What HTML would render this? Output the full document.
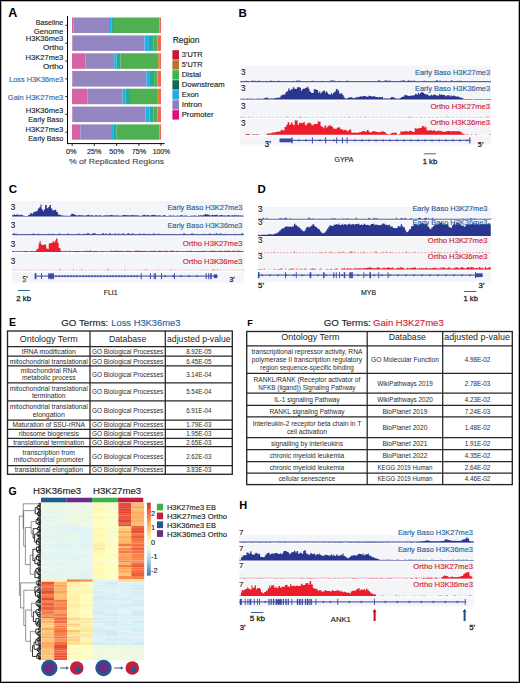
<!DOCTYPE html>
<html><head><meta charset="utf-8"><title>Figure</title>
<style>
html,body{margin:0;padding:0;background:#fff;}
body{width:520px;height:683px;overflow:hidden;position:relative;font-family:"Liberation Sans", sans-serif;}
.frame{position:absolute;left:0;top:0;width:518px;height:681px;border:1px solid #000;box-shadow:inset 0 0 0 1px rgba(0,0,0,0.3);pointer-events:none;}
svg{position:absolute;left:0;top:0;display:block;}
</style></head><body>
<svg width="520" height="683" viewBox="0 0 520 683" font-family='"Liberation Sans", sans-serif'><text x="8.30" y="17.00" font-size="12.5" fill="#000" font-weight="bold" >A</text>
<text x="238.50" y="16.80" font-size="11.5" fill="#000" font-weight="bold" >B</text>
<text x="8.70" y="192.60" font-size="11.5" fill="#000" font-weight="bold" >C</text>
<text x="257.50" y="193.00" font-size="11.5" fill="#000" font-weight="bold" >D</text>
<text x="9.00" y="325.80" font-size="10.5" fill="#000" font-weight="bold" >E</text>
<text x="247.30" y="325.60" font-size="9.0" fill="#000" font-weight="bold" >F</text>
<text x="8.50" y="495.00" font-size="10.5" fill="#000" font-weight="bold" >G</text>
<text x="239.30" y="509.40" font-size="11" fill="#000" font-weight="bold" >H</text>
<text x="35.70" y="24.50" font-size="7.6" fill="#231f20" stroke="#231f20" stroke-width="0.14" textLength="27.60" lengthAdjust="spacingAndGlyphs" >Baseline</text>
<text x="33.80" y="34.00" font-size="7.6" fill="#231f20" stroke="#231f20" stroke-width="0.14" textLength="29.50" lengthAdjust="spacingAndGlyphs" >Genome</text>
<text x="25.80" y="41.20" font-size="7.6" fill="#231f20" stroke="#231f20" stroke-width="0.14" textLength="37.50" lengthAdjust="spacingAndGlyphs" >H3K36me3</text>
<text x="43.00" y="50.40" font-size="7.6" fill="#231f20" stroke="#231f20" stroke-width="0.14" textLength="20.30" lengthAdjust="spacingAndGlyphs" >Ortho</text>
<text x="25.60" y="59.50" font-size="7.6" fill="#231f20" stroke="#231f20" stroke-width="0.14" textLength="37.70" lengthAdjust="spacingAndGlyphs" >H3K27me3</text>
<text x="43.00" y="68.50" font-size="7.6" fill="#231f20" stroke="#231f20" stroke-width="0.14" textLength="20.30" lengthAdjust="spacingAndGlyphs" >Ortho</text>
<text x="9.20" y="81.80" font-size="7.6" fill="#2f6aa3" stroke="#2f6aa3" stroke-width="0.14" textLength="54.10" lengthAdjust="spacingAndGlyphs" >Loss H3K36me3</text>
<text x="7.80" y="99.60" font-size="7.6" fill="#2f6aa3" stroke="#2f6aa3" stroke-width="0.14" textLength="55.50" lengthAdjust="spacingAndGlyphs" >Gain H3K27me3</text>
<text x="25.80" y="112.80" font-size="7.6" fill="#231f20" stroke="#231f20" stroke-width="0.14" textLength="37.50" lengthAdjust="spacingAndGlyphs" >H3K36me3</text>
<text x="28.30" y="122.20" font-size="7.6" fill="#231f20" stroke="#231f20" stroke-width="0.14" textLength="35.00" lengthAdjust="spacingAndGlyphs" >Early Baso</text>
<text x="25.60" y="131.90" font-size="7.6" fill="#231f20" stroke="#231f20" stroke-width="0.14" textLength="37.70" lengthAdjust="spacingAndGlyphs" >H3K27me3</text>
<text x="28.30" y="141.20" font-size="7.6" fill="#231f20" stroke="#231f20" stroke-width="0.14" textLength="35.00" lengthAdjust="spacingAndGlyphs" >Early Baso</text>
<line x1="67.50" y1="16.00" x2="67.50" y2="144.10" stroke="#000" stroke-width="1" />
<line x1="67.00" y1="143.60" x2="164.60" y2="143.60" stroke="#000" stroke-width="1" />
<line x1="65.20" y1="25.30" x2="67.50" y2="25.30" stroke="#000" stroke-width="0.8" />
<line x1="65.20" y1="43.30" x2="67.50" y2="43.30" stroke="#000" stroke-width="0.8" />
<line x1="65.20" y1="61.10" x2="67.50" y2="61.10" stroke="#000" stroke-width="0.8" />
<line x1="65.20" y1="78.90" x2="67.50" y2="78.90" stroke="#000" stroke-width="0.8" />
<line x1="65.20" y1="96.50" x2="67.50" y2="96.50" stroke="#000" stroke-width="0.8" />
<line x1="65.20" y1="114.40" x2="67.50" y2="114.40" stroke="#000" stroke-width="0.8" />
<line x1="65.20" y1="132.20" x2="67.50" y2="132.20" stroke="#000" stroke-width="0.8" />
<line x1="72.20" y1="143.60" x2="72.20" y2="146.00" stroke="#000" stroke-width="0.8" />
<line x1="94.30" y1="143.60" x2="94.30" y2="146.00" stroke="#000" stroke-width="0.8" />
<line x1="116.60" y1="143.60" x2="116.60" y2="146.00" stroke="#000" stroke-width="0.8" />
<line x1="138.90" y1="143.60" x2="138.90" y2="146.00" stroke="#000" stroke-width="0.8" />
<line x1="161.00" y1="143.60" x2="161.00" y2="146.00" stroke="#000" stroke-width="0.8" />
<text x="65.90" y="153.75" font-size="6.8" fill="#231f20" stroke="#231f20" stroke-width="0.14" textLength="10.60" lengthAdjust="spacingAndGlyphs" >0%</text>
<text x="87.05" y="153.75" font-size="6.8" fill="#231f20" stroke="#231f20" stroke-width="0.14" textLength="14.50" lengthAdjust="spacingAndGlyphs" >25%</text>
<text x="109.35" y="153.75" font-size="6.8" fill="#231f20" stroke="#231f20" stroke-width="0.14" textLength="14.50" lengthAdjust="spacingAndGlyphs" >50%</text>
<text x="131.65" y="153.75" font-size="6.8" fill="#231f20" stroke="#231f20" stroke-width="0.14" textLength="14.50" lengthAdjust="spacingAndGlyphs" >75%</text>
<text x="152.65" y="153.75" font-size="6.8" fill="#231f20" stroke="#231f20" stroke-width="0.14" textLength="17.30" lengthAdjust="spacingAndGlyphs" >100%</text>
<text x="68.90" y="164.30" font-size="7.6" fill="#4d4d4f" stroke="#4d4d4f" stroke-width="0.14" textLength="95.20" lengthAdjust="spacingAndGlyphs" >% of Replicated Regions</text>
<rect x="72.00" y="17.50" width="1.70" height="15.50" fill="#d563a6" />
<rect x="73.70" y="17.50" width="35.30" height="15.50" fill="#9386c1" />
<rect x="109.00" y="17.50" width="2.30" height="15.50" fill="#1fb3ea" />
<rect x="111.30" y="17.50" width="1.70" height="15.50" fill="#2aaa95" />
<rect x="113.00" y="17.50" width="46.60" height="15.50" fill="#4eb050" />
<rect x="159.60" y="17.50" width="0.40" height="15.50" fill="#d9893a" />
<rect x="160.00" y="17.50" width="1.00" height="15.50" fill="#f2665a" />
<rect x="72.00" y="35.40" width="0.60" height="15.50" fill="#d563a6" />
<rect x="72.60" y="35.40" width="72.00" height="15.50" fill="#9386c1" />
<rect x="144.60" y="35.40" width="4.40" height="15.50" fill="#1fb3ea" />
<rect x="149.00" y="35.40" width="4.70" height="15.50" fill="#2aaa95" />
<rect x="153.70" y="35.40" width="3.30" height="15.50" fill="#4eb050" />
<rect x="157.00" y="35.40" width="0.40" height="15.50" fill="#d9893a" />
<rect x="157.40" y="35.40" width="3.60" height="15.50" fill="#f2665a" />
<rect x="72.00" y="53.30" width="13.50" height="15.50" fill="#d563a6" />
<rect x="85.50" y="53.30" width="28.70" height="15.50" fill="#9386c1" />
<rect x="114.20" y="53.30" width="2.40" height="15.50" fill="#1fb3ea" />
<rect x="116.60" y="53.30" width="3.70" height="15.50" fill="#2aaa95" />
<rect x="120.30" y="53.30" width="37.80" height="15.50" fill="#4eb050" />
<rect x="158.10" y="53.30" width="1.10" height="15.50" fill="#d9893a" />
<rect x="159.20" y="53.30" width="1.80" height="15.50" fill="#f2665a" />
<rect x="72.00" y="71.00" width="0.60" height="15.60" fill="#d563a6" />
<rect x="72.60" y="71.00" width="73.80" height="15.60" fill="#9386c1" />
<rect x="146.40" y="71.00" width="3.50" height="15.60" fill="#1fb3ea" />
<rect x="149.90" y="71.00" width="4.20" height="15.60" fill="#2aaa95" />
<rect x="154.10" y="71.00" width="3.30" height="15.60" fill="#4eb050" />
<rect x="157.40" y="71.00" width="0.40" height="15.60" fill="#d9893a" />
<rect x="157.80" y="71.00" width="3.20" height="15.60" fill="#f2665a" />
<rect x="72.00" y="88.70" width="15.40" height="15.50" fill="#d563a6" />
<rect x="87.40" y="88.70" width="35.20" height="15.50" fill="#9386c1" />
<rect x="122.60" y="88.70" width="3.20" height="15.50" fill="#1fb3ea" />
<rect x="125.80" y="88.70" width="4.20" height="15.50" fill="#2aaa95" />
<rect x="130.00" y="88.70" width="27.80" height="15.50" fill="#4eb050" />
<rect x="157.80" y="88.70" width="1.20" height="15.50" fill="#d9893a" />
<rect x="159.00" y="88.70" width="2.00" height="15.50" fill="#f2665a" />
<rect x="72.00" y="106.60" width="0.60" height="15.50" fill="#d563a6" />
<rect x="72.60" y="106.60" width="72.90" height="15.50" fill="#9386c1" />
<rect x="145.50" y="106.60" width="4.00" height="15.50" fill="#1fb3ea" />
<rect x="149.50" y="106.60" width="4.20" height="15.50" fill="#2aaa95" />
<rect x="153.70" y="106.60" width="3.30" height="15.50" fill="#4eb050" />
<rect x="157.00" y="106.60" width="0.40" height="15.50" fill="#d9893a" />
<rect x="157.40" y="106.60" width="3.60" height="15.50" fill="#f2665a" />
<rect x="72.00" y="124.40" width="8.40" height="15.30" fill="#d563a6" />
<rect x="80.40" y="124.40" width="31.60" height="15.30" fill="#9386c1" />
<rect x="112.00" y="124.40" width="1.90" height="15.30" fill="#1fb3ea" />
<rect x="113.90" y="124.40" width="2.70" height="15.30" fill="#2aaa95" />
<rect x="116.60" y="124.40" width="43.00" height="15.30" fill="#4eb050" />
<rect x="159.60" y="124.40" width="0.40" height="15.30" fill="#d9893a" />
<rect x="160.00" y="124.40" width="1.00" height="15.30" fill="#f2665a" />
<text x="172.80" y="42.50" font-size="8.2" fill="#231f20" stroke="#231f20" stroke-width="0.14" textLength="26.60" lengthAdjust="spacingAndGlyphs" >Region</text>
<rect x="172.40" y="50.20" width="6.60" height="9.40" fill="#c8173a" />
<text x="181.70" y="56.80" font-size="7.4" fill="#231f20" stroke="#231f20" stroke-width="0.14" textLength="21.00" lengthAdjust="spacingAndGlyphs" >3’UTR</text>
<rect x="172.40" y="60.20" width="6.60" height="9.40" fill="#b8732e" />
<text x="181.70" y="66.80" font-size="7.4" fill="#231f20" stroke="#231f20" stroke-width="0.14" textLength="21.00" lengthAdjust="spacingAndGlyphs" >5’UTR</text>
<rect x="172.40" y="70.20" width="6.60" height="9.40" fill="#3bb44a" />
<text x="181.70" y="76.80" font-size="7.4" fill="#231f20" stroke="#231f20" stroke-width="0.14" textLength="19.40" lengthAdjust="spacingAndGlyphs" >Distal</text>
<rect x="172.40" y="80.20" width="6.60" height="9.40" fill="#11684f" />
<text x="181.70" y="86.80" font-size="7.4" fill="#231f20" stroke="#231f20" stroke-width="0.14" textLength="43.00" lengthAdjust="spacingAndGlyphs" >Downstream</text>
<rect x="172.40" y="90.20" width="6.60" height="9.40" fill="#29a9e1" />
<text x="181.70" y="96.80" font-size="7.4" fill="#231f20" stroke="#231f20" stroke-width="0.14" textLength="17.00" lengthAdjust="spacingAndGlyphs" >Exon</text>
<rect x="172.40" y="100.20" width="6.60" height="9.40" fill="#8a7fbf" />
<text x="181.70" y="106.80" font-size="7.4" fill="#231f20" stroke="#231f20" stroke-width="0.14" textLength="20.30" lengthAdjust="spacingAndGlyphs" >Intron</text>
<rect x="172.40" y="110.20" width="6.60" height="9.40" fill="#e3097e" />
<text x="181.70" y="116.80" font-size="7.4" fill="#231f20" stroke="#231f20" stroke-width="0.14" textLength="32.00" lengthAdjust="spacingAndGlyphs" >Promoter</text>
<rect x="240.20" y="65.50" width="250.80" height="16.90" fill="#f4f5f9" />
<rect x="240.20" y="83.50" width="250.80" height="16.60" fill="#f4f5f9" />
<rect x="240.20" y="101.20" width="250.80" height="17.00" fill="#f4f5f9" />
<rect x="240.20" y="119.30" width="250.80" height="16.10" fill="#f4f5f9" />
<rect x="240.20" y="136.50" width="250.80" height="8.10" fill="#f4f5f9" />
<rect x="240.50" y="68.18" width="5.08" height="7.79" fill="#ffffff" />
<text x="240.90" y="74.90" font-size="8.2" fill="#1a1a1a" stroke="#1a1a1a" stroke-width="0.14" >3</text>
<rect x="240.50" y="84.38" width="5.08" height="7.79" fill="#ffffff" />
<text x="240.90" y="91.10" font-size="8.2" fill="#1a1a1a" stroke="#1a1a1a" stroke-width="0.14" >3</text>
<rect x="240.50" y="102.48" width="5.08" height="7.79" fill="#ffffff" />
<text x="240.90" y="109.20" font-size="8.2" fill="#1a1a1a" stroke="#1a1a1a" stroke-width="0.14" >3</text>
<rect x="240.50" y="119.28" width="5.08" height="7.79" fill="#ffffff" />
<text x="240.90" y="126.00" font-size="8.2" fill="#1a1a1a" stroke="#1a1a1a" stroke-width="0.14" >3</text>
<line x1="240.20" y1="81.65" x2="491.00" y2="81.65" stroke="#2a3590" stroke-width="1.1" opacity="0.75"/>
<rect x="321.42" y="80.86" width="1.91" height="0.54" fill="#2a3590" opacity="0.75"/>
<rect x="258.37" y="80.52" width="1.42" height="0.88" fill="#2a3590" opacity="0.75"/>
<rect x="254.75" y="80.54" width="0.86" height="0.86" fill="#2a3590" opacity="0.75"/>
<rect x="348.96" y="80.94" width="0.95" height="0.46" fill="#2a3590" opacity="0.75"/>
<rect x="346.67" y="80.26" width="1.01" height="1.14" fill="#2a3590" opacity="0.75"/>
<rect x="296.19" y="80.44" width="2.41" height="0.96" fill="#2a3590" opacity="0.75"/>
<rect x="384.94" y="80.64" width="2.46" height="0.76" fill="#2a3590" opacity="0.75"/>
<rect x="251.88" y="80.23" width="1.29" height="1.17" fill="#2a3590" opacity="0.75"/>
<rect x="276.38" y="80.89" width="1.32" height="0.51" fill="#2a3590" opacity="0.75"/>
<rect x="444.88" y="80.84" width="1.79" height="0.56" fill="#2a3590" opacity="0.75"/>
<rect x="400.44" y="80.66" width="1.73" height="0.74" fill="#2a3590" opacity="0.75"/>
<rect x="255.95" y="80.95" width="1.15" height="0.45" fill="#2a3590" opacity="0.75"/>
<rect x="410.84" y="80.62" width="1.33" height="0.78" fill="#2a3590" opacity="0.75"/>
<rect x="387.06" y="80.59" width="1.31" height="0.81" fill="#2a3590" opacity="0.75"/>
<rect x="439.43" y="80.37" width="1.21" height="1.03" fill="#2a3590" opacity="0.75"/>
<rect x="384.27" y="80.53" width="2.29" height="0.87" fill="#2a3590" opacity="0.75"/>
<rect x="423.14" y="80.74" width="2.47" height="0.66" fill="#2a3590" opacity="0.75"/>
<rect x="269.81" y="80.62" width="2.09" height="0.78" fill="#2a3590" opacity="0.75"/>
<rect x="278.32" y="80.56" width="0.87" height="0.84" fill="#2a3590" opacity="0.75"/>
<rect x="407.79" y="80.31" width="1.77" height="1.09" fill="#2a3590" opacity="0.75"/>
<rect x="459.77" y="80.72" width="1.98" height="0.68" fill="#2a3590" opacity="0.75"/>
<rect x="389.27" y="80.48" width="1.58" height="0.92" fill="#2a3590" opacity="0.75"/>
<rect x="450.86" y="80.15" width="1.61" height="1.25" fill="#2a3590" opacity="0.75"/>
<rect x="406.77" y="80.95" width="1.99" height="0.45" fill="#2a3590" opacity="0.75"/>
<rect x="402.50" y="80.11" width="2.20" height="1.29" fill="#2a3590" opacity="0.75"/>
<rect x="311.58" y="80.65" width="1.94" height="0.75" fill="#2a3590" opacity="0.75"/>
<rect x="245.86" y="80.58" width="1.09" height="0.82" fill="#2a3590" opacity="0.75"/>
<rect x="269.57" y="80.95" width="2.11" height="0.45" fill="#2a3590" opacity="0.75"/>
<rect x="272.64" y="80.78" width="1.46" height="0.62" fill="#2a3590" opacity="0.75"/>
<rect x="458.75" y="80.93" width="1.56" height="0.47" fill="#2a3590" opacity="0.75"/>
<rect x="378.00" y="80.20" width="2.19" height="1.20" fill="#2a3590" opacity="0.75"/>
<rect x="456.89" y="80.75" width="1.51" height="0.65" fill="#2a3590" opacity="0.75"/>
<rect x="330.18" y="80.20" width="2.43" height="1.20" fill="#2a3590" opacity="0.75"/>
<rect x="278.05" y="80.84" width="1.19" height="0.56" fill="#2a3590" opacity="0.75"/>
<rect x="298.72" y="80.56" width="1.80" height="0.84" fill="#2a3590" opacity="0.75"/>
<rect x="306.10" y="81.00" width="1.51" height="0.40" fill="#2a3590" opacity="0.75"/>
<rect x="332.81" y="80.49" width="2.42" height="0.91" fill="#2a3590" opacity="0.75"/>
<rect x="413.38" y="80.54" width="1.85" height="0.86" fill="#2a3590" opacity="0.75"/>
<rect x="409.79" y="80.95" width="2.33" height="0.45" fill="#2a3590" opacity="0.75"/>
<rect x="435.82" y="80.21" width="2.16" height="1.19" fill="#2a3590" opacity="0.75"/>
<rect x="338.61" y="80.64" width="0.98" height="0.76" fill="#2a3590" opacity="0.75"/>
<rect x="399.28" y="80.94" width="0.91" height="0.46" fill="#2a3590" opacity="0.75"/>
<rect x="292.56" y="80.85" width="1.38" height="0.55" fill="#2a3590" opacity="0.75"/>
<rect x="253.39" y="81.00" width="1.06" height="0.40" fill="#2a3590" opacity="0.75"/>
<rect x="265.65" y="80.67" width="0.84" height="0.73" fill="#2a3590" opacity="0.75"/>
<path d="M240.20,99.50L240.20,98.72L241.24,98.72L241.24,98.80L242.91,98.80L242.91,98.78L243.77,98.78L243.77,98.81L245.42,98.81L245.42,98.91L246.75,98.91L246.75,98.61L248.08,98.61L248.08,98.63L249.13,98.63L249.13,98.84L250.46,98.84L250.46,98.82L252.08,98.82L252.08,98.66L253.72,98.66L253.72,98.83L254.87,98.83L254.87,98.91L255.92,98.91L255.92,98.64L257.67,98.64L257.67,98.60L258.68,98.60L258.68,98.83L260.11,98.83L260.11,98.67L261.57,98.67L261.57,98.87L263.29,98.87L263.29,98.42L264.26,98.42L264.26,98.11L265.87,98.11L265.87,97.58L267.07,97.58L267.07,97.75L268.03,97.75L268.03,98.39L269.64,98.39L269.64,98.52L271.11,98.52L271.11,98.55L271.90,98.55L271.90,98.40L273.65,98.40L273.65,98.24L275.29,98.24L275.29,97.99L276.38,97.99L276.38,97.78L277.43,97.78L277.43,97.65L279.15,97.65L279.15,97.62L280.54,97.62L280.54,95.52L282.28,95.52L282.28,94.48L283.60,94.48L283.60,94.67L284.57,94.67L284.57,94.23L285.53,94.23L285.53,92.09L286.89,92.09L286.89,91.27L288.25,91.27L288.25,88.41L289.61,88.41L289.61,90.18L291.19,90.18L291.19,89.26L292.76,89.26L292.76,87.30L294.18,87.30L294.18,88.69L295.68,88.69L295.68,89.06L296.96,89.06L296.96,87.18L298.65,87.18L298.65,87.30L300.01,87.30L300.01,87.63L300.93,87.63L300.93,90.98L301.79,90.98L301.79,89.21L303.26,89.21L303.26,88.56L304.20,88.56L304.20,88.74L305.13,88.74L305.13,88.09L306.14,88.09L306.14,87.61L307.43,87.61L307.43,86.45L308.38,86.45L308.38,88.85L309.51,88.85L309.51,91.38L311.04,91.38L311.04,92.81L312.28,92.81L312.28,92.96L313.71,92.96L313.71,89.32L315.51,89.32L315.51,89.49L316.40,89.49L316.40,90.08L317.99,90.08L317.99,92.84L319.21,92.84L319.21,91.26L320.26,91.26L320.26,93.16L321.63,93.16L321.63,91.63L322.47,91.63L322.47,91.33L323.33,91.33L323.33,90.39L324.94,90.39L324.94,92.81L325.79,92.81L325.79,91.18L326.92,91.18L326.92,92.56L327.98,92.56L327.98,94.07L329.01,94.07L329.01,94.48L329.84,94.48L329.84,94.42L330.94,94.42L330.94,93.24L332.24,93.24L332.24,94.42L333.04,94.42L333.04,92.66L334.58,92.66L334.58,91.56L335.85,91.56L335.85,88.92L337.49,88.92L337.49,90.47L339.13,90.47L339.13,93.71L340.63,93.71L340.63,93.33L342.28,93.33L342.28,94.67L343.48,94.67L343.48,96.58L344.39,96.58L344.39,98.16L345.44,98.16L345.44,98.49L347.12,98.49L347.12,97.91L348.15,97.91L348.15,97.75L349.10,97.75L349.10,97.35L350.88,97.35L350.88,97.37L351.91,97.37L351.91,97.71L353.06,97.71L353.06,98.18L354.34,98.18L354.34,97.66L355.64,97.66L355.64,97.79L356.52,97.79L356.52,96.81L357.32,96.81L357.32,97.13L358.71,97.13L358.71,96.72L360.17,96.72L360.17,96.22L361.36,96.22L361.36,96.63L362.29,96.63L362.29,96.19L363.12,96.19L363.12,95.99L364.55,95.99L364.55,96.08L365.47,96.08L365.47,96.51L367.12,96.51L367.12,96.68L368.51,96.68L368.51,95.80L370.01,95.80L370.01,95.96L370.93,95.96L370.93,96.40L372.58,96.40L372.58,96.21L374.01,96.21L374.01,96.30L374.79,96.30L374.79,96.65L376.10,96.65L376.10,97.07L376.95,97.07L376.95,96.94L377.80,96.94L377.80,97.38L378.80,97.38L378.80,96.99L380.09,96.99L380.09,97.27L381.58,97.27L381.58,97.02L383.03,97.02L383.03,98.48L384.58,98.48L384.58,98.33L385.43,98.33L385.43,98.47L386.91,98.47L386.91,98.55L388.17,98.55L388.17,98.42L389.97,98.42L389.97,97.67L391.23,97.67L391.23,96.95L392.48,96.95L392.48,97.37L394.24,97.37L394.24,98.02L395.17,98.02L395.17,98.51L396.80,98.51L396.80,98.60L397.82,98.60L397.82,98.58L398.60,98.58L398.60,98.75L399.53,98.75L399.53,98.06L401.18,98.06L401.18,97.06L402.84,97.06L402.84,96.41L404.36,96.41L404.36,94.71L405.53,94.71L405.53,95.35L406.92,95.35L406.92,95.51L407.98,95.51L407.98,96.08L409.63,96.08L409.63,95.75L410.67,95.75L410.67,95.73L411.65,95.73L411.65,95.54L413.35,95.54L413.35,95.15L415.08,95.15L415.08,93.72L416.61,93.72L416.61,94.79L417.86,94.79L417.86,92.68L418.93,92.68L418.93,94.15L419.85,94.15L419.85,93.18L420.94,93.18L420.94,92.25L421.99,92.25L421.99,92.29L423.35,92.29L423.35,93.08L424.29,93.08L424.29,93.98L425.59,93.98L425.59,94.45L427.41,94.45L427.41,94.57L428.39,94.57L428.39,95.70L429.26,95.70L429.26,95.84L430.63,95.84L430.63,94.75L431.84,94.75L431.84,95.40L433.02,95.40L433.02,94.81L434.08,94.81L434.08,94.45L435.39,94.45L435.39,94.98L436.39,94.98L436.39,95.68L437.59,95.68L437.59,95.48L439.25,95.48L439.25,93.67L440.06,93.67L440.06,94.73L441.34,94.73L441.34,94.40L442.52,94.40L442.52,94.94L444.19,94.94L444.19,94.95L445.09,94.95L445.09,96.20L446.58,96.20L446.58,95.18L448.03,95.18L448.03,95.30L449.38,95.30L449.38,96.43L450.40,96.43L450.40,95.25L451.50,95.25L451.50,96.29L452.94,96.29L452.94,95.57L453.80,95.57L453.80,95.73L454.98,95.73L454.98,96.35L455.77,96.35L455.77,96.48L457.55,96.48L457.55,96.42L458.82,96.42L458.82,97.25L460.60,97.25L460.60,97.61L461.40,97.61L461.40,98.10L462.62,98.10L462.62,98.52L463.64,98.52L463.64,98.91L465.13,98.91L465.13,98.96L466.43,98.96L466.43,98.94L468.06,98.94L468.06,99.08L469.15,99.08L469.15,99.04L470.16,99.04L470.16,99.01L471.10,99.01L471.10,99.09L472.02,99.09L472.02,99.13L473.74,99.13L473.74,99.01L475.49,99.01L475.49,99.09L477.04,99.09L477.04,99.01L478.21,99.01L478.21,99.01L479.28,99.01L479.28,98.95L481.06,98.95L481.06,99.05L482.70,99.05L482.70,99.13L483.87,99.13L483.87,99.11L485.58,99.11L485.58,99.07L487.16,99.07L487.16,99.05L488.89,99.05L488.89,98.99L490.03,98.99L490.03,98.94L491.00,98.94L491.00,99.50Z" fill="#2a3590"/>
<line x1="240.20" y1="117.60" x2="491.00" y2="117.60" stroke="#ec1c2a" stroke-width="0.8" opacity="0.32" stroke-dasharray="1.5,2.5"/>
<rect x="419.93" y="116.82" width="1.27" height="0.68" fill="#ec1c2a" opacity="0.32"/>
<rect x="241.15" y="116.42" width="2.36" height="1.08" fill="#ec1c2a" opacity="0.32"/>
<rect x="399.20" y="116.25" width="0.84" height="1.25" fill="#ec1c2a" opacity="0.32"/>
<rect x="298.85" y="116.67" width="2.43" height="0.83" fill="#ec1c2a" opacity="0.32"/>
<rect x="479.44" y="116.75" width="1.23" height="0.75" fill="#ec1c2a" opacity="0.32"/>
<rect x="348.03" y="116.66" width="2.38" height="0.84" fill="#ec1c2a" opacity="0.32"/>
<rect x="286.08" y="116.38" width="2.06" height="1.12" fill="#ec1c2a" opacity="0.32"/>
<rect x="446.55" y="116.40" width="1.83" height="1.10" fill="#ec1c2a" opacity="0.32"/>
<rect x="322.41" y="116.81" width="1.42" height="0.69" fill="#ec1c2a" opacity="0.32"/>
<rect x="436.39" y="117.03" width="1.14" height="0.47" fill="#ec1c2a" opacity="0.32"/>
<rect x="429.02" y="116.88" width="0.91" height="0.62" fill="#ec1c2a" opacity="0.32"/>
<rect x="248.69" y="116.60" width="1.35" height="0.90" fill="#ec1c2a" opacity="0.32"/>
<rect x="486.05" y="116.30" width="2.48" height="1.20" fill="#ec1c2a" opacity="0.32"/>
<rect x="306.63" y="117.02" width="0.96" height="0.48" fill="#ec1c2a" opacity="0.32"/>
<rect x="365.22" y="116.46" width="1.56" height="1.04" fill="#ec1c2a" opacity="0.32"/>
<rect x="298.94" y="116.72" width="1.85" height="0.78" fill="#ec1c2a" opacity="0.32"/>
<rect x="409.27" y="116.43" width="2.24" height="1.07" fill="#ec1c2a" opacity="0.32"/>
<rect x="406.84" y="116.99" width="2.23" height="0.51" fill="#ec1c2a" opacity="0.32"/>
<path d="M240.20,134.80L240.20,134.80L241.57,134.80L241.57,134.80L243.12,134.80L243.12,134.80L244.15,134.80L244.15,134.80L245.09,134.80L245.09,134.15L246.29,134.15L246.29,134.07L247.91,134.07L247.91,133.91L249.18,133.91L249.18,133.93L250.00,133.93L250.00,134.80L250.91,134.80L250.91,134.80L252.70,134.80L252.70,134.04L254.38,134.04L254.38,134.80L255.43,134.80L255.43,134.03L256.83,134.03L256.83,134.14L257.76,134.14L257.76,134.80L258.80,134.80L258.80,134.12L259.59,134.12L259.59,134.80L261.08,134.80L261.08,134.80L262.18,134.80L262.18,134.80L263.79,134.80L263.79,134.80L264.64,134.80L264.64,134.80L265.83,134.80L265.83,134.13L266.78,134.13L266.78,133.86L267.88,133.86L267.88,133.17L269.25,133.17L269.25,133.57L270.93,133.57L270.93,133.08L271.91,133.08L271.91,132.83L272.70,132.83L272.70,132.46L274.33,132.46L274.33,132.51L275.59,132.51L275.59,132.08L276.94,132.08L276.94,131.67L277.82,131.67L277.82,131.45L279.12,131.45L279.12,131.74L280.44,131.74L280.44,130.13L281.73,130.13L281.73,129.65L282.72,129.65L282.72,130.61L284.51,130.61L284.51,126.97L286.26,126.97L286.26,124.70L287.68,124.70L287.68,122.31L289.28,122.31L289.28,124.69L290.94,124.69L290.94,122.18L291.94,122.18L291.94,123.77L293.12,123.77L293.12,125.28L294.66,125.28L294.66,120.60L296.02,120.60L296.02,120.60L297.67,120.60L297.67,124.72L299.03,124.72L299.03,122.88L300.24,122.88L300.24,122.80L301.71,122.80L301.71,123.48L302.51,123.48L302.51,122.79L303.54,122.79L303.54,122.04L304.79,122.04L304.79,124.72L305.69,124.72L305.69,125.39L306.56,125.39L306.56,124.05L307.38,124.05L307.38,122.96L308.93,122.96L308.93,122.20L309.76,122.20L309.76,123.38L311.53,123.38L311.53,125.31L313.35,125.31L313.35,124.35L314.33,124.35L314.33,123.97L316.10,123.97L316.10,123.95L317.70,123.95L317.70,121.33L318.85,121.33L318.85,121.69L320.56,121.69L320.56,125.92L321.49,125.92L321.49,126.40L322.49,126.40L322.49,127.34L323.60,127.34L323.60,128.29L324.55,128.29L324.55,125.43L326.26,125.43L326.26,127.65L327.16,127.65L327.16,126.82L328.31,126.82L328.31,125.62L329.69,125.62L329.69,125.48L331.51,125.48L331.51,126.77L333.12,126.77L333.12,128.49L334.50,128.49L334.50,128.75L335.74,128.75L335.74,129.35L336.57,129.35L336.57,127.82L338.01,127.82L338.01,127.28L339.48,127.28L339.48,127.83L340.30,127.83L340.30,129.54L341.53,129.54L341.53,129.02L342.44,129.02L342.44,129.71L343.25,129.71L343.25,130.40L344.14,130.40L344.14,129.84L345.53,129.84L345.53,130.18L346.95,130.18L346.95,131.36L348.71,131.36L348.71,129.82L349.59,129.82L349.59,129.41L351.18,129.41L351.18,132.48L351.97,132.48L351.97,132.71L353.12,132.71L353.12,132.68L354.87,132.68L354.87,132.49L356.59,132.49L356.59,132.99L357.79,132.99L357.79,132.40L359.38,132.40L359.38,132.19L361.14,132.19L361.14,131.62L362.56,131.62L362.56,130.93L364.18,130.93L364.18,131.37L365.27,131.37L365.27,131.65L366.87,131.65L366.87,129.91L368.53,129.91L368.53,131.87L370.08,131.87L370.08,132.44L370.97,132.44L370.97,132.31L372.10,132.31L372.10,131.34L373.75,131.34L373.75,131.25L375.11,131.25L375.11,131.60L376.43,131.60L376.43,132.03L378.22,132.03L378.22,132.35L379.01,132.35L379.01,132.35L380.57,132.35L380.57,131.56L381.69,131.56L381.69,131.52L382.72,131.52L382.72,131.48L384.22,131.48L384.22,132.12L385.49,132.12L385.49,133.54L386.72,133.54L386.72,133.80L387.72,133.80L387.72,134.02L388.65,134.02L388.65,134.80L389.54,134.80L389.54,134.07L390.35,134.07L390.35,133.57L391.79,133.57L391.79,132.89L392.64,132.89L392.64,132.87L394.27,132.87L394.27,132.69L395.12,132.69L395.12,132.76L396.88,132.76L396.88,134.80L397.87,134.80L397.87,134.80L398.69,134.80L398.69,134.08L400.33,134.08L400.33,131.35L401.21,131.35L401.21,131.75L402.21,131.75L402.21,131.47L403.01,131.47L403.01,131.53L404.53,131.53L404.53,131.37L406.31,131.37L406.31,131.13L407.74,131.13L407.74,131.82L408.97,131.82L408.97,130.79L410.48,130.79L410.48,131.00L412.16,131.00L412.16,131.71L413.12,131.71L413.12,131.95L414.69,131.95L414.69,128.30L415.98,128.30L415.98,128.75L416.95,128.75L416.95,128.39L418.60,128.39L418.60,128.34L419.67,128.34L419.67,128.08L420.97,128.08L420.97,128.12L421.84,128.12L421.84,126.01L423.43,126.01L423.43,126.56L424.63,126.56L424.63,127.65L425.50,127.65L425.50,126.78L426.50,126.78L426.50,130.27L427.80,130.27L427.80,130.59L428.82,130.59L428.82,130.51L430.38,130.51L430.38,130.00L431.53,130.00L431.53,130.70L433.18,130.70L433.18,130.24L434.14,130.24L434.14,130.58L435.52,130.58L435.52,131.20L437.22,131.20L437.22,131.12L438.32,131.12L438.32,130.32L439.26,130.32L439.26,131.16L440.38,131.16L440.38,130.67L441.50,130.67L441.50,131.57L443.04,131.57L443.04,132.10L443.92,132.10L443.92,131.80L445.53,131.80L445.53,131.29L446.51,131.29L446.51,131.34L447.51,131.34L447.51,131.03L448.70,131.03L448.70,131.09L450.00,131.09L450.00,131.31L450.93,131.31L450.93,131.39L452.48,131.39L452.48,130.99L453.86,130.99L453.86,131.14L454.87,131.14L454.87,131.20L456.46,131.20L456.46,131.24L457.95,131.24L457.95,131.32L459.05,131.32L459.05,131.36L460.27,131.36L460.27,132.01L461.70,132.01L461.70,133.40L462.96,133.40L462.96,133.63L464.70,133.63L464.70,134.80L466.16,134.80L466.16,134.35L467.96,134.35L467.96,134.80L469.30,134.80L469.30,134.80L470.90,134.80L470.90,134.32L472.27,134.32L472.27,134.80L473.80,134.80L473.80,134.80L475.24,134.80L475.24,134.32L477.01,134.32L477.01,134.80L478.50,134.80L478.50,134.80L480.08,134.80L480.08,134.80L481.88,134.80L481.88,134.80L482.72,134.80L482.72,134.80L483.91,134.80L483.91,134.80L485.13,134.80L485.13,134.80L486.64,134.80L486.64,134.80L487.69,134.80L487.69,134.80L489.24,134.80L489.24,134.32L490.86,134.32L490.86,134.80L491.00,134.80L491.00,134.80Z" fill="#ec1c2a"/>
<line x1="279.60" y1="140.40" x2="470.30" y2="140.40" stroke="#5a63b8" stroke-width="1.2" />
<rect x="291.40" y="137.40" width="1.20" height="6.00" fill="#3b49a6" />
<rect x="311.90" y="137.40" width="1.00" height="6.00" fill="#3b49a6" />
<rect x="325.10" y="137.40" width="1.00" height="6.00" fill="#3b49a6" />
<rect x="336.20" y="137.40" width="1.00" height="6.00" fill="#3b49a6" />
<rect x="342.00" y="137.40" width="1.00" height="6.00" fill="#3b49a6" />
<rect x="346.60" y="137.40" width="1.00" height="6.00" fill="#3b49a6" />
<rect x="469.20" y="137.40" width="1.20" height="6.00" fill="#3b49a6" />
<rect x="279.60" y="138.50" width="12.70" height="3.80" fill="#3b49a6" />
<path d="M299.30,139.40L297.70,140.40L299.30,141.40Z" fill="#3b49a6" stroke="#3b49a6" stroke-width="0.3"/>
<path d="M306.30,139.40L304.70,140.40L306.30,141.40Z" fill="#3b49a6" stroke="#3b49a6" stroke-width="0.3"/>
<path d="M320.30,139.40L318.70,140.40L320.30,141.40Z" fill="#3b49a6" stroke="#3b49a6" stroke-width="0.3"/>
<path d="M334.30,139.40L332.70,140.40L334.30,141.40Z" fill="#3b49a6" stroke="#3b49a6" stroke-width="0.3"/>
<path d="M355.30,139.40L353.70,140.40L355.30,141.40Z" fill="#3b49a6" stroke="#3b49a6" stroke-width="0.3"/>
<path d="M362.30,139.40L360.70,140.40L362.30,141.40Z" fill="#3b49a6" stroke="#3b49a6" stroke-width="0.3"/>
<path d="M369.30,139.40L367.70,140.40L369.30,141.40Z" fill="#3b49a6" stroke="#3b49a6" stroke-width="0.3"/>
<path d="M376.30,139.40L374.70,140.40L376.30,141.40Z" fill="#3b49a6" stroke="#3b49a6" stroke-width="0.3"/>
<path d="M383.30,139.40L381.70,140.40L383.30,141.40Z" fill="#3b49a6" stroke="#3b49a6" stroke-width="0.3"/>
<path d="M390.30,139.40L388.70,140.40L390.30,141.40Z" fill="#3b49a6" stroke="#3b49a6" stroke-width="0.3"/>
<path d="M397.30,139.40L395.70,140.40L397.30,141.40Z" fill="#3b49a6" stroke="#3b49a6" stroke-width="0.3"/>
<path d="M404.30,139.40L402.70,140.40L404.30,141.40Z" fill="#3b49a6" stroke="#3b49a6" stroke-width="0.3"/>
<path d="M411.30,139.40L409.70,140.40L411.30,141.40Z" fill="#3b49a6" stroke="#3b49a6" stroke-width="0.3"/>
<path d="M418.30,139.40L416.70,140.40L418.30,141.40Z" fill="#3b49a6" stroke="#3b49a6" stroke-width="0.3"/>
<path d="M425.30,139.40L423.70,140.40L425.30,141.40Z" fill="#3b49a6" stroke="#3b49a6" stroke-width="0.3"/>
<path d="M432.30,139.40L430.70,140.40L432.30,141.40Z" fill="#3b49a6" stroke="#3b49a6" stroke-width="0.3"/>
<path d="M439.30,139.40L437.70,140.40L439.30,141.40Z" fill="#3b49a6" stroke="#3b49a6" stroke-width="0.3"/>
<path d="M446.30,139.40L444.70,140.40L446.30,141.40Z" fill="#3b49a6" stroke="#3b49a6" stroke-width="0.3"/>
<path d="M453.30,139.40L451.70,140.40L453.30,141.40Z" fill="#3b49a6" stroke="#3b49a6" stroke-width="0.3"/>
<path d="M460.30,139.40L458.70,140.40L460.30,141.40Z" fill="#3b49a6" stroke="#3b49a6" stroke-width="0.3"/>
<path d="M467.30,139.40L465.70,140.40L467.30,141.40Z" fill="#3b49a6" stroke="#3b49a6" stroke-width="0.3"/>
<text x="415.00" y="74.70" font-size="7.2" fill="#2a5f98" stroke="#2a5f98" stroke-width="0.14" textLength="75.10" lengthAdjust="spacingAndGlyphs" >Early Baso H3K27me3</text>
<text x="415.00" y="90.60" font-size="7.2" fill="#2a5f98" stroke="#2a5f98" stroke-width="0.14" textLength="75.10" lengthAdjust="spacingAndGlyphs" >Early Baso H3K36me3</text>
<text x="430.40" y="108.80" font-size="7.2" fill="#cc2338" stroke="#cc2338" stroke-width="0.14" textLength="59.70" lengthAdjust="spacingAndGlyphs" >Ortho H3K27me3</text>
<text x="430.40" y="125.30" font-size="7.2" fill="#cc2338" stroke="#cc2338" stroke-width="0.14" textLength="59.70" lengthAdjust="spacingAndGlyphs" >Ortho H3K36me3</text>
<text x="264.80" y="146.80" font-size="8.2" fill="#1e1e1e" stroke="#1e1e1e" stroke-width="0.28" textLength="6.20" lengthAdjust="spacingAndGlyphs" >3’</text>
<text x="477.70" y="146.80" font-size="8.0" fill="#1e1e1e" font-weight="bold" textLength="6.10" lengthAdjust="spacingAndGlyphs" >5’</text>
<text x="334.40" y="161.90" font-size="6.6" fill="#231f20" stroke="#231f20" stroke-width="0.14" textLength="19.10" lengthAdjust="spacingAndGlyphs" >GYPA</text>
<line x1="423.90" y1="153.80" x2="435.90" y2="153.80" stroke="#2a6ea0" stroke-width="1" />
<text x="422.70" y="163.50" font-size="7.8" fill="#231f20" stroke="#231f20" stroke-width="0.28" textLength="14.60" lengthAdjust="spacingAndGlyphs" >1 kb</text>
<rect x="12.00" y="200.80" width="231.75" height="16.40" fill="#f4f5f9" />
<rect x="12.00" y="218.30" width="231.75" height="17.10" fill="#f4f5f9" />
<rect x="12.00" y="236.50" width="231.75" height="16.20" fill="#f4f5f9" />
<rect x="12.00" y="253.80" width="231.75" height="17.10" fill="#f4f5f9" />
<rect x="12.00" y="272.00" width="231.75" height="10.70" fill="#f4f5f9" />
<rect x="10.40" y="203.28" width="5.08" height="7.79" fill="#ffffff" />
<text x="10.80" y="210.00" font-size="8.2" fill="#1a1a1a" stroke="#1a1a1a" stroke-width="0.14" >3</text>
<rect x="10.40" y="221.28" width="5.08" height="7.79" fill="#ffffff" />
<text x="10.80" y="228.00" font-size="8.2" fill="#1a1a1a" stroke="#1a1a1a" stroke-width="0.14" >3</text>
<rect x="10.40" y="239.78" width="5.08" height="7.79" fill="#ffffff" />
<text x="10.80" y="246.50" font-size="8.2" fill="#1a1a1a" stroke="#1a1a1a" stroke-width="0.14" >3</text>
<rect x="10.40" y="257.03" width="5.08" height="7.79" fill="#ffffff" />
<text x="10.80" y="263.75" font-size="8.2" fill="#1a1a1a" stroke="#1a1a1a" stroke-width="0.14" >3</text>
<path d="M12.00,216.60L12.00,215.20L13.62,215.20L13.62,214.59L14.99,214.59L14.99,215.02L16.13,215.02L16.13,214.60L17.76,214.60L17.76,214.77L19.11,214.77L19.11,215.21L20.26,215.21L20.26,214.45L21.43,214.45L21.43,215.04L22.41,215.04L22.41,215.56L23.48,215.56L23.48,215.83L24.70,215.83L24.70,215.94L26.45,215.94L26.45,216.12L28.17,216.12L28.17,215.01L29.82,215.01L29.82,213.38L30.61,213.38L30.61,212.89L31.65,212.89L31.65,214.21L32.67,214.21L32.67,212.77L33.61,212.77L33.61,212.00L34.57,212.00L34.57,211.63L36.16,211.63L36.16,210.88L37.76,210.88L37.76,208.42L39.26,208.42L39.26,207.25L40.49,207.25L40.49,204.47L41.55,204.47L41.55,209.37L42.84,209.37L42.84,211.14L43.77,211.14L43.77,209.38L45.11,209.38L45.11,205.07L46.77,205.07L46.77,208.27L48.24,208.27L48.24,207.10L49.46,207.10L49.46,205.08L50.90,205.08L50.90,208.49L52.31,208.49L52.31,210.60L53.44,210.60L53.44,210.35L54.72,210.35L54.72,209.74L56.25,209.74L56.25,212.11L57.92,212.11L57.92,214.51L59.25,214.51L59.25,214.75L60.48,214.75L60.48,215.34L62.12,215.34L62.12,215.47L63.43,215.47L63.43,215.70L64.89,215.70L64.89,215.86L65.98,215.86L65.98,215.75L66.80,215.75L66.80,215.63L67.63,215.63L67.63,216.06L69.37,216.06L69.37,215.50L71.10,215.50L71.10,213.99L72.53,213.99L72.53,213.83L74.02,213.83L74.02,214.72L75.27,214.72L75.27,214.63L76.24,214.63L76.24,215.57L77.97,215.57L77.97,215.18L79.61,215.18L79.61,215.01L80.65,215.01L80.65,215.40L81.77,215.40L81.77,215.35L83.52,215.35L83.52,215.66L84.34,215.66L84.34,215.66L85.72,215.66L85.72,214.97L86.51,214.97L86.51,215.32L88.27,215.32L88.27,214.86L89.47,214.86L89.47,215.55L90.48,215.55L90.48,215.41L91.26,215.41L91.26,215.16L93.05,215.16L93.05,215.65L93.96,215.65L93.96,215.80L94.99,215.80L94.99,215.28L95.82,215.28L95.82,215.19L97.49,215.19L97.49,215.73L99.01,215.73L99.01,215.24L100.79,215.24L100.79,215.68L102.25,215.68L102.25,215.84L103.79,215.84L103.79,215.31L104.63,215.31L104.63,215.42L106.12,215.42L106.12,215.28L107.57,215.28L107.57,215.52L109.16,215.52L109.16,215.28L110.25,215.28L110.25,215.10L111.89,215.10L111.89,215.33L113.53,215.33L113.53,215.58L115.24,215.58L115.24,215.56L116.64,215.56L116.64,215.16L117.72,215.16L117.72,215.77L118.94,215.77L118.94,215.41L120.64,215.41L120.64,215.76L122.26,215.76L122.26,215.17L123.33,215.17L123.33,215.09L124.82,215.09L124.82,215.02L125.69,215.02L125.69,215.29L126.68,215.29L126.68,215.17L127.70,215.17L127.70,215.26L128.96,215.26L128.96,215.58L130.53,215.58L130.53,215.15L131.40,215.15L131.40,215.07L132.42,215.07L132.42,215.24L134.12,215.24L134.12,215.31L135.51,215.31L135.51,215.58L136.48,215.58L136.48,215.20L137.85,215.20L137.85,215.39L138.78,215.39L138.78,215.71L139.95,215.71L139.95,215.70L141.55,215.70L141.55,215.65L142.69,215.65L142.69,215.06L143.50,215.06L143.50,214.85L144.79,214.85L144.79,215.17L146.38,215.17L146.38,215.33L147.96,215.33L147.96,215.01L149.00,215.01L149.00,215.63L149.97,215.63L149.97,215.49L151.33,215.49L151.33,215.03L153.10,215.03L153.10,214.64L154.50,214.64L154.50,215.37L156.27,215.37L156.27,215.39L158.05,215.39L158.05,215.57L159.00,215.57L159.00,215.20L159.82,215.20L159.82,215.60L161.54,215.60L161.54,215.90L163.05,215.90L163.05,215.12L163.99,215.12L163.99,215.34L165.08,215.34L165.08,215.51L166.19,215.51L166.19,215.89L167.15,215.89L167.15,215.94L167.94,215.94L167.94,215.76L169.69,215.76L169.69,215.44L171.39,215.44L171.39,215.68L173.14,215.68L173.14,215.59L174.27,215.59L174.27,215.67L175.20,215.67L175.20,215.93L176.55,215.93L176.55,215.47L177.76,215.47L177.76,215.76L178.89,215.76L178.89,215.67L180.61,215.67L180.61,215.06L182.32,215.06L182.32,215.72L183.40,215.72L183.40,215.82L185.21,215.82L185.21,215.37L186.29,215.37L186.29,215.85L187.37,215.85L187.37,215.95L188.51,215.95L188.51,215.97L189.84,215.97L189.84,215.69L190.84,215.69L190.84,215.84L192.42,215.84L192.42,215.65L193.30,215.65L193.30,215.58L194.29,215.58L194.29,215.43L195.68,215.43L195.68,215.83L196.88,215.83L196.88,215.89L198.01,215.89L198.01,215.35L198.81,215.35L198.81,215.53L199.86,215.53L199.86,215.31L200.81,215.31L200.81,215.45L201.60,215.45L201.60,215.19L202.91,215.19L202.91,215.34L204.54,215.34L204.54,214.12L206.06,214.12L206.06,214.66L206.91,214.66L206.91,214.26L208.20,214.26L208.20,214.83L209.54,214.83L209.54,215.57L210.55,215.57L210.55,215.59L211.59,215.59L211.59,214.71L212.47,214.71L212.47,215.03L213.27,215.03L213.27,215.17L214.60,215.17L214.60,215.12L216.28,215.12L216.28,214.79L217.19,214.79L217.19,215.25L218.26,215.25L218.26,215.63L219.18,215.63L219.18,215.31L220.11,215.31L220.11,215.29L221.06,215.29L221.06,215.09L222.25,215.09L222.25,215.39L223.58,215.39L223.58,215.46L225.16,215.46L225.16,215.53L226.29,215.53L226.29,215.47L227.91,215.47L227.91,215.10L229.57,215.10L229.57,215.72L231.35,215.72L231.35,215.16L232.57,215.16L232.57,215.51L233.42,215.51L233.42,215.22L234.34,215.22L234.34,215.23L235.78,215.23L235.78,215.16L236.60,215.16L236.60,215.60L237.66,215.60L237.66,215.20L238.70,215.20L238.70,215.50L239.78,215.50L239.78,215.40L241.18,215.40L241.18,215.49L242.44,215.49L242.44,215.77L243.36,215.77L243.36,215.63L243.75,215.63L243.75,216.60Z" fill="#2a3590"/>
<line x1="12.00" y1="234.65" x2="243.75" y2="234.65" stroke="#2a3590" stroke-width="1.1" opacity="0.75"/>
<rect x="32.36" y="233.51" width="2.23" height="0.89" fill="#2a3590" opacity="0.75"/>
<rect x="153.36" y="233.49" width="1.91" height="0.91" fill="#2a3590" opacity="0.75"/>
<rect x="58.63" y="233.36" width="1.58" height="1.04" fill="#2a3590" opacity="0.75"/>
<rect x="139.01" y="233.45" width="1.60" height="0.95" fill="#2a3590" opacity="0.75"/>
<rect x="83.96" y="233.78" width="1.18" height="0.62" fill="#2a3590" opacity="0.75"/>
<rect x="130.76" y="233.66" width="1.80" height="0.74" fill="#2a3590" opacity="0.75"/>
<rect x="14.75" y="233.68" width="2.27" height="0.72" fill="#2a3590" opacity="0.75"/>
<rect x="67.28" y="233.50" width="1.64" height="0.90" fill="#2a3590" opacity="0.75"/>
<rect x="78.01" y="233.11" width="1.30" height="1.29" fill="#2a3590" opacity="0.75"/>
<rect x="190.94" y="233.86" width="0.91" height="0.54" fill="#2a3590" opacity="0.75"/>
<rect x="213.92" y="233.60" width="0.91" height="0.80" fill="#2a3590" opacity="0.75"/>
<rect x="101.89" y="233.60" width="2.05" height="0.80" fill="#2a3590" opacity="0.75"/>
<rect x="37.32" y="233.80" width="2.43" height="0.60" fill="#2a3590" opacity="0.75"/>
<rect x="183.18" y="233.86" width="1.37" height="0.54" fill="#2a3590" opacity="0.75"/>
<rect x="93.68" y="233.39" width="1.85" height="1.01" fill="#2a3590" opacity="0.75"/>
<rect x="208.99" y="233.26" width="1.68" height="1.14" fill="#2a3590" opacity="0.75"/>
<rect x="183.21" y="233.33" width="2.09" height="1.07" fill="#2a3590" opacity="0.75"/>
<rect x="122.14" y="233.29" width="2.00" height="1.11" fill="#2a3590" opacity="0.75"/>
<rect x="223.98" y="233.89" width="2.28" height="0.51" fill="#2a3590" opacity="0.75"/>
<rect x="13.00" y="233.31" width="1.80" height="1.09" fill="#2a3590" opacity="0.75"/>
<rect x="127.38" y="233.13" width="1.77" height="1.27" fill="#2a3590" opacity="0.75"/>
<rect x="108.85" y="233.29" width="2.28" height="1.11" fill="#2a3590" opacity="0.75"/>
<rect x="152.75" y="233.66" width="1.57" height="0.74" fill="#2a3590" opacity="0.75"/>
<rect x="118.12" y="233.35" width="1.30" height="1.05" fill="#2a3590" opacity="0.75"/>
<rect x="102.54" y="233.50" width="1.45" height="0.90" fill="#2a3590" opacity="0.75"/>
<rect x="86.62" y="233.29" width="2.24" height="1.11" fill="#2a3590" opacity="0.75"/>
<rect x="127.77" y="233.60" width="1.11" height="0.80" fill="#2a3590" opacity="0.75"/>
<rect x="82.46" y="233.87" width="1.78" height="0.53" fill="#2a3590" opacity="0.75"/>
<rect x="146.78" y="233.92" width="2.36" height="0.48" fill="#2a3590" opacity="0.75"/>
<rect x="87.06" y="233.24" width="2.22" height="1.16" fill="#2a3590" opacity="0.75"/>
<rect x="234.19" y="233.82" width="1.52" height="0.58" fill="#2a3590" opacity="0.75"/>
<rect x="223.03" y="233.99" width="0.88" height="0.41" fill="#2a3590" opacity="0.75"/>
<rect x="142.92" y="233.55" width="2.36" height="0.85" fill="#2a3590" opacity="0.75"/>
<rect x="191.25" y="233.52" width="2.50" height="0.88" fill="#2a3590" opacity="0.75"/>
<rect x="131.92" y="233.53" width="1.96" height="0.87" fill="#2a3590" opacity="0.75"/>
<rect x="102.27" y="233.68" width="1.81" height="0.72" fill="#2a3590" opacity="0.75"/>
<rect x="93.37" y="233.15" width="1.95" height="1.25" fill="#2a3590" opacity="0.75"/>
<rect x="133.73" y="233.91" width="1.44" height="0.49" fill="#2a3590" opacity="0.75"/>
<rect x="104.91" y="233.49" width="1.78" height="0.91" fill="#2a3590" opacity="0.75"/>
<rect x="215.90" y="233.13" width="1.63" height="1.27" fill="#2a3590" opacity="0.75"/>
<rect x="114.01" y="233.44" width="2.49" height="0.96" fill="#2a3590" opacity="0.75"/>
<rect x="91.56" y="233.52" width="2.19" height="0.88" fill="#2a3590" opacity="0.75"/>
<rect x="51.56" y="233.71" width="2.46" height="0.69" fill="#2a3590" opacity="0.75"/>
<rect x="203.43" y="233.54" width="0.99" height="0.86" fill="#2a3590" opacity="0.75"/>
<rect x="219.30" y="233.38" width="2.19" height="1.02" fill="#2a3590" opacity="0.75"/>
<rect x="241.49" y="233.20" width="1.52" height="1.20" fill="#2a3590" opacity="0.75"/>
<rect x="48.25" y="233.74" width="1.67" height="0.66" fill="#2a3590" opacity="0.75"/>
<rect x="129.01" y="233.83" width="1.11" height="0.57" fill="#2a3590" opacity="0.75"/>
<rect x="158.03" y="233.46" width="1.40" height="0.94" fill="#2a3590" opacity="0.75"/>
<rect x="242.30" y="233.43" width="0.87" height="0.97" fill="#2a3590" opacity="0.75"/>
<path d="M12.00,252.10L12.00,251.02L13.50,251.02L13.50,251.30L14.89,251.30L14.89,251.40L16.24,251.40L16.24,251.16L18.06,251.16L18.06,251.26L19.00,251.26L19.00,251.44L19.96,251.44L19.96,251.06L21.58,251.06L21.58,251.47L22.70,251.47L22.70,251.33L23.75,251.33L23.75,251.00L24.90,251.00L24.90,251.07L26.60,251.07L26.60,250.93L28.03,250.93L28.03,251.43L29.70,251.43L29.70,251.02L30.79,251.02L30.79,250.92L32.56,250.92L32.56,251.23L33.57,251.23L33.57,251.00L35.17,251.00L35.17,251.24L36.15,251.24L36.15,249.38L37.51,249.38L37.51,248.47L38.69,248.47L38.69,243.49L39.60,243.49L39.60,241.09L40.64,241.09L40.64,243.77L41.66,243.77L41.66,245.16L42.80,245.16L42.80,244.88L43.67,244.88L43.67,244.68L44.59,244.68L44.59,244.42L46.20,244.42L46.20,248.62L47.74,248.62L47.74,248.88L48.73,248.88L48.73,243.59L49.75,243.59L49.75,243.19L51.26,243.19L51.26,242.66L52.65,242.66L52.65,241.30L54.07,241.30L54.07,242.44L54.97,242.44L54.97,240.49L56.04,240.49L56.04,238.60L57.50,238.60L57.50,242.74L58.68,242.74L58.68,247.98L60.35,247.98L60.35,250.47L61.24,250.47L61.24,251.05L62.33,251.05L62.33,251.17L63.24,251.17L63.24,251.20L64.97,251.20L64.97,250.80L65.89,250.80L65.89,251.32L67.36,251.32L67.36,251.14L68.86,251.14L68.86,250.81L70.30,250.81L70.30,251.27L71.84,251.27L71.84,251.24L72.79,251.24L72.79,251.20L73.61,251.20L73.61,250.96L75.26,250.96L75.26,250.88L76.50,250.88L76.50,250.91L78.14,250.91L78.14,250.97L79.81,250.97L79.81,251.34L80.71,251.34L80.71,251.28L82.27,251.28L82.27,250.94L83.82,250.94L83.82,251.17L85.59,251.17L85.59,250.76L87.14,250.76L87.14,250.91L87.97,250.91L87.97,251.06L89.72,251.06L89.72,250.59L91.23,250.59L91.23,251.13L93.02,251.13L93.02,251.02L93.86,251.02L93.86,251.09L94.96,251.09L94.96,250.90L95.99,250.90L95.99,251.00L97.74,251.00L97.74,251.17L98.67,251.17L98.67,251.17L100.02,251.17L100.02,251.28L101.42,251.28L101.42,250.89L102.32,250.89L102.32,251.11L103.16,251.11L103.16,251.25L104.41,251.25L104.41,251.19L105.57,251.19L105.57,251.20L107.38,251.20L107.38,251.35L109.18,251.35L109.18,251.35L110.41,251.35L110.41,250.82L112.15,250.82L112.15,250.91L113.61,250.91L113.61,251.19L114.41,251.19L114.41,250.82L115.39,250.82L115.39,250.77L116.34,250.77L116.34,250.77L117.46,250.77L117.46,250.77L118.63,250.77L118.63,251.09L119.65,251.09L119.65,251.00L121.29,251.00L121.29,250.75L122.58,250.75L122.58,251.23L123.97,251.23L123.97,250.93L125.21,250.93L125.21,251.15L126.44,251.15L126.44,250.63L128.10,250.63L128.10,250.78L129.17,250.78L129.17,250.99L130.31,250.99L130.31,250.91L132.03,250.91L132.03,251.16L133.39,251.16L133.39,251.26L134.51,251.26L134.51,250.74L136.19,250.74L136.19,250.67L137.81,250.67L137.81,250.86L138.90,250.86L138.90,250.70L140.35,250.70L140.35,251.09L141.16,251.09L141.16,250.92L142.03,250.92L142.03,251.11L143.24,251.11L143.24,251.00L144.14,251.00L144.14,250.76L145.04,250.76L145.04,251.16L146.37,251.16L146.37,251.06L147.39,251.06L147.39,251.31L148.78,251.31L148.78,250.93L150.02,250.93L150.02,250.98L151.58,250.98L151.58,250.69L152.47,250.69L152.47,251.06L154.25,251.06L154.25,250.85L155.84,250.85L155.84,251.19L156.63,251.19L156.63,251.26L158.15,251.26L158.15,250.80L159.83,250.80L159.83,250.71L160.79,250.71L160.79,251.10L162.28,251.10L162.28,251.30L163.82,251.30L163.82,250.66L165.23,250.66L165.23,250.94L166.13,250.94L166.13,250.90L167.11,250.90L167.11,250.78L168.01,250.78L168.01,251.27L168.98,251.27L168.98,251.21L170.16,251.21L170.16,250.80L171.65,250.80L171.65,250.39L172.79,250.39L172.79,250.94L174.40,250.94L174.40,251.24L175.89,251.24L175.89,251.08L177.55,251.08L177.55,250.79L178.41,250.79L178.41,251.19L179.80,251.19L179.80,251.29L181.07,251.29L181.07,251.15L181.85,251.15L181.85,250.97L183.11,250.97L183.11,251.34L184.59,251.34L184.59,251.24L185.64,251.24L185.64,251.05L187.45,251.05L187.45,250.99L189.14,250.99L189.14,250.94L190.30,250.94L190.30,250.82L192.05,250.82L192.05,251.14L193.60,251.14L193.60,250.96L194.95,250.96L194.95,251.33L196.07,251.33L196.07,251.09L197.10,251.09L197.10,251.15L197.89,251.15L197.89,251.08L199.26,251.08L199.26,251.10L200.36,251.10L200.36,250.89L202.11,250.89L202.11,250.72L202.97,250.72L202.97,250.93L204.13,250.93L204.13,251.07L204.98,251.07L204.98,250.77L206.02,250.77L206.02,251.23L207.54,251.23L207.54,251.13L208.94,251.13L208.94,250.95L210.49,250.95L210.49,250.71L212.11,250.71L212.11,251.10L213.08,251.10L213.08,250.79L214.82,250.79L214.82,251.12L216.28,251.12L216.28,250.92L217.12,250.92L217.12,251.33L218.25,251.33L218.25,251.01L219.51,251.01L219.51,250.74L221.32,250.74L221.32,250.91L222.44,250.91L222.44,251.25L224.02,251.25L224.02,250.85L225.36,250.85L225.36,250.97L226.76,250.97L226.76,250.86L228.28,250.86L228.28,250.82L229.87,250.82L229.87,251.03L231.19,251.03L231.19,251.13L232.46,251.13L232.46,250.86L234.27,250.86L234.27,250.83L235.08,250.83L235.08,251.31L236.44,251.31L236.44,250.77L237.38,250.77L237.38,250.83L238.32,250.83L238.32,250.81L240.13,250.81L240.13,250.91L241.74,250.91L241.74,251.14L242.63,251.14L242.63,251.35L243.75,251.35L243.75,252.10Z" fill="#ec1c2a"/>
<line x1="12.00" y1="270.20" x2="243.75" y2="270.20" stroke="#ec1c2a" stroke-width="0.8" opacity="0.4" stroke-dasharray="1.2,2"/>
<rect x="212.25" y="269.65" width="1.76" height="0.45" fill="#ec1c2a" opacity="0.4"/>
<rect x="107.00" y="268.87" width="2.41" height="1.23" fill="#ec1c2a" opacity="0.4"/>
<rect x="157.34" y="269.50" width="1.23" height="0.60" fill="#ec1c2a" opacity="0.4"/>
<rect x="72.79" y="269.31" width="1.19" height="0.79" fill="#ec1c2a" opacity="0.4"/>
<rect x="59.09" y="269.02" width="1.89" height="1.08" fill="#ec1c2a" opacity="0.4"/>
<rect x="81.17" y="268.81" width="1.17" height="1.29" fill="#ec1c2a" opacity="0.4"/>
<rect x="143.99" y="269.56" width="2.27" height="0.54" fill="#ec1c2a" opacity="0.4"/>
<rect x="213.45" y="269.46" width="2.08" height="0.64" fill="#ec1c2a" opacity="0.4"/>
<rect x="202.69" y="269.45" width="1.36" height="0.65" fill="#ec1c2a" opacity="0.4"/>
<rect x="124.53" y="268.90" width="1.07" height="1.20" fill="#ec1c2a" opacity="0.4"/>
<rect x="170.23" y="269.16" width="1.57" height="0.94" fill="#ec1c2a" opacity="0.4"/>
<rect x="146.24" y="268.91" width="1.16" height="1.19" fill="#ec1c2a" opacity="0.4"/>
<rect x="216.77" y="269.38" width="2.13" height="0.72" fill="#ec1c2a" opacity="0.4"/>
<rect x="212.08" y="269.54" width="2.27" height="0.56" fill="#ec1c2a" opacity="0.4"/>
<rect x="242.55" y="269.43" width="0.84" height="0.67" fill="#ec1c2a" opacity="0.4"/>
<line x1="35.00" y1="276.20" x2="217.30" y2="276.20" stroke="#5a63b8" stroke-width="1.2" />
<rect x="34.60" y="273.20" width="1.80" height="6.00" fill="#3b49a6" />
<rect x="41.00" y="273.20" width="1.00" height="6.00" fill="#3b49a6" />
<rect x="48.30" y="273.20" width="1.00" height="6.00" fill="#3b49a6" />
<rect x="49.60" y="273.20" width="1.20" height="6.00" fill="#3b49a6" />
<rect x="51.10" y="273.20" width="1.40" height="6.00" fill="#3b49a6" />
<rect x="52.70" y="273.20" width="1.20" height="6.00" fill="#3b49a6" />
<rect x="140.70" y="273.20" width="1.00" height="6.00" fill="#3b49a6" />
<rect x="149.90" y="273.20" width="1.00" height="6.00" fill="#3b49a6" />
<rect x="153.70" y="273.20" width="1.00" height="6.00" fill="#3b49a6" />
<rect x="155.15" y="273.20" width="0.90" height="6.00" fill="#3b49a6" />
<rect x="161.00" y="273.20" width="1.00" height="6.00" fill="#3b49a6" />
<rect x="173.90" y="273.20" width="1.00" height="6.00" fill="#3b49a6" />
<rect x="205.70" y="273.20" width="1.00" height="6.00" fill="#3b49a6" />
<rect x="208.20" y="273.20" width="1.00" height="6.00" fill="#3b49a6" />
<rect x="210.20" y="273.20" width="1.60" height="6.00" fill="#3b49a6" />
<rect x="48.50" y="274.30" width="5.30" height="3.80" fill="#3b49a6" />
<rect x="213.80" y="274.30" width="3.50" height="3.80" fill="#3b49a6" />
<path d="M55.70,275.20L57.30,276.20L55.70,277.20Z" fill="#3b49a6" stroke="#3b49a6" stroke-width="0.3"/>
<path d="M58.70,275.20L60.30,276.20L58.70,277.20Z" fill="#3b49a6" stroke="#3b49a6" stroke-width="0.3"/>
<path d="M61.70,275.20L63.30,276.20L61.70,277.20Z" fill="#3b49a6" stroke="#3b49a6" stroke-width="0.3"/>
<path d="M64.70,275.20L66.30,276.20L64.70,277.20Z" fill="#3b49a6" stroke="#3b49a6" stroke-width="0.3"/>
<path d="M67.70,275.20L69.30,276.20L67.70,277.20Z" fill="#3b49a6" stroke="#3b49a6" stroke-width="0.3"/>
<path d="M70.70,275.20L72.30,276.20L70.70,277.20Z" fill="#3b49a6" stroke="#3b49a6" stroke-width="0.3"/>
<path d="M73.70,275.20L75.30,276.20L73.70,277.20Z" fill="#3b49a6" stroke="#3b49a6" stroke-width="0.3"/>
<path d="M76.70,275.20L78.30,276.20L76.70,277.20Z" fill="#3b49a6" stroke="#3b49a6" stroke-width="0.3"/>
<path d="M79.70,275.20L81.30,276.20L79.70,277.20Z" fill="#3b49a6" stroke="#3b49a6" stroke-width="0.3"/>
<path d="M82.70,275.20L84.30,276.20L82.70,277.20Z" fill="#3b49a6" stroke="#3b49a6" stroke-width="0.3"/>
<path d="M85.70,275.20L87.30,276.20L85.70,277.20Z" fill="#3b49a6" stroke="#3b49a6" stroke-width="0.3"/>
<path d="M88.70,275.20L90.30,276.20L88.70,277.20Z" fill="#3b49a6" stroke="#3b49a6" stroke-width="0.3"/>
<path d="M91.70,275.20L93.30,276.20L91.70,277.20Z" fill="#3b49a6" stroke="#3b49a6" stroke-width="0.3"/>
<path d="M94.70,275.20L96.30,276.20L94.70,277.20Z" fill="#3b49a6" stroke="#3b49a6" stroke-width="0.3"/>
<path d="M97.70,275.20L99.30,276.20L97.70,277.20Z" fill="#3b49a6" stroke="#3b49a6" stroke-width="0.3"/>
<path d="M100.70,275.20L102.30,276.20L100.70,277.20Z" fill="#3b49a6" stroke="#3b49a6" stroke-width="0.3"/>
<path d="M103.70,275.20L105.30,276.20L103.70,277.20Z" fill="#3b49a6" stroke="#3b49a6" stroke-width="0.3"/>
<path d="M106.70,275.20L108.30,276.20L106.70,277.20Z" fill="#3b49a6" stroke="#3b49a6" stroke-width="0.3"/>
<path d="M109.70,275.20L111.30,276.20L109.70,277.20Z" fill="#3b49a6" stroke="#3b49a6" stroke-width="0.3"/>
<path d="M112.70,275.20L114.30,276.20L112.70,277.20Z" fill="#3b49a6" stroke="#3b49a6" stroke-width="0.3"/>
<path d="M115.70,275.20L117.30,276.20L115.70,277.20Z" fill="#3b49a6" stroke="#3b49a6" stroke-width="0.3"/>
<path d="M118.70,275.20L120.30,276.20L118.70,277.20Z" fill="#3b49a6" stroke="#3b49a6" stroke-width="0.3"/>
<path d="M121.70,275.20L123.30,276.20L121.70,277.20Z" fill="#3b49a6" stroke="#3b49a6" stroke-width="0.3"/>
<path d="M124.70,275.20L126.30,276.20L124.70,277.20Z" fill="#3b49a6" stroke="#3b49a6" stroke-width="0.3"/>
<path d="M127.70,275.20L129.30,276.20L127.70,277.20Z" fill="#3b49a6" stroke="#3b49a6" stroke-width="0.3"/>
<path d="M130.70,275.20L132.30,276.20L130.70,277.20Z" fill="#3b49a6" stroke="#3b49a6" stroke-width="0.3"/>
<path d="M133.70,275.20L135.30,276.20L133.70,277.20Z" fill="#3b49a6" stroke="#3b49a6" stroke-width="0.3"/>
<path d="M136.70,275.20L138.30,276.20L136.70,277.20Z" fill="#3b49a6" stroke="#3b49a6" stroke-width="0.3"/>
<path d="M164.70,275.20L166.30,276.20L164.70,277.20Z" fill="#3b49a6" stroke="#3b49a6" stroke-width="0.3"/>
<path d="M172.70,275.20L174.30,276.20L172.70,277.20Z" fill="#3b49a6" stroke="#3b49a6" stroke-width="0.3"/>
<path d="M180.70,275.20L182.30,276.20L180.70,277.20Z" fill="#3b49a6" stroke="#3b49a6" stroke-width="0.3"/>
<path d="M188.70,275.20L190.30,276.20L188.70,277.20Z" fill="#3b49a6" stroke="#3b49a6" stroke-width="0.3"/>
<path d="M196.70,275.20L198.30,276.20L196.70,277.20Z" fill="#3b49a6" stroke="#3b49a6" stroke-width="0.3"/>
<text x="167.40" y="210.00" font-size="7.2" fill="#2a5f98" stroke="#2a5f98" stroke-width="0.14" textLength="75.10" lengthAdjust="spacingAndGlyphs" >Early Baso H3K27me3</text>
<text x="167.40" y="227.50" font-size="7.2" fill="#2a5f98" stroke="#2a5f98" stroke-width="0.14" textLength="75.10" lengthAdjust="spacingAndGlyphs" >Early Baso H3K36me3</text>
<text x="182.80" y="246.25" font-size="7.2" fill="#cc2338" stroke="#cc2338" stroke-width="0.14" textLength="59.70" lengthAdjust="spacingAndGlyphs" >Ortho H3K27me3</text>
<text x="182.80" y="263.75" font-size="7.2" fill="#cc2338" stroke="#cc2338" stroke-width="0.14" textLength="59.70" lengthAdjust="spacingAndGlyphs" >Ortho H3K36me3</text>
<text x="22.4" y="282.2" font-size="8.6" fill="#1e1e1e" font-family='"Liberation Serif", serif' textLength="5.8" lengthAdjust="spacingAndGlyphs" stroke="#1e1e1e" stroke-width="0.25">5’</text>
<text x="229.50" y="282.00" font-size="7.8" fill="#1e1e1e" stroke="#1e1e1e" stroke-width="0.28" textLength="5.30" lengthAdjust="spacingAndGlyphs" >3’</text>
<line x1="17.80" y1="290.50" x2="29.80" y2="290.50" stroke="#2a6ea0" stroke-width="1" />
<text x="16.20" y="300.80" font-size="7.8" fill="#231f20" stroke="#231f20" stroke-width="0.28" textLength="14.90" lengthAdjust="spacingAndGlyphs" >2 kb</text>
<text x="103.80" y="294.50" font-size="6.6" fill="#231f20" stroke="#231f20" stroke-width="0.14" textLength="13.70" lengthAdjust="spacingAndGlyphs" >FLI1</text>
<rect x="258.00" y="207.00" width="232.75" height="13.00" fill="#f4f5f9" />
<rect x="258.00" y="221.10" width="232.75" height="15.50" fill="#f4f5f9" />
<rect x="258.00" y="237.70" width="232.75" height="15.80" fill="#f4f5f9" />
<rect x="258.00" y="254.60" width="232.75" height="15.60" fill="#f4f5f9" />
<rect x="258.00" y="271.30" width="232.75" height="10.30" fill="#f4f5f9" />
<rect x="257.60" y="204.88" width="5.08" height="7.79" fill="#ffffff" />
<text x="258.00" y="211.60" font-size="8.2" fill="#1a1a1a" stroke="#1a1a1a" stroke-width="0.14" >3</text>
<rect x="257.60" y="218.58" width="5.08" height="7.79" fill="#ffffff" />
<text x="258.00" y="225.30" font-size="8.2" fill="#1a1a1a" stroke="#1a1a1a" stroke-width="0.14" >3</text>
<rect x="257.60" y="236.58" width="5.08" height="7.79" fill="#ffffff" />
<text x="258.00" y="243.30" font-size="8.2" fill="#1a1a1a" stroke="#1a1a1a" stroke-width="0.14" >3</text>
<rect x="257.60" y="252.38" width="5.08" height="7.79" fill="#ffffff" />
<text x="258.00" y="259.10" font-size="8.2" fill="#1a1a1a" stroke="#1a1a1a" stroke-width="0.14" >3</text>
<line x1="258.00" y1="219.25" x2="490.75" y2="219.25" stroke="#2a3590" stroke-width="1.1" opacity="0.75"/>
<rect x="283.97" y="217.72" width="0.82" height="1.28" fill="#2a3590" opacity="0.75"/>
<rect x="470.18" y="218.46" width="2.05" height="0.54" fill="#2a3590" opacity="0.75"/>
<rect x="280.70" y="218.45" width="1.96" height="0.55" fill="#2a3590" opacity="0.75"/>
<rect x="279.00" y="218.29" width="2.36" height="0.71" fill="#2a3590" opacity="0.75"/>
<rect x="424.73" y="217.81" width="2.47" height="1.19" fill="#2a3590" opacity="0.75"/>
<rect x="265.66" y="218.39" width="2.15" height="0.61" fill="#2a3590" opacity="0.75"/>
<rect x="418.47" y="218.57" width="1.66" height="0.43" fill="#2a3590" opacity="0.75"/>
<rect x="311.91" y="218.21" width="0.98" height="0.79" fill="#2a3590" opacity="0.75"/>
<rect x="262.64" y="217.71" width="1.34" height="1.29" fill="#2a3590" opacity="0.75"/>
<rect x="462.49" y="218.49" width="1.63" height="0.51" fill="#2a3590" opacity="0.75"/>
<rect x="289.61" y="218.21" width="1.10" height="0.79" fill="#2a3590" opacity="0.75"/>
<rect x="417.52" y="218.47" width="2.05" height="0.53" fill="#2a3590" opacity="0.75"/>
<rect x="374.54" y="218.50" width="1.40" height="0.50" fill="#2a3590" opacity="0.75"/>
<rect x="373.51" y="217.77" width="1.39" height="1.23" fill="#2a3590" opacity="0.75"/>
<rect x="308.07" y="217.73" width="2.30" height="1.27" fill="#2a3590" opacity="0.75"/>
<rect x="428.23" y="218.35" width="1.10" height="0.65" fill="#2a3590" opacity="0.75"/>
<rect x="319.60" y="218.54" width="0.87" height="0.46" fill="#2a3590" opacity="0.75"/>
<rect x="376.41" y="218.23" width="1.75" height="0.77" fill="#2a3590" opacity="0.75"/>
<rect x="342.40" y="218.59" width="1.97" height="0.41" fill="#2a3590" opacity="0.75"/>
<rect x="410.01" y="218.11" width="1.73" height="0.89" fill="#2a3590" opacity="0.75"/>
<rect x="418.66" y="217.72" width="2.29" height="1.28" fill="#2a3590" opacity="0.75"/>
<rect x="425.06" y="218.24" width="1.34" height="0.76" fill="#2a3590" opacity="0.75"/>
<rect x="355.56" y="217.72" width="1.46" height="1.28" fill="#2a3590" opacity="0.75"/>
<rect x="347.71" y="218.23" width="1.04" height="0.77" fill="#2a3590" opacity="0.75"/>
<rect x="490.37" y="218.60" width="1.83" height="0.40" fill="#2a3590" opacity="0.75"/>
<rect x="473.59" y="218.37" width="1.84" height="0.63" fill="#2a3590" opacity="0.75"/>
<rect x="345.74" y="218.38" width="1.14" height="0.62" fill="#2a3590" opacity="0.75"/>
<rect x="285.04" y="217.84" width="2.13" height="1.16" fill="#2a3590" opacity="0.75"/>
<rect x="469.46" y="218.56" width="1.98" height="0.44" fill="#2a3590" opacity="0.75"/>
<rect x="333.50" y="218.02" width="1.73" height="0.98" fill="#2a3590" opacity="0.75"/>
<rect x="331.46" y="217.73" width="0.80" height="1.27" fill="#2a3590" opacity="0.75"/>
<rect x="431.68" y="217.83" width="1.67" height="1.17" fill="#2a3590" opacity="0.75"/>
<rect x="395.86" y="217.70" width="1.20" height="1.30" fill="#2a3590" opacity="0.75"/>
<rect x="404.52" y="217.93" width="1.44" height="1.07" fill="#2a3590" opacity="0.75"/>
<rect x="423.76" y="218.25" width="1.69" height="0.75" fill="#2a3590" opacity="0.75"/>
<rect x="400.63" y="217.99" width="1.35" height="1.01" fill="#2a3590" opacity="0.75"/>
<rect x="404.38" y="218.11" width="1.18" height="0.89" fill="#2a3590" opacity="0.75"/>
<rect x="400.56" y="218.36" width="2.34" height="0.64" fill="#2a3590" opacity="0.75"/>
<rect x="368.16" y="217.95" width="1.69" height="1.05" fill="#2a3590" opacity="0.75"/>
<rect x="368.93" y="218.40" width="1.04" height="0.60" fill="#2a3590" opacity="0.75"/>
<path d="M258.00,236.00L258.00,234.84L259.33,234.84L259.33,234.88L260.96,234.88L260.96,234.80L262.60,234.80L262.60,234.63L263.43,234.63L263.43,234.68L265.06,234.68L265.06,234.73L266.10,234.73L266.10,234.71L267.72,234.71L267.72,234.35L268.59,234.35L268.59,234.26L270.09,234.26L270.09,234.33L271.70,234.33L271.70,234.39L273.19,234.39L273.19,234.19L274.22,234.19L274.22,233.79L275.39,233.79L275.39,233.42L276.77,233.42L276.77,232.80L278.29,232.80L278.29,231.85L279.32,231.85L279.32,230.48L280.77,230.48L280.77,229.23L281.99,229.23L281.99,228.26L283.15,228.26L283.15,228.55L284.31,228.55L284.31,227.11L285.52,227.11L285.52,226.39L286.66,226.39L286.66,226.53L288.41,226.53L288.41,226.83L289.93,226.83L289.93,226.51L291.05,226.51L291.05,226.95L292.22,226.95L292.22,226.27L293.94,226.27L293.94,223.85L295.34,223.85L295.34,225.30L296.99,225.30L296.99,226.39L298.70,226.39L298.70,227.60L300.01,227.60L300.01,228.73L301.56,228.73L301.56,230.42L303.05,230.42L303.05,231.17L304.63,231.17L304.63,230.47L305.49,230.47L305.49,228.50L306.36,228.50L306.36,227.30L307.20,227.30L307.20,226.79L308.48,226.79L308.48,227.39L309.69,227.39L309.69,226.39L311.32,226.39L311.32,225.52L312.45,225.52L312.45,224.33L314.26,224.33L314.26,226.06L315.36,226.06L315.36,226.95L316.72,226.95L316.72,227.68L317.55,227.68L317.55,228.72L319.17,228.72L319.17,229.73L320.16,229.73L320.16,231.57L321.33,231.57L321.33,232.69L322.71,232.69L322.71,233.46L323.70,233.46L323.70,232.90L324.54,232.90L324.54,232.36L325.74,232.36L325.74,230.78L326.81,230.78L326.81,228.79L328.32,228.79L328.32,226.63L329.58,226.63L329.58,225.20L331.27,225.20L331.27,225.90L332.72,225.90L332.72,225.95L333.57,225.95L333.57,224.78L335.31,224.78L335.31,224.39L336.61,224.39L336.61,223.97L337.69,223.97L337.69,224.79L338.63,224.79L338.63,223.57L339.51,223.57L339.51,224.95L341.28,224.95L341.28,224.82L342.33,224.82L342.33,223.79L343.27,223.79L343.27,225.25L344.09,225.25L344.09,224.17L345.11,224.17L345.11,224.36L346.48,224.36L346.48,225.30L347.59,225.30L347.59,224.19L349.21,224.19L349.21,223.49L350.02,223.49L350.02,224.48L351.03,224.48L351.03,224.47L352.30,224.47L352.30,224.07L353.78,224.07L353.78,225.20L354.69,225.20L354.69,223.88L356.45,223.88L356.45,224.21L357.59,224.21L357.59,223.81L359.33,223.81L359.33,225.02L361.01,225.02L361.01,224.31L361.89,224.31L361.89,225.03L363.59,225.03L363.59,223.69L365.34,223.69L365.34,224.97L367.12,224.97L367.12,224.78L368.58,224.78L368.58,225.39L369.83,225.39L369.83,225.21L370.80,225.21L370.80,224.01L371.65,224.01L371.65,224.10L373.00,224.10L373.00,223.69L374.26,223.69L374.26,225.18L375.14,225.18L375.14,224.43L376.53,224.43L376.53,224.79L378.00,224.79L378.00,225.27L379.75,225.27L379.75,225.03L381.44,225.03L381.44,224.57L382.32,224.57L382.32,223.51L383.62,223.51L383.62,223.84L384.88,223.84L384.88,224.72L386.19,224.72L386.19,224.87L387.39,224.87L387.39,225.54L388.42,225.54L388.42,224.70L390.13,224.70L390.13,226.48L391.41,226.48L391.41,226.45L392.91,226.45L392.91,228.10L393.85,228.10L393.85,228.07L395.04,228.07L395.04,228.13L396.75,228.13L396.75,227.72L397.77,227.72L397.77,225.94L399.29,225.94L399.29,226.71L400.69,226.71L400.69,224.27L402.11,224.27L402.11,226.25L403.25,226.25L403.25,227.44L404.99,227.44L404.99,230.35L406.20,230.35L406.20,232.14L407.23,232.14L407.23,231.95L408.17,231.95L408.17,230.77L409.15,230.77L409.15,229.24L410.95,229.24L410.95,226.51L412.23,226.51L412.23,225.81L413.95,225.81L413.95,224.15L414.94,224.15L414.94,223.84L416.54,223.84L416.54,224.94L417.68,224.94L417.68,225.21L419.16,225.21L419.16,224.08L420.80,224.08L420.80,223.33L422.36,223.33L422.36,223.33L423.75,223.33L423.75,224.22L425.35,224.22L425.35,223.95L427.13,223.95L427.13,225.97L428.03,225.97L428.03,226.77L429.07,226.77L429.07,228.14L430.05,228.14L430.05,229.17L431.35,229.17L431.35,227.38L432.87,227.38L432.87,225.91L434.47,225.91L434.47,224.59L436.11,224.59L436.11,224.68L437.57,224.68L437.57,223.75L438.97,223.75L438.97,223.39L439.75,223.39L439.75,222.40L440.65,222.40L440.65,222.92L442.06,222.92L442.06,223.83L443.06,223.83L443.06,224.35L444.48,224.35L444.48,224.63L445.54,224.63L445.54,224.11L447.01,224.11L447.01,224.49L448.50,224.49L448.50,226.73L449.47,226.73L449.47,227.58L450.63,227.58L450.63,227.71L452.04,227.71L452.04,225.35L453.34,225.35L453.34,223.53L455.15,223.53L455.15,224.64L456.10,224.64L456.10,222.43L457.06,222.43L457.06,222.72L458.68,222.72L458.68,224.37L459.57,224.37L459.57,224.35L460.88,224.35L460.88,225.53L462.59,225.53L462.59,225.75L464.02,225.75L464.02,226.79L465.18,226.79L465.18,225.55L466.35,225.55L466.35,224.53L468.07,224.53L468.07,224.23L469.87,224.23L469.87,225.09L471.36,225.09L471.36,224.30L472.92,224.30L472.92,223.29L474.48,223.29L474.48,224.81L475.40,224.81L475.40,223.33L476.33,223.33L476.33,223.61L477.16,223.61L477.16,224.14L478.61,224.14L478.61,224.57L479.69,224.57L479.69,224.14L481.49,224.14L481.49,223.76L482.97,223.76L482.97,224.22L484.49,224.22L484.49,223.70L485.44,223.70L485.44,223.77L487.04,223.77L487.04,224.30L488.36,224.30L488.36,223.32L489.91,223.32L489.91,224.52L490.74,224.52L490.74,224.67L490.75,224.67L490.75,236.00Z" fill="#2a3590"/>
<line x1="258.00" y1="252.85" x2="490.75" y2="252.85" stroke="#ec1c2a" stroke-width="0.9" opacity="0.5" stroke-dasharray="1.6,1.6"/>
<rect x="481.93" y="252.13" width="1.33" height="0.57" fill="#ec1c2a" opacity="0.5"/>
<rect x="477.65" y="252.12" width="1.35" height="0.58" fill="#ec1c2a" opacity="0.5"/>
<rect x="360.01" y="252.20" width="1.24" height="0.50" fill="#ec1c2a" opacity="0.5"/>
<rect x="349.70" y="251.95" width="2.44" height="0.75" fill="#ec1c2a" opacity="0.5"/>
<rect x="320.11" y="252.12" width="2.34" height="0.58" fill="#ec1c2a" opacity="0.5"/>
<rect x="362.79" y="251.55" width="1.88" height="1.15" fill="#ec1c2a" opacity="0.5"/>
<rect x="439.23" y="252.02" width="1.06" height="0.68" fill="#ec1c2a" opacity="0.5"/>
<rect x="434.21" y="251.88" width="1.75" height="0.82" fill="#ec1c2a" opacity="0.5"/>
<rect x="414.08" y="251.62" width="1.27" height="1.08" fill="#ec1c2a" opacity="0.5"/>
<rect x="342.43" y="251.47" width="1.70" height="1.23" fill="#ec1c2a" opacity="0.5"/>
<rect x="325.12" y="251.73" width="1.24" height="0.97" fill="#ec1c2a" opacity="0.5"/>
<rect x="437.53" y="252.26" width="2.21" height="0.44" fill="#ec1c2a" opacity="0.5"/>
<rect x="389.85" y="251.98" width="2.40" height="0.72" fill="#ec1c2a" opacity="0.5"/>
<rect x="319.80" y="252.08" width="0.92" height="0.62" fill="#ec1c2a" opacity="0.5"/>
<rect x="385.67" y="251.62" width="1.95" height="1.08" fill="#ec1c2a" opacity="0.5"/>
<rect x="354.06" y="251.57" width="0.99" height="1.13" fill="#ec1c2a" opacity="0.5"/>
<rect x="329.44" y="251.72" width="2.44" height="0.98" fill="#ec1c2a" opacity="0.5"/>
<rect x="405.54" y="251.68" width="2.12" height="1.02" fill="#ec1c2a" opacity="0.5"/>
<rect x="349.82" y="251.45" width="2.06" height="1.25" fill="#ec1c2a" opacity="0.5"/>
<rect x="337.54" y="251.95" width="2.17" height="0.75" fill="#ec1c2a" opacity="0.5"/>
<rect x="339.40" y="252.13" width="2.28" height="0.57" fill="#ec1c2a" opacity="0.5"/>
<rect x="381.77" y="251.83" width="1.94" height="0.87" fill="#ec1c2a" opacity="0.5"/>
<rect x="467.83" y="252.18" width="1.38" height="0.52" fill="#ec1c2a" opacity="0.5"/>
<rect x="273.35" y="251.93" width="1.65" height="0.77" fill="#ec1c2a" opacity="0.5"/>
<rect x="456.29" y="251.70" width="1.78" height="1.00" fill="#ec1c2a" opacity="0.5"/>
<rect x="351.96" y="251.78" width="1.27" height="0.92" fill="#ec1c2a" opacity="0.5"/>
<rect x="454.63" y="251.59" width="2.23" height="1.11" fill="#ec1c2a" opacity="0.5"/>
<rect x="293.18" y="251.70" width="2.08" height="1.00" fill="#ec1c2a" opacity="0.5"/>
<rect x="374.51" y="251.49" width="2.33" height="1.21" fill="#ec1c2a" opacity="0.5"/>
<rect x="430.94" y="251.56" width="1.90" height="1.14" fill="#ec1c2a" opacity="0.5"/>
<path d="M258.00,269.60L258.00,269.19L259.51,269.19L259.51,268.98L260.92,268.98L260.92,269.06L261.93,269.06L261.93,269.60L263.42,269.60L263.42,268.81L264.92,268.81L264.92,269.60L266.57,269.60L266.57,269.60L267.36,269.60L267.36,269.22L268.20,269.22L268.20,269.60L269.56,269.60L269.56,269.28L270.45,269.28L270.45,269.60L271.89,269.60L271.89,269.60L273.01,269.60L273.01,269.16L274.01,269.16L274.01,268.69L274.82,268.69L274.82,269.15L276.04,269.15L276.04,269.60L277.48,269.60L277.48,268.90L278.79,268.90L278.79,269.03L280.60,269.03L280.60,268.54L282.41,268.54L282.41,269.60L283.69,269.60L283.69,269.60L284.94,269.60L284.94,268.78L286.07,268.78L286.07,269.60L287.27,269.60L287.27,269.60L288.26,269.60L288.26,268.91L289.24,268.91L289.24,269.03L290.60,269.03L290.60,268.48L292.37,268.48L292.37,268.57L293.21,268.57L293.21,269.60L294.01,269.60L294.01,268.73L295.06,268.73L295.06,269.60L296.01,269.60L296.01,268.52L296.84,268.52L296.84,269.60L297.99,269.60L297.99,268.65L298.87,268.65L298.87,269.60L299.81,269.60L299.81,268.90L301.54,268.90L301.54,268.78L302.46,268.78L302.46,269.60L303.82,269.60L303.82,269.09L304.62,269.09L304.62,268.61L306.42,268.61L306.42,269.60L307.97,269.60L307.97,269.60L309.59,269.60L309.59,269.01L310.59,269.01L310.59,268.66L312.24,268.66L312.24,268.51L313.94,268.51L313.94,269.00L315.37,269.00L315.37,268.72L316.36,268.72L316.36,269.60L318.09,269.60L318.09,269.60L318.97,269.60L318.97,269.10L320.23,269.10L320.23,268.57L321.47,268.57L321.47,269.60L323.00,269.60L323.00,269.60L324.27,269.60L324.27,269.60L325.75,269.60L325.75,268.98L327.25,268.98L327.25,268.97L328.65,268.97L328.65,269.60L329.68,269.60L329.68,268.97L331.28,268.97L331.28,268.49L332.10,268.49L332.10,269.60L333.89,269.60L333.89,269.02L334.92,269.02L334.92,268.87L336.67,268.87L336.67,268.16L337.61,268.16L337.61,269.60L339.18,269.60L339.18,269.60L340.97,269.60L340.97,268.44L342.59,268.44L342.59,268.81L343.48,268.81L343.48,268.22L345.21,268.22L345.21,268.93L346.57,268.93L346.57,268.16L348.00,268.16L348.00,268.27L348.86,268.27L348.86,268.86L349.94,268.86L349.94,268.34L351.49,268.34L351.49,268.89L353.12,268.89L353.12,268.48L354.57,268.48L354.57,268.69L355.47,268.69L355.47,267.84L356.62,267.84L356.62,268.72L358.28,268.72L358.28,267.96L359.44,267.96L359.44,268.47L360.38,268.47L360.38,268.18L361.96,268.18L361.96,268.71L362.85,268.71L362.85,268.09L364.17,268.09L364.17,268.27L365.59,268.27L365.59,268.05L367.13,268.05L367.13,267.81L368.78,267.81L368.78,267.49L370.27,267.49L370.27,267.62L371.96,267.62L371.96,268.49L373.20,268.49L373.20,267.92L374.30,267.92L374.30,268.30L375.17,268.30L375.17,268.22L376.63,268.22L376.63,267.54L378.29,267.54L378.29,267.33L379.35,267.33L379.35,268.31L380.15,268.31L380.15,268.48L381.89,268.48L381.89,268.36L383.48,268.36L383.48,267.56L384.81,267.56L384.81,268.53L385.92,268.53L385.92,267.94L387.25,267.94L387.25,267.37L388.59,267.37L388.59,267.72L390.34,267.72L390.34,268.11L391.84,268.11L391.84,267.37L392.84,267.37L392.84,268.22L393.63,268.22L393.63,268.39L395.44,268.39L395.44,268.53L396.94,268.53L396.94,267.80L398.50,267.80L398.50,268.33L399.31,268.33L399.31,267.76L400.36,267.76L400.36,267.27L401.75,267.27L401.75,267.64L403.26,267.64L403.26,267.94L404.11,267.94L404.11,268.68L405.03,268.68L405.03,268.64L406.82,268.64L406.82,267.78L408.40,267.78L408.40,268.40L409.50,268.40L409.50,268.15L410.74,268.15L410.74,267.63L412.49,267.63L412.49,268.12L413.30,268.12L413.30,267.46L414.97,267.46L414.97,267.40L416.04,267.40L416.04,268.58L417.76,268.58L417.76,268.53L419.15,268.53L419.15,267.75L420.08,267.75L420.08,268.49L421.26,268.49L421.26,267.75L422.27,267.75L422.27,268.34L423.94,268.34L423.94,268.52L425.10,268.52L425.10,267.63L426.70,267.63L426.70,268.22L428.02,268.22L428.02,268.53L429.63,268.53L429.63,268.30L431.20,268.30L431.20,268.35L432.21,268.35L432.21,268.11L433.66,268.11L433.66,267.93L434.49,267.93L434.49,267.59L435.52,267.59L435.52,268.55L436.42,268.55L436.42,268.00L437.29,268.00L437.29,268.46L438.25,268.46L438.25,268.35L439.16,268.35L439.16,268.59L440.43,268.59L440.43,267.23L441.28,267.23L441.28,268.17L442.64,268.17L442.64,267.26L444.32,267.26L444.32,268.35L445.64,268.35L445.64,268.30L447.32,268.30L447.32,268.33L448.38,268.33L448.38,267.17L449.92,267.17L449.92,268.38L451.03,268.38L451.03,268.35L452.18,268.35L452.18,268.48L453.47,268.48L453.47,268.14L454.92,268.14L454.92,267.39L456.19,267.39L456.19,267.29L457.22,267.29L457.22,267.68L458.67,267.68L458.67,268.32L460.44,268.32L460.44,267.42L461.60,267.42L461.60,267.02L462.62,267.02L462.62,267.47L463.48,267.47L463.48,267.90L464.72,267.90L464.72,268.38L466.28,268.38L466.28,267.72L467.48,267.72L467.48,267.01L469.24,267.01L469.24,268.10L470.55,268.10L470.55,267.11L472.37,267.11L472.37,267.50L474.01,267.50L474.01,268.24L475.27,268.24L475.27,268.32L476.38,268.32L476.38,268.05L477.86,268.05L477.86,268.62L478.81,268.62L478.81,266.93L480.22,266.93L480.22,268.09L481.58,268.09L481.58,267.55L482.61,267.55L482.61,268.41L483.55,268.41L483.55,268.51L484.93,268.51L484.93,266.85L485.96,266.85L485.96,268.24L487.21,268.24L487.21,268.08L488.67,268.08L488.67,267.37L489.73,267.37L489.73,267.14L490.57,267.14L490.57,267.15L490.75,267.15L490.75,269.60Z" fill="#ec1c2a"/>
<line x1="258.00" y1="275.20" x2="482.60" y2="275.20" stroke="#5a63b8" stroke-width="1.2" />
<rect x="257.90" y="272.20" width="1.60" height="6.00" fill="#3b49a6" />
<rect x="285.05" y="272.20" width="0.90" height="6.00" fill="#3b49a6" />
<rect x="295.85" y="272.20" width="0.90" height="6.00" fill="#3b49a6" />
<rect x="309.75" y="272.20" width="1.50" height="6.00" fill="#3b49a6" />
<rect x="323.05" y="272.20" width="1.50" height="6.00" fill="#3b49a6" />
<rect x="333.35" y="272.20" width="0.90" height="6.00" fill="#3b49a6" />
<rect x="335.85" y="272.20" width="0.90" height="6.00" fill="#3b49a6" />
<rect x="339.05" y="272.20" width="0.90" height="6.00" fill="#3b49a6" />
<rect x="343.75" y="272.20" width="1.50" height="6.00" fill="#3b49a6" />
<rect x="349.35" y="272.20" width="2.50" height="6.00" fill="#3b49a6" />
<rect x="352.15" y="272.20" width="0.90" height="6.00" fill="#3b49a6" />
<rect x="363.35" y="272.20" width="0.90" height="6.00" fill="#3b49a6" />
<rect x="369.40" y="272.20" width="1.60" height="6.00" fill="#3b49a6" />
<rect x="378.35" y="272.20" width="0.90" height="6.00" fill="#3b49a6" />
<rect x="387.55" y="272.20" width="0.90" height="6.00" fill="#3b49a6" />
<rect x="475.00" y="272.20" width="1.00" height="6.00" fill="#3b49a6" />
<rect x="475.20" y="273.30" width="7.40" height="3.80" fill="#3b49a6" />
<path d="M261.70,274.20L263.30,275.20L261.70,276.20Z" fill="#3b49a6" stroke="#3b49a6" stroke-width="0.3"/>
<path d="M269.70,274.20L271.30,275.20L269.70,276.20Z" fill="#3b49a6" stroke="#3b49a6" stroke-width="0.3"/>
<path d="M277.70,274.20L279.30,275.20L277.70,276.20Z" fill="#3b49a6" stroke="#3b49a6" stroke-width="0.3"/>
<path d="M285.70,274.20L287.30,275.20L285.70,276.20Z" fill="#3b49a6" stroke="#3b49a6" stroke-width="0.3"/>
<path d="M293.70,274.20L295.30,275.20L293.70,276.20Z" fill="#3b49a6" stroke="#3b49a6" stroke-width="0.3"/>
<path d="M301.70,274.20L303.30,275.20L301.70,276.20Z" fill="#3b49a6" stroke="#3b49a6" stroke-width="0.3"/>
<path d="M309.70,274.20L311.30,275.20L309.70,276.20Z" fill="#3b49a6" stroke="#3b49a6" stroke-width="0.3"/>
<path d="M317.70,274.20L319.30,275.20L317.70,276.20Z" fill="#3b49a6" stroke="#3b49a6" stroke-width="0.3"/>
<path d="M325.70,274.20L327.30,275.20L325.70,276.20Z" fill="#3b49a6" stroke="#3b49a6" stroke-width="0.3"/>
<path d="M333.70,274.20L335.30,275.20L333.70,276.20Z" fill="#3b49a6" stroke="#3b49a6" stroke-width="0.3"/>
<path d="M341.70,274.20L343.30,275.20L341.70,276.20Z" fill="#3b49a6" stroke="#3b49a6" stroke-width="0.3"/>
<path d="M349.70,274.20L351.30,275.20L349.70,276.20Z" fill="#3b49a6" stroke="#3b49a6" stroke-width="0.3"/>
<path d="M357.70,274.20L359.30,275.20L357.70,276.20Z" fill="#3b49a6" stroke="#3b49a6" stroke-width="0.3"/>
<path d="M365.70,274.20L367.30,275.20L365.70,276.20Z" fill="#3b49a6" stroke="#3b49a6" stroke-width="0.3"/>
<path d="M373.70,274.20L375.30,275.20L373.70,276.20Z" fill="#3b49a6" stroke="#3b49a6" stroke-width="0.3"/>
<path d="M381.70,274.20L383.30,275.20L381.70,276.20Z" fill="#3b49a6" stroke="#3b49a6" stroke-width="0.3"/>
<path d="M389.70,274.20L391.30,275.20L389.70,276.20Z" fill="#3b49a6" stroke="#3b49a6" stroke-width="0.3"/>
<path d="M397.70,274.20L399.30,275.20L397.70,276.20Z" fill="#3b49a6" stroke="#3b49a6" stroke-width="0.3"/>
<path d="M405.70,274.20L407.30,275.20L405.70,276.20Z" fill="#3b49a6" stroke="#3b49a6" stroke-width="0.3"/>
<path d="M413.70,274.20L415.30,275.20L413.70,276.20Z" fill="#3b49a6" stroke="#3b49a6" stroke-width="0.3"/>
<path d="M421.70,274.20L423.30,275.20L421.70,276.20Z" fill="#3b49a6" stroke="#3b49a6" stroke-width="0.3"/>
<path d="M429.70,274.20L431.30,275.20L429.70,276.20Z" fill="#3b49a6" stroke="#3b49a6" stroke-width="0.3"/>
<path d="M437.70,274.20L439.30,275.20L437.70,276.20Z" fill="#3b49a6" stroke="#3b49a6" stroke-width="0.3"/>
<path d="M445.70,274.20L447.30,275.20L445.70,276.20Z" fill="#3b49a6" stroke="#3b49a6" stroke-width="0.3"/>
<path d="M453.70,274.20L455.30,275.20L453.70,276.20Z" fill="#3b49a6" stroke="#3b49a6" stroke-width="0.3"/>
<path d="M461.70,274.20L463.30,275.20L461.70,276.20Z" fill="#3b49a6" stroke="#3b49a6" stroke-width="0.3"/>
<path d="M469.70,274.20L471.30,275.20L469.70,276.20Z" fill="#3b49a6" stroke="#3b49a6" stroke-width="0.3"/>
<text x="412.40" y="211.25" font-size="7.2" fill="#2a5f98" stroke="#2a5f98" stroke-width="0.14" textLength="75.10" lengthAdjust="spacingAndGlyphs" >Early Baso H3K27me3</text>
<text x="412.40" y="225.00" font-size="7.2" fill="#2a5f98" stroke="#2a5f98" stroke-width="0.14" textLength="75.10" lengthAdjust="spacingAndGlyphs" >Early Baso H3K36me3</text>
<text x="427.80" y="243.00" font-size="7.2" fill="#cc2338" stroke="#cc2338" stroke-width="0.14" textLength="59.70" lengthAdjust="spacingAndGlyphs" >Ortho H3K27me3</text>
<text x="427.80" y="258.75" font-size="7.2" fill="#cc2338" stroke="#cc2338" stroke-width="0.14" textLength="59.70" lengthAdjust="spacingAndGlyphs" >Ortho H3K36me3</text>
<text x="258.10" y="287.80" font-size="8.0" fill="#1e1e1e" stroke="#1e1e1e" stroke-width="0.28" textLength="6.10" lengthAdjust="spacingAndGlyphs" >5’</text>
<text x="478.50" y="287.50" font-size="7.8" fill="#1e1e1e" stroke="#1e1e1e" stroke-width="0.28" textLength="6.10" lengthAdjust="spacingAndGlyphs" >3’</text>
<line x1="464.00" y1="291.50" x2="476.40" y2="291.50" stroke="#2a6ea0" stroke-width="1" />
<text x="463.50" y="300.80" font-size="7.8" fill="#231f20" stroke="#231f20" stroke-width="0.28" textLength="14.40" lengthAdjust="spacingAndGlyphs" >1 kb</text>
<text x="361.00" y="295.00" font-size="6.6" fill="#231f20" stroke="#231f20" stroke-width="0.14" textLength="15.00" lengthAdjust="spacingAndGlyphs" >MYB</text>
<rect x="239.20" y="535.20" width="234.60" height="7.80" fill="#f4f5f9" />
<rect x="239.20" y="544.10" width="234.60" height="16.90" fill="#f4f5f9" />
<rect x="239.20" y="562.10" width="234.60" height="17.00" fill="#f4f5f9" />
<rect x="239.20" y="580.20" width="234.60" height="16.40" fill="#f4f5f9" />
<rect x="239.20" y="597.70" width="234.60" height="8.60" fill="#f4f5f9" />
<rect x="238.60" y="528.24" width="4.96" height="7.60" fill="#ffffff" />
<text x="239.00" y="534.80" font-size="8.0" fill="#1a1a1a" stroke="#1a1a1a" stroke-width="0.14" >7</text>
<rect x="238.60" y="544.44" width="4.96" height="7.60" fill="#ffffff" />
<text x="239.00" y="551.00" font-size="8.0" fill="#1a1a1a" stroke="#1a1a1a" stroke-width="0.14" >7</text>
<rect x="238.60" y="561.64" width="4.96" height="7.60" fill="#ffffff" />
<text x="239.00" y="568.20" font-size="8.0" fill="#1a1a1a" stroke="#1a1a1a" stroke-width="0.14" >7</text>
<rect x="238.60" y="580.24" width="4.96" height="7.60" fill="#ffffff" />
<text x="239.00" y="586.80" font-size="8.0" fill="#1a1a1a" stroke="#1a1a1a" stroke-width="0.14" >7</text>
<path d="M239.20,542.40L239.20,542.15L240.89,542.15L240.89,542.12L242.50,542.12L242.50,542.12L243.54,542.12L243.54,542.11L245.25,542.11L245.25,542.11L246.97,542.11L246.97,542.16L248.01,542.16L248.01,542.14L249.50,542.14L249.50,542.10L250.77,542.10L250.77,542.02L252.04,542.02L252.04,542.08L253.01,542.08L253.01,542.08L254.24,542.08L254.24,542.15L256.02,542.15L256.02,542.16L257.17,542.16L257.17,542.10L258.18,542.10L258.18,542.09L259.10,542.09L259.10,542.07L260.49,542.07L260.49,542.11L262.00,542.11L262.00,542.16L262.80,542.16L262.80,542.17L264.58,542.17L264.58,542.09L266.02,542.09L266.02,542.06L267.60,542.06L267.60,542.14L269.00,542.14L269.00,542.08L269.99,542.08L269.99,542.11L271.05,542.11L271.05,542.18L272.56,542.18L272.56,542.16L274.08,542.16L274.08,542.18L275.83,542.18L275.83,542.17L277.15,542.17L277.15,542.14L278.20,542.14L278.20,542.17L279.08,542.17L279.08,542.11L280.68,542.11L280.68,542.14L281.65,542.14L281.65,542.06L282.59,542.06L282.59,542.13L283.61,542.13L283.61,542.09L285.00,542.09L285.00,542.09L286.61,542.09L286.61,542.16L287.97,542.16L287.97,542.16L288.87,542.16L288.87,542.16L290.09,542.16L290.09,542.04L291.62,542.04L291.62,542.13L293.12,542.13L293.12,542.08L294.22,542.08L294.22,542.14L295.24,542.14L295.24,542.09L297.01,542.09L297.01,542.14L298.54,542.14L298.54,542.11L299.38,542.11L299.38,542.16L301.07,542.16L301.07,542.16L302.37,542.16L302.37,542.14L303.71,542.14L303.71,542.12L304.89,542.12L304.89,542.15L305.90,542.15L305.90,542.13L307.48,542.13L307.48,542.13L309.23,542.13L309.23,542.17L310.67,542.17L310.67,542.18L312.40,542.18L312.40,542.14L313.49,542.14L313.49,542.10L314.73,542.10L314.73,542.13L316.51,542.13L316.51,542.15L317.43,542.15L317.43,542.18L318.76,542.18L318.76,542.17L320.34,542.17L320.34,542.15L321.37,542.15L321.37,542.17L322.92,542.17L322.92,542.08L324.69,542.08L324.69,542.14L326.22,542.14L326.22,542.17L328.00,542.17L328.00,542.09L329.03,542.09L329.03,542.12L329.97,542.12L329.97,542.14L331.52,542.14L331.52,542.16L333.16,542.16L333.16,542.06L334.73,542.06L334.73,542.07L335.85,542.07L335.85,542.08L337.01,542.08L337.01,542.13L337.91,542.13L337.91,542.08L339.35,542.08L339.35,542.09L341.08,542.09L341.08,542.06L342.65,542.06L342.65,542.14L343.83,542.14L343.83,542.17L344.96,542.17L344.96,542.15L346.62,542.15L346.62,542.17L348.17,542.17L348.17,542.05L349.86,542.05L349.86,542.12L351.45,542.12L351.45,542.08L352.58,542.08L352.58,542.16L353.39,542.16L353.39,542.11L354.24,542.11L354.24,542.16L355.44,542.16L355.44,542.08L356.88,542.08L356.88,542.12L358.42,542.12L358.42,542.08L359.31,542.08L359.31,542.08L360.59,542.08L360.59,542.07L361.59,542.07L361.59,542.13L363.09,542.13L363.09,542.01L364.49,542.01L364.49,542.08L365.36,542.08L365.36,542.08L366.52,542.08L366.52,542.09L367.52,542.09L367.52,542.06L368.70,542.06L368.70,542.06L369.79,542.06L369.79,542.09L371.14,542.09L371.14,542.10L372.92,542.10L372.92,542.11L373.89,542.11L373.89,542.11L375.57,542.11L375.57,542.07L376.37,542.07L376.37,542.07L378.15,542.07L378.15,542.06L379.08,542.06L379.08,542.08L380.48,542.08L380.48,542.14L381.80,542.14L381.80,542.12L382.93,542.12L382.93,542.09L383.98,542.09L383.98,542.16L385.70,542.16L385.70,542.12L387.26,542.12L387.26,542.10L388.91,542.10L388.91,542.17L390.15,542.17L390.15,542.18L391.63,542.18L391.63,542.14L393.45,542.14L393.45,542.09L394.44,542.09L394.44,542.13L395.53,542.13L395.53,542.16L396.51,542.16L396.51,542.13L397.79,542.13L397.79,542.07L399.56,542.07L399.56,542.15L400.49,542.15L400.49,542.18L402.27,542.18L402.27,542.15L403.42,542.15L403.42,542.14L405.10,542.14L405.10,542.18L406.63,542.18L406.63,542.12L407.83,542.12L407.83,542.14L409.30,542.14L409.30,542.07L410.46,542.07L410.46,542.08L411.95,542.08L411.95,542.07L413.14,542.07L413.14,542.16L414.76,542.16L414.76,542.15L416.05,542.15L416.05,541.98L417.39,541.98L417.39,541.89L418.51,541.89L418.51,541.78L419.56,541.78L419.56,541.75L421.29,541.75L421.29,541.59L422.93,541.59L422.93,540.90L423.91,540.90L423.91,541.28L424.84,541.28L424.84,540.86L425.89,540.86L425.89,540.61L427.62,540.61L427.62,540.62L429.36,540.62L429.36,541.28L430.59,541.28L430.59,541.19L431.77,541.19L431.77,541.26L433.17,541.26L433.17,541.44L434.08,541.44L434.08,541.35L434.98,541.35L434.98,541.53L436.46,541.53L436.46,541.45L437.69,541.45L437.69,541.47L439.48,541.47L439.48,541.23L440.45,541.23L440.45,541.31L442.00,541.31L442.00,540.93L443.49,540.93L443.49,540.48L445.09,540.48L445.09,539.29L446.79,539.29L446.79,539.78L447.98,539.78L447.98,540.08L449.71,540.08L449.71,540.49L450.67,540.49L450.67,540.71L451.46,540.71L451.46,540.47L452.77,540.47L452.77,541.04L453.98,541.04L453.98,540.71L455.52,540.71L455.52,540.88L457.29,540.88L457.29,540.64L458.40,540.64L458.40,540.98L460.12,540.98L460.12,540.79L461.76,540.79L461.76,539.84L462.87,539.84L462.87,539.42L464.28,539.42L464.28,539.29L465.57,539.29L465.57,538.33L466.44,538.33L466.44,537.16L467.37,537.16L467.37,538.48L469.09,538.48L469.09,540.91L469.97,540.91L469.97,541.50L470.86,541.50L470.86,541.56L471.91,541.56L471.91,541.62L473.20,541.62L473.20,541.89L473.80,541.89L473.80,542.40Z" fill="#2a3590"/>
<line x1="239.20" y1="541.80" x2="473.80" y2="541.80" stroke="#2a3590" stroke-width="1.1" opacity="0.6"/>
<path d="M239.20,560.40L239.20,559.84L241.02,559.84L241.02,557.28L242.64,557.28L242.64,555.48L244.32,555.48L244.32,555.12L245.59,555.12L245.59,555.39L246.52,555.39L246.52,552.47L248.33,552.47L248.33,553.62L249.24,553.62L249.24,553.42L250.28,553.42L250.28,551.13L251.56,551.13L251.56,554.34L253.27,554.34L253.27,555.06L254.54,555.06L254.54,553.44L255.67,553.44L255.67,552.80L256.60,552.80L256.60,553.15L257.57,553.15L257.57,554.15L258.52,554.15L258.52,553.86L260.12,553.86L260.12,556.63L261.13,556.63L261.13,557.01L262.92,557.01L262.92,557.22L264.25,557.22L264.25,556.70L265.13,556.70L265.13,554.87L266.62,554.87L266.62,553.35L267.88,553.35L267.88,552.79L269.62,552.79L269.62,554.41L270.98,554.41L270.98,553.85L271.90,553.85L271.90,553.50L272.96,553.50L272.96,553.67L274.53,553.67L274.53,552.90L276.24,552.90L276.24,553.32L278.04,553.32L278.04,553.96L279.82,553.96L279.82,553.14L280.93,553.14L280.93,554.16L281.84,554.16L281.84,553.48L283.20,553.48L283.20,551.22L284.36,551.22L284.36,550.88L285.70,550.88L285.70,551.11L286.86,551.11L286.86,551.98L288.65,551.98L288.65,553.29L289.49,553.29L289.49,554.24L290.49,554.24L290.49,552.77L292.14,552.77L292.14,552.02L293.88,552.02L293.88,550.86L295.40,550.86L295.40,552.62L296.63,552.62L296.63,550.95L298.00,550.95L298.00,553.81L299.72,553.81L299.72,552.24L300.51,552.24L300.51,553.27L302.16,553.27L302.16,553.72L303.21,553.72L303.21,551.09L304.33,551.09L304.33,550.35L305.84,550.35L305.84,553.57L307.64,553.57L307.64,554.48L308.70,554.48L308.70,554.85L310.17,554.85L310.17,553.34L311.98,553.34L311.98,554.01L312.93,554.01L312.93,553.90L314.08,553.90L314.08,553.51L315.01,553.51L315.01,555.27L316.40,555.27L316.40,554.06L317.70,554.06L317.70,554.47L318.91,554.47L318.91,553.43L319.75,553.43L319.75,554.81L321.32,554.81L321.32,555.48L322.35,555.48L322.35,555.95L323.53,555.95L323.53,555.52L324.55,555.52L324.55,554.75L325.80,554.75L325.80,555.06L327.20,555.06L327.20,554.92L328.07,554.92L328.07,555.54L329.52,555.54L329.52,555.49L330.84,555.49L330.84,554.34L331.78,554.34L331.78,555.45L333.50,555.45L333.50,554.60L334.46,554.60L334.46,555.89L336.12,555.89L336.12,554.57L337.55,554.57L337.55,555.66L338.68,555.66L338.68,555.65L340.20,555.65L340.20,554.63L341.68,554.63L341.68,555.23L342.55,555.23L342.55,553.49L343.57,553.49L343.57,555.84L344.44,555.84L344.44,556.04L345.57,556.04L345.57,557.22L346.58,557.22L346.58,557.72L347.80,557.72L347.80,558.25L349.15,558.25L349.15,557.01L350.03,557.01L350.03,556.72L351.02,556.72L351.02,555.58L352.64,555.58L352.64,555.42L354.26,555.42L354.26,554.93L355.55,554.93L355.55,555.63L357.05,555.63L357.05,554.63L357.88,554.63L357.88,554.13L358.78,554.13L358.78,553.84L360.16,553.84L360.16,553.91L361.67,553.91L361.67,554.74L362.73,554.74L362.73,553.34L363.52,553.34L363.52,555.28L365.20,555.28L365.20,554.23L366.88,554.23L366.88,554.32L368.06,554.32L368.06,553.54L368.88,553.54L368.88,555.48L370.70,555.48L370.70,556.58L372.30,556.58L372.30,557.32L374.09,557.32L374.09,558.10L375.45,558.10L375.45,558.44L376.74,558.44L376.74,558.63L378.05,558.63L378.05,559.32L379.35,559.32L379.35,559.78L380.32,559.78L380.32,559.89L381.83,559.89L381.83,559.85L383.58,559.85L383.58,559.88L384.78,559.88L384.78,559.78L386.32,559.78L386.32,559.85L387.41,559.85L387.41,559.80L388.41,559.80L388.41,559.78L389.89,559.78L389.89,559.80L390.74,559.80L390.74,559.95L392.06,559.95L392.06,559.77L393.08,559.77L393.08,559.93L394.63,559.93L394.63,559.90L395.91,559.90L395.91,559.78L397.60,559.78L397.60,559.87L399.39,559.87L399.39,559.94L401.13,559.94L401.13,559.91L402.84,559.91L402.84,559.94L404.00,559.94L404.00,559.79L405.20,559.79L405.20,559.81L406.38,559.81L406.38,559.97L407.96,559.97L407.96,559.85L408.93,559.85L408.93,559.83L410.02,559.83L410.02,559.79L411.04,559.79L411.04,559.85L411.86,559.85L411.86,559.84L413.17,559.84L413.17,559.93L414.38,559.93L414.38,559.80L416.19,559.80L416.19,559.79L417.58,559.79L417.58,559.97L419.20,559.97L419.20,559.84L421.01,559.84L421.01,559.90L422.44,559.90L422.44,559.82L423.62,559.82L423.62,559.96L425.18,559.96L425.18,559.80L426.44,559.80L426.44,559.98L427.32,559.98L427.32,559.92L428.40,559.92L428.40,559.89L429.35,559.89L429.35,559.90L431.03,559.90L431.03,559.82L432.16,559.82L432.16,559.87L433.03,559.87L433.03,559.92L434.49,559.92L434.49,559.94L436.15,559.94L436.15,559.92L437.30,559.92L437.30,559.97L438.77,559.97L438.77,559.93L440.38,559.93L440.38,559.84L441.92,559.84L441.92,559.95L443.41,559.95L443.41,559.92L444.39,559.92L444.39,559.88L445.44,559.88L445.44,559.98L446.40,559.98L446.40,559.96L447.32,559.96L447.32,559.90L448.42,559.90L448.42,559.90L450.01,559.90L450.01,559.97L451.66,559.97L451.66,559.87L452.90,559.87L452.90,559.85L453.79,559.85L453.79,560.00L455.58,560.00L455.58,559.98L456.55,559.98L456.55,559.82L458.26,559.82L458.26,559.84L459.59,559.84L459.59,559.97L460.72,559.97L460.72,559.87L461.58,559.87L461.58,559.99L462.66,559.99L462.66,559.85L464.35,559.85L464.35,559.93L465.42,559.93L465.42,559.87L466.43,559.87L466.43,559.84L467.85,559.84L467.85,559.99L469.11,559.99L469.11,559.95L470.89,559.95L470.89,559.89L471.93,559.89L471.93,559.95L472.93,559.95L472.93,559.96L473.80,559.96L473.80,560.40Z" fill="#2a3590"/>
<path d="M239.20,578.50L239.20,578.50L240.76,578.50L240.76,578.31L241.76,578.31L241.76,578.50L243.30,578.50L243.30,578.35L244.24,578.35L244.24,578.32L245.84,578.32L245.84,578.50L247.37,578.50L247.37,578.50L249.00,578.50L249.00,578.50L250.07,578.50L250.07,578.34L251.45,578.34L251.45,578.50L252.68,578.50L252.68,578.50L254.29,578.50L254.29,578.50L255.94,578.50L255.94,578.50L257.34,578.50L257.34,578.36L258.43,578.36L258.43,578.29L260.05,578.29L260.05,578.50L261.53,578.50L261.53,578.36L262.74,578.36L262.74,578.50L263.68,578.50L263.68,578.50L265.36,578.50L265.36,578.50L266.29,578.50L266.29,578.50L267.67,578.50L267.67,578.50L268.95,578.50L268.95,578.50L270.19,578.50L270.19,578.50L271.84,578.50L271.84,578.50L273.58,578.50L273.58,578.50L274.40,578.50L274.40,578.32L275.41,578.32L275.41,578.31L276.43,578.31L276.43,578.50L277.88,578.50L277.88,578.50L279.16,578.50L279.16,578.50L280.61,578.50L280.61,578.35L282.15,578.35L282.15,578.50L283.80,578.50L283.80,578.36L284.67,578.36L284.67,578.50L285.54,578.50L285.54,578.50L286.58,578.50L286.58,578.50L287.84,578.50L287.84,578.50L289.44,578.50L289.44,578.35L290.23,578.35L290.23,578.50L291.12,578.50L291.12,578.29L292.12,578.29L292.12,578.50L293.69,578.50L293.69,578.50L295.44,578.50L295.44,578.50L296.54,578.50L296.54,578.50L298.31,578.50L298.31,578.50L299.54,578.50L299.54,578.50L301.12,578.50L301.12,578.31L302.33,578.31L302.33,578.29L303.69,578.29L303.69,578.50L305.07,578.50L305.07,578.50L306.43,578.50L306.43,578.35L308.12,578.35L308.12,578.33L309.56,578.33L309.56,578.29L310.65,578.29L310.65,578.25L312.10,578.25L312.10,578.20L313.34,578.20L313.34,578.50L314.74,578.50L314.74,578.50L315.65,578.50L315.65,578.33L316.75,578.33L316.75,578.50L318.37,578.50L318.37,578.50L319.91,578.50L319.91,578.50L321.67,578.50L321.67,578.50L323.20,578.50L323.20,578.50L324.17,578.50L324.17,578.50L325.47,578.50L325.47,578.50L326.37,578.50L326.37,578.50L327.47,578.50L327.47,578.31L328.48,578.31L328.48,578.29L330.13,578.29L330.13,578.50L331.69,578.50L331.69,578.50L332.59,578.50L332.59,578.50L333.84,578.50L333.84,578.33L335.41,578.33L335.41,578.50L336.35,578.50L336.35,578.50L337.57,578.50L337.57,578.25L338.93,578.25L338.93,578.50L339.75,578.50L339.75,578.50L341.48,578.50L341.48,578.50L342.87,578.50L342.87,578.34L343.76,578.34L343.76,578.50L345.29,578.50L345.29,578.50L346.46,578.50L346.46,578.50L347.73,578.50L347.73,578.50L348.67,578.50L348.67,578.50L349.53,578.50L349.53,578.50L350.52,578.50L350.52,578.50L351.44,578.50L351.44,578.30L352.47,578.30L352.47,578.30L353.35,578.30L353.35,578.27L355.03,578.27L355.03,578.50L355.87,578.50L355.87,578.28L356.94,578.28L356.94,578.50L357.92,578.50L357.92,578.50L358.99,578.50L358.99,578.50L360.08,578.50L360.08,578.50L361.53,578.50L361.53,578.50L363.14,578.50L363.14,578.50L364.16,578.50L364.16,578.50L365.47,578.50L365.47,578.50L367.00,578.50L367.00,578.50L368.21,578.50L368.21,578.30L369.92,578.30L369.92,578.20L371.54,578.20L371.54,578.27L373.00,578.27L373.00,578.18L374.67,578.18L374.67,578.50L375.72,578.50L375.72,578.31L377.25,578.31L377.25,578.50L378.71,578.50L378.71,578.50L379.99,578.50L379.99,578.19L380.97,578.19L380.97,578.24L382.14,578.24L382.14,578.21L383.33,578.21L383.33,578.50L384.65,578.50L384.65,578.50L386.42,578.50L386.42,578.24L387.68,578.24L387.68,578.26L389.20,578.26L389.20,578.20L390.26,578.20L390.26,578.23L391.43,578.23L391.43,578.19L392.90,578.19L392.90,578.50L393.84,578.50L393.84,578.50L394.85,578.50L394.85,578.50L395.73,578.50L395.73,578.50L397.26,578.50L397.26,578.50L398.92,578.50L398.92,578.50L400.58,578.50L400.58,578.50L401.64,578.50L401.64,578.50L402.43,578.50L402.43,578.50L403.61,578.50L403.61,578.50L405.28,578.50L405.28,578.50L406.06,578.50L406.06,577.95L406.87,577.95L406.87,578.50L408.39,578.50L408.39,578.50L409.69,578.50L409.69,578.50L410.77,578.50L410.77,577.91L412.47,577.91L412.47,578.50L414.13,578.50L414.13,578.50L415.65,578.50L415.65,577.81L417.28,577.81L417.28,578.50L418.62,578.50L418.62,578.50L419.82,578.50L419.82,578.50L421.33,578.50L421.33,578.50L422.92,578.50L422.92,577.84L424.55,577.84L424.55,578.50L425.67,578.50L425.67,577.91L426.79,577.91L426.79,577.65L428.26,577.65L428.26,577.66L429.52,577.66L429.52,577.80L430.95,577.80L430.95,577.84L432.66,577.84L432.66,578.50L433.58,578.50L433.58,578.50L434.70,578.50L434.70,577.72L436.31,577.72L436.31,577.85L437.27,577.85L437.27,578.50L438.52,578.50L438.52,578.50L439.80,578.50L439.80,578.50L441.57,578.50L441.57,577.10L443.16,577.10L443.16,575.88L444.26,575.88L444.26,575.47L445.71,575.47L445.71,575.96L447.12,575.96L447.12,576.23L448.25,576.23L448.25,577.26L449.09,577.26L449.09,577.18L450.60,577.18L450.60,576.86L451.99,576.86L451.99,576.72L453.16,576.72L453.16,577.19L454.01,577.19L454.01,577.10L455.30,577.10L455.30,577.17L456.85,577.17L456.85,576.95L457.75,576.95L457.75,577.03L459.55,577.03L459.55,576.62L461.25,576.62L461.25,576.02L462.98,576.02L462.98,574.38L464.02,574.38L464.02,573.79L465.11,573.79L465.11,572.71L466.23,572.71L466.23,572.42L467.60,572.42L467.60,571.93L469.41,571.93L469.41,575.71L470.77,575.71L470.77,576.60L472.20,576.60L472.20,578.50L473.64,578.50L473.64,578.50L473.80,578.50L473.80,578.50Z" fill="#ec1c2a"/>
<line x1="239.20" y1="578.10" x2="473.80" y2="578.10" stroke="#ec1c2a" stroke-width="0.7" opacity="0.35"/>
<path d="M239.20,596.00L239.20,595.43L240.89,595.43L240.89,592.40L241.70,592.40L241.70,590.23L242.73,590.23L242.73,590.32L244.24,590.32L244.24,589.63L245.36,589.63L245.36,589.11L246.95,589.11L246.95,587.58L248.27,587.58L248.27,588.80L249.89,588.80L249.89,589.62L251.47,589.62L251.47,585.52L252.53,585.52L252.53,588.16L253.48,588.16L253.48,587.49L254.83,587.49L254.83,585.22L255.95,585.22L255.95,589.15L257.05,589.15L257.05,588.22L257.96,588.22L257.96,587.91L258.89,587.91L258.89,587.95L259.89,587.95L259.89,588.91L260.91,588.91L260.91,592.18L262.55,592.18L262.55,593.30L264.13,593.30L264.13,591.89L265.94,591.89L265.94,590.66L267.67,590.66L267.67,588.44L269.17,588.44L269.17,585.61L270.23,585.61L270.23,587.44L271.15,587.44L271.15,585.31L272.19,585.31L272.19,585.57L273.09,585.57L273.09,585.24L274.19,585.24L274.19,587.83L275.77,587.83L275.77,586.69L276.72,586.69L276.72,587.92L278.41,587.92L278.41,586.07L279.98,586.07L279.98,587.77L280.84,587.77L280.84,587.35L282.53,587.35L282.53,586.54L283.34,586.54L283.34,586.67L284.94,586.67L284.94,585.05L286.28,585.05L286.28,584.83L287.46,584.83L287.46,586.48L289.01,586.48L289.01,587.02L290.08,587.02L290.08,584.29L291.36,584.29L291.36,585.92L293.12,585.92L293.12,585.81L294.79,585.81L294.79,586.59L295.68,586.59L295.68,585.61L296.62,585.61L296.62,585.74L297.91,585.74L297.91,585.94L299.61,585.94L299.61,585.76L301.05,585.76L301.05,583.83L302.52,583.83L302.52,585.33L303.60,585.33L303.60,584.96L305.33,584.96L305.33,583.18L306.61,583.18L306.61,582.99L308.34,582.99L308.34,584.80L309.55,584.80L309.55,581.32L311.22,581.32L311.22,584.52L312.86,584.52L312.86,588.02L314.13,588.02L314.13,588.68L315.74,588.68L315.74,589.02L317.53,589.02L317.53,590.71L318.75,590.71L318.75,590.28L320.51,590.28L320.51,590.33L321.40,590.33L321.40,591.67L322.79,591.67L322.79,591.14L324.00,591.14L324.00,591.26L324.96,591.26L324.96,590.04L326.30,590.04L326.30,590.94L327.41,590.94L327.41,590.93L329.21,590.93L329.21,590.78L330.04,590.78L330.04,591.61L331.64,591.61L331.64,590.20L333.23,590.20L333.23,590.93L334.56,590.93L334.56,591.04L336.04,591.04L336.04,590.53L337.77,590.53L337.77,590.18L338.62,590.18L338.62,590.69L339.64,590.69L339.64,591.84L340.45,591.84L340.45,590.69L341.52,590.69L341.52,591.38L342.49,591.38L342.49,592.21L343.75,592.21L343.75,591.74L345.36,591.74L345.36,592.31L346.55,592.31L346.55,592.67L348.35,592.67L348.35,592.77L349.79,592.77L349.79,593.60L350.81,593.60L350.81,591.39L352.05,591.39L352.05,590.86L353.58,590.86L353.58,590.87L355.09,590.87L355.09,590.55L356.24,590.55L356.24,589.24L357.86,589.24L357.86,588.33L359.67,588.33L359.67,590.65L360.48,590.65L360.48,589.50L362.06,589.50L362.06,589.85L363.66,589.85L363.66,589.13L364.95,589.13L364.95,590.41L365.95,590.41L365.95,588.47L367.00,588.47L367.00,589.56L368.44,589.56L368.44,590.95L369.92,590.95L369.92,592.49L371.32,592.49L371.32,593.13L372.43,593.13L372.43,594.19L373.57,594.19L373.57,594.32L374.53,594.32L374.53,594.55L376.09,594.55L376.09,596.00L376.97,596.00L376.97,596.00L378.28,596.00L378.28,596.00L379.98,596.00L379.98,595.72L381.49,595.72L381.49,596.00L382.53,596.00L382.53,595.52L383.66,595.52L383.66,596.00L384.64,596.00L384.64,596.00L386.36,596.00L386.36,596.00L388.01,596.00L388.01,596.00L388.80,596.00L388.80,595.72L389.70,595.72L389.70,596.00L390.61,596.00L390.61,596.00L391.65,596.00L391.65,596.00L392.89,596.00L392.89,596.00L394.22,596.00L394.22,595.65L395.95,595.65L395.95,595.62L397.07,595.62L397.07,596.00L398.78,596.00L398.78,595.75L400.48,595.75L400.48,596.00L401.99,596.00L401.99,596.00L403.32,596.00L403.32,595.71L404.80,595.71L404.80,596.00L406.23,596.00L406.23,596.00L408.03,596.00L408.03,596.00L409.55,596.00L409.55,596.00L410.61,596.00L410.61,596.00L411.55,596.00L411.55,596.00L412.51,596.00L412.51,595.75L414.18,595.75L414.18,596.00L415.19,596.00L415.19,595.69L416.32,595.69L416.32,596.00L418.10,596.00L418.10,596.00L419.88,596.00L419.88,595.73L421.64,595.73L421.64,596.00L423.30,596.00L423.30,595.65L424.19,595.65L424.19,595.69L425.72,595.69L425.72,596.00L427.21,596.00L427.21,596.00L428.77,596.00L428.77,596.00L430.52,596.00L430.52,596.00L432.14,596.00L432.14,596.00L433.76,596.00L433.76,596.00L435.11,596.00L435.11,596.00L436.40,596.00L436.40,596.00L438.07,596.00L438.07,595.70L439.84,595.70L439.84,595.70L441.38,595.70L441.38,595.72L442.61,595.72L442.61,596.00L444.24,596.00L444.24,596.00L445.05,596.00L445.05,595.65L445.97,595.65L445.97,595.60L446.90,595.60L446.90,595.60L447.82,595.60L447.82,596.00L449.58,596.00L449.58,596.00L450.80,596.00L450.80,596.00L452.62,596.00L452.62,596.00L454.39,596.00L454.39,595.56L455.89,595.56L455.89,596.00L457.18,596.00L457.18,596.00L458.50,596.00L458.50,595.74L459.71,595.74L459.71,596.00L460.74,596.00L460.74,596.00L462.20,596.00L462.20,596.00L463.90,596.00L463.90,596.00L465.21,596.00L465.21,595.66L466.34,595.66L466.34,596.00L467.24,596.00L467.24,596.00L468.06,596.00L468.06,595.69L469.57,595.69L469.57,595.60L471.10,595.60L471.10,596.00L472.46,596.00L472.46,596.00L473.80,596.00L473.80,596.00Z" fill="#ec1c2a"/>
<line x1="239.20" y1="601.90" x2="466.20" y2="601.90" stroke="#5a63b8" stroke-width="1.2" />
<rect x="239.80" y="598.90" width="2.00" height="6.00" fill="#3b49a6" />
<rect x="244.75" y="598.90" width="0.90" height="6.00" fill="#3b49a6" />
<rect x="247.45" y="598.90" width="0.90" height="6.00" fill="#3b49a6" />
<rect x="249.50" y="598.90" width="1.80" height="6.00" fill="#3b49a6" />
<rect x="253.85" y="598.90" width="0.90" height="6.00" fill="#3b49a6" />
<rect x="257.05" y="598.90" width="0.90" height="6.00" fill="#3b49a6" />
<rect x="259.05" y="598.90" width="0.90" height="6.00" fill="#3b49a6" />
<rect x="268.40" y="598.90" width="1.20" height="6.00" fill="#3b49a6" />
<rect x="270.60" y="598.90" width="1.20" height="6.00" fill="#3b49a6" />
<rect x="272.90" y="598.90" width="1.40" height="6.00" fill="#3b49a6" />
<rect x="275.60" y="598.90" width="1.40" height="6.00" fill="#3b49a6" />
<rect x="277.60" y="598.90" width="2.00" height="6.00" fill="#3b49a6" />
<rect x="280.20" y="598.90" width="1.60" height="6.00" fill="#3b49a6" />
<rect x="282.80" y="598.90" width="1.20" height="6.00" fill="#3b49a6" />
<rect x="285.30" y="598.90" width="1.40" height="6.00" fill="#3b49a6" />
<rect x="287.70" y="598.90" width="1.20" height="6.00" fill="#3b49a6" />
<rect x="291.30" y="598.90" width="1.00" height="6.00" fill="#3b49a6" />
<rect x="296.80" y="598.90" width="1.40" height="6.00" fill="#3b49a6" />
<rect x="299.00" y="598.90" width="1.60" height="6.00" fill="#3b49a6" />
<rect x="301.60" y="598.90" width="1.40" height="6.00" fill="#3b49a6" />
<rect x="304.90" y="598.90" width="1.40" height="6.00" fill="#3b49a6" />
<rect x="307.00" y="598.90" width="1.60" height="6.00" fill="#3b49a6" />
<rect x="309.40" y="598.90" width="1.20" height="6.00" fill="#3b49a6" />
<rect x="311.15" y="598.90" width="0.90" height="6.00" fill="#3b49a6" />
<rect x="315.45" y="598.90" width="0.90" height="6.00" fill="#3b49a6" />
<rect x="337.35" y="598.90" width="0.90" height="6.00" fill="#3b49a6" />
<rect x="373.95" y="598.90" width="0.90" height="6.00" fill="#3b49a6" />
<rect x="464.75" y="598.90" width="0.90" height="6.00" fill="#3b49a6" />
<rect x="276.00" y="600.00" width="5.00" height="3.80" fill="#3b49a6" />
<path d="M265.60,600.90L264.00,601.90L265.60,602.90Z" fill="#3b49a6" stroke="#3b49a6" stroke-width="0.3"/>
<path d="M323.80,600.90L322.20,601.90L323.80,602.90Z" fill="#3b49a6" stroke="#3b49a6" stroke-width="0.3"/>
<path d="M330.80,600.90L329.20,601.90L330.80,602.90Z" fill="#3b49a6" stroke="#3b49a6" stroke-width="0.3"/>
<path d="M349.80,600.90L348.20,601.90L349.80,602.90Z" fill="#3b49a6" stroke="#3b49a6" stroke-width="0.3"/>
<path d="M361.80,600.90L360.20,601.90L361.80,602.90Z" fill="#3b49a6" stroke="#3b49a6" stroke-width="0.3"/>
<path d="M385.80,600.90L384.20,601.90L385.80,602.90Z" fill="#3b49a6" stroke="#3b49a6" stroke-width="0.3"/>
<path d="M397.80,600.90L396.20,601.90L397.80,602.90Z" fill="#3b49a6" stroke="#3b49a6" stroke-width="0.3"/>
<path d="M409.80,600.90L408.20,601.90L409.80,602.90Z" fill="#3b49a6" stroke="#3b49a6" stroke-width="0.3"/>
<path d="M421.80,600.90L420.20,601.90L421.80,602.90Z" fill="#3b49a6" stroke="#3b49a6" stroke-width="0.3"/>
<path d="M433.80,600.90L432.20,601.90L433.80,602.90Z" fill="#3b49a6" stroke="#3b49a6" stroke-width="0.3"/>
<path d="M445.80,600.90L444.20,601.90L445.80,602.90Z" fill="#3b49a6" stroke="#3b49a6" stroke-width="0.3"/>
<path d="M457.80,600.90L456.20,601.90L457.80,602.90Z" fill="#3b49a6" stroke="#3b49a6" stroke-width="0.3"/>
<text x="397.90" y="535.40" font-size="7.2" fill="#2a5f98" stroke="#2a5f98" stroke-width="0.14" textLength="75.10" lengthAdjust="spacingAndGlyphs" >Early Baso H3K27me3</text>
<text x="397.90" y="551.70" font-size="7.2" fill="#2a5f98" stroke="#2a5f98" stroke-width="0.14" textLength="75.10" lengthAdjust="spacingAndGlyphs" >Early Baso H3K36me3</text>
<text x="413.30" y="569.20" font-size="7.2" fill="#cc2338" stroke="#cc2338" stroke-width="0.14" textLength="59.70" lengthAdjust="spacingAndGlyphs" >Ortho H3K27me3</text>
<text x="413.30" y="587.00" font-size="7.2" fill="#cc2338" stroke="#cc2338" stroke-width="0.14" textLength="59.70" lengthAdjust="spacingAndGlyphs" >Ortho H3K36me3</text>
<line x1="251.00" y1="612.50" x2="263.30" y2="612.50" stroke="#2a6ea0" stroke-width="1" />
<text x="249.80" y="621.20" font-size="7.8" fill="#231f20" stroke="#231f20" stroke-width="0.28" textLength="15.30" lengthAdjust="spacingAndGlyphs" >5 kb</text>
<text x="239.80" y="629.60" font-size="7.6" fill="#1e1e1e" stroke="#1e1e1e" stroke-width="0.28" textLength="6.00" lengthAdjust="spacingAndGlyphs" >3’</text>
<text x="469.20" y="630.00" font-size="7.6" fill="#1e1e1e" stroke="#1e1e1e" stroke-width="0.28" textLength="6.20" lengthAdjust="spacingAndGlyphs" >5’</text>
<text x="330.80" y="621.50" font-size="6.6" fill="#231f20" stroke="#231f20" stroke-width="0.14" textLength="20.00" lengthAdjust="spacingAndGlyphs" >ANK1</text>
<rect x="373.60" y="611.00" width="2.00" height="10.00" fill="#c2001f" />
<path d="M372.65,612.0 L374.60,608.8 L376.55,612.0 Z" fill="#c2001f"/>
<rect x="463.60" y="611.00" width="2.00" height="10.00" fill="#1d4f86" />
<path d="M462.65,612.0 L464.60,608.8 L466.55,612.0 Z" fill="#1d4f86"/>
<line x1="7.50" y1="346.50" x2="232.30" y2="346.50" stroke="#262626" stroke-width="1.25" />
<line x1="7.50" y1="356.20" x2="232.30" y2="356.20" stroke="#262626" stroke-width="1.25" />
<line x1="7.50" y1="365.80" x2="232.30" y2="365.80" stroke="#262626" stroke-width="1.25" />
<line x1="7.50" y1="382.80" x2="232.30" y2="382.80" stroke="#262626" stroke-width="1.25" />
<line x1="7.50" y1="400.80" x2="232.30" y2="400.80" stroke="#262626" stroke-width="1.25" />
<line x1="7.50" y1="420.20" x2="232.30" y2="420.20" stroke="#262626" stroke-width="1.25" />
<line x1="7.50" y1="429.30" x2="232.30" y2="429.30" stroke="#262626" stroke-width="1.25" />
<line x1="7.50" y1="438.30" x2="232.30" y2="438.30" stroke="#262626" stroke-width="1.25" />
<line x1="7.50" y1="446.70" x2="232.30" y2="446.70" stroke="#262626" stroke-width="1.25" />
<line x1="7.50" y1="465.50" x2="232.30" y2="465.50" stroke="#262626" stroke-width="1.25" />
<line x1="90.00" y1="331.00" x2="90.00" y2="474.30" stroke="#262626" stroke-width="1.25" />
<line x1="165.30" y1="331.00" x2="165.30" y2="474.30" stroke="#262626" stroke-width="1.25" />
<rect x="7.50" y="331.00" width="224.80" height="143.30" fill="none" stroke="#262626" stroke-width="1.35"/>
<text x="19.70" y="341.60" font-size="8.6" fill="#231f20" textLength="58.10" lengthAdjust="spacingAndGlyphs" >Ontology Term</text>
<text x="108.95" y="341.60" font-size="8.6" fill="#231f20" textLength="37.40" lengthAdjust="spacingAndGlyphs" >Database</text>
<text x="167.05" y="341.60" font-size="8.6" fill="#231f20" textLength="63.50" lengthAdjust="spacingAndGlyphs" >adjusted p-value</text>
<text x="21.75" y="353.85" font-size="6.4" fill="#2b2b2b" textLength="54.00" lengthAdjust="spacingAndGlyphs" >tRNA modification</text>
<text x="91.95" y="353.85" font-size="6.4" fill="#2b2b2b" textLength="71.40" lengthAdjust="spacingAndGlyphs" >GO Biological Processes</text>
<text x="186.15" y="353.85" font-size="6.4" fill="#2b2b2b" textLength="25.30" lengthAdjust="spacingAndGlyphs" >8.92E-05</text>
<text x="9.75" y="363.50" font-size="6.4" fill="#2b2b2b" textLength="78.00" lengthAdjust="spacingAndGlyphs" >mitochondrial translational</text>
<text x="91.95" y="363.50" font-size="6.4" fill="#2b2b2b" textLength="71.40" lengthAdjust="spacingAndGlyphs" >GO Biological Processes</text>
<text x="186.15" y="363.50" font-size="6.4" fill="#2b2b2b" textLength="25.30" lengthAdjust="spacingAndGlyphs" >6.45E-05</text>
<text x="20.55" y="373.15" font-size="6.4" fill="#2b2b2b" textLength="56.40" lengthAdjust="spacingAndGlyphs" >mitochondrial RNA</text>
<text x="21.90" y="380.45" font-size="6.4" fill="#2b2b2b" textLength="53.70" lengthAdjust="spacingAndGlyphs" >metabolic process</text>
<text x="91.95" y="376.80" font-size="6.4" fill="#2b2b2b" textLength="71.40" lengthAdjust="spacingAndGlyphs" >GO Biological Processes</text>
<text x="186.15" y="376.80" font-size="6.4" fill="#2b2b2b" textLength="25.30" lengthAdjust="spacingAndGlyphs" >3.14E-04</text>
<text x="9.75" y="390.65" font-size="6.4" fill="#2b2b2b" textLength="78.00" lengthAdjust="spacingAndGlyphs" >mitochondrial translational</text>
<text x="31.95" y="397.95" font-size="6.4" fill="#2b2b2b" textLength="33.60" lengthAdjust="spacingAndGlyphs" >termination</text>
<text x="91.95" y="394.30" font-size="6.4" fill="#2b2b2b" textLength="71.40" lengthAdjust="spacingAndGlyphs" >GO Biological Processes</text>
<text x="186.15" y="394.30" font-size="6.4" fill="#2b2b2b" textLength="25.30" lengthAdjust="spacingAndGlyphs" >5.54E-04</text>
<text x="9.75" y="409.35" font-size="6.4" fill="#2b2b2b" textLength="78.00" lengthAdjust="spacingAndGlyphs" >mitochondrial translational</text>
<text x="32.75" y="416.65" font-size="6.4" fill="#2b2b2b" textLength="32.00" lengthAdjust="spacingAndGlyphs" >elongation</text>
<text x="91.95" y="413.00" font-size="6.4" fill="#2b2b2b" textLength="71.40" lengthAdjust="spacingAndGlyphs" >GO Biological Processes</text>
<text x="186.15" y="413.00" font-size="6.4" fill="#2b2b2b" textLength="25.30" lengthAdjust="spacingAndGlyphs" >6.91E-04</text>
<text x="12.60" y="427.25" font-size="6.4" fill="#2b2b2b" textLength="72.30" lengthAdjust="spacingAndGlyphs" >Maturation of SSU-rRNA</text>
<text x="91.95" y="427.25" font-size="6.4" fill="#2b2b2b" textLength="71.40" lengthAdjust="spacingAndGlyphs" >GO Biological Processes</text>
<text x="186.15" y="427.25" font-size="6.4" fill="#2b2b2b" textLength="25.30" lengthAdjust="spacingAndGlyphs" >1.79E-03</text>
<text x="18.75" y="436.30" font-size="6.4" fill="#2b2b2b" textLength="60.00" lengthAdjust="spacingAndGlyphs" >ribosome biogenesis</text>
<text x="91.95" y="436.30" font-size="6.4" fill="#2b2b2b" textLength="71.40" lengthAdjust="spacingAndGlyphs" >GO Biological Processes</text>
<text x="186.15" y="436.30" font-size="6.4" fill="#2b2b2b" textLength="25.30" lengthAdjust="spacingAndGlyphs" >1.95E-03</text>
<text x="13.20" y="445.00" font-size="6.4" fill="#2b2b2b" textLength="71.10" lengthAdjust="spacingAndGlyphs" >translational termination</text>
<text x="91.95" y="445.00" font-size="6.4" fill="#2b2b2b" textLength="71.40" lengthAdjust="spacingAndGlyphs" >GO Biological Processes</text>
<text x="186.15" y="445.00" font-size="6.4" fill="#2b2b2b" textLength="25.30" lengthAdjust="spacingAndGlyphs" >2.65E-03</text>
<text x="22.55" y="454.95" font-size="6.4" fill="#2b2b2b" textLength="52.40" lengthAdjust="spacingAndGlyphs" >transcription from</text>
<text x="13.75" y="462.25" font-size="6.4" fill="#2b2b2b" textLength="70.00" lengthAdjust="spacingAndGlyphs" >mitochondrial promoter</text>
<text x="91.95" y="458.60" font-size="6.4" fill="#2b2b2b" textLength="71.40" lengthAdjust="spacingAndGlyphs" >GO Biological Processes</text>
<text x="186.15" y="458.60" font-size="6.4" fill="#2b2b2b" textLength="25.30" lengthAdjust="spacingAndGlyphs" >2.62E-03</text>
<text x="14.65" y="472.40" font-size="6.4" fill="#2b2b2b" textLength="68.20" lengthAdjust="spacingAndGlyphs" >translational elongation</text>
<text x="91.95" y="472.40" font-size="6.4" fill="#2b2b2b" textLength="71.40" lengthAdjust="spacingAndGlyphs" >GO Biological Processes</text>
<text x="186.15" y="472.40" font-size="6.4" fill="#2b2b2b" textLength="25.30" lengthAdjust="spacingAndGlyphs" >3.83E-03</text>
<text x="61.25" y="325.75" font-size="9.4" fill="#231f20" stroke="#231f20" stroke-width="0.14" textLength="47.00" lengthAdjust="spacingAndGlyphs" >GO Terms:</text>
<text x="111.25" y="325.75" font-size="9.4" fill="#2a64a0" stroke="#2a64a0" stroke-width="0.14" textLength="69.25" lengthAdjust="spacingAndGlyphs" >Loss H3K36me3</text>
<line x1="246.70" y1="345.80" x2="512.30" y2="345.80" stroke="#262626" stroke-width="1.25" />
<line x1="246.70" y1="373.30" x2="512.30" y2="373.30" stroke="#262626" stroke-width="1.25" />
<line x1="246.70" y1="393.00" x2="512.30" y2="393.00" stroke="#262626" stroke-width="1.25" />
<line x1="246.70" y1="405.30" x2="512.30" y2="405.30" stroke="#262626" stroke-width="1.25" />
<line x1="246.70" y1="416.80" x2="512.30" y2="416.80" stroke="#262626" stroke-width="1.25" />
<line x1="246.70" y1="437.60" x2="512.30" y2="437.60" stroke="#262626" stroke-width="1.25" />
<line x1="246.70" y1="449.60" x2="512.30" y2="449.60" stroke="#262626" stroke-width="1.25" />
<line x1="246.70" y1="461.60" x2="512.30" y2="461.60" stroke="#262626" stroke-width="1.25" />
<line x1="246.70" y1="473.10" x2="512.30" y2="473.10" stroke="#262626" stroke-width="1.25" />
<line x1="367.20" y1="331.50" x2="367.20" y2="484.60" stroke="#262626" stroke-width="1.25" />
<line x1="442.70" y1="331.50" x2="442.70" y2="484.60" stroke="#262626" stroke-width="1.25" />
<rect x="246.70" y="331.50" width="265.60" height="153.10" fill="none" stroke="#262626" stroke-width="1.35"/>
<text x="281.20" y="340.00" font-size="8.6" fill="#231f20" textLength="58.30" lengthAdjust="spacingAndGlyphs" >Ontology Term</text>
<text x="388.80" y="340.00" font-size="8.6" fill="#231f20" textLength="37.00" lengthAdjust="spacingAndGlyphs" >Database</text>
<text x="444.30" y="340.00" font-size="8.6" fill="#231f20" textLength="65.60" lengthAdjust="spacingAndGlyphs" >adjusted p-value</text>
<text x="251.45" y="354.35" font-size="6.4" fill="#2b2b2b" textLength="111.00" lengthAdjust="spacingAndGlyphs" >transcriptional repressor activity, RNA</text>
<text x="251.85" y="362.05" font-size="6.4" fill="#2b2b2b" textLength="110.20" lengthAdjust="spacingAndGlyphs" >polymerase II transcription regulatory</text>
<text x="260.05" y="369.75" font-size="6.4" fill="#2b2b2b" textLength="93.80" lengthAdjust="spacingAndGlyphs" >region sequence-specific binding</text>
<text x="371.05" y="362.05" font-size="6.4" fill="#2b2b2b" textLength="67.80" lengthAdjust="spacingAndGlyphs" >GO Molecular Function</text>
<text x="464.65" y="362.05" font-size="6.4" fill="#2b2b2b" textLength="25.70" lengthAdjust="spacingAndGlyphs" >4.98E-02</text>
<text x="253.55" y="381.80" font-size="6.4" fill="#2b2b2b" textLength="106.80" lengthAdjust="spacingAndGlyphs" >RANKL/RANK (Receptor activator of</text>
<text x="258.30" y="389.50" font-size="6.4" fill="#2b2b2b" textLength="97.30" lengthAdjust="spacingAndGlyphs" >NFKB (ligand)) Signaling Pathway</text>
<text x="377.15" y="385.65" font-size="6.4" fill="#2b2b2b" textLength="55.60" lengthAdjust="spacingAndGlyphs" >WikiPathways 2019</text>
<text x="464.65" y="385.65" font-size="6.4" fill="#2b2b2b" textLength="25.70" lengthAdjust="spacingAndGlyphs" >2.78E-03</text>
<text x="274.15" y="401.65" font-size="6.4" fill="#2b2b2b" textLength="65.60" lengthAdjust="spacingAndGlyphs" >IL-1 signaling Pathway</text>
<text x="377.15" y="401.65" font-size="6.4" fill="#2b2b2b" textLength="55.60" lengthAdjust="spacingAndGlyphs" >WikiPathways 2020</text>
<text x="464.65" y="401.65" font-size="6.4" fill="#2b2b2b" textLength="25.70" lengthAdjust="spacingAndGlyphs" >4.23E-02</text>
<text x="269.40" y="413.55" font-size="6.4" fill="#2b2b2b" textLength="75.10" lengthAdjust="spacingAndGlyphs" >RANKL signaling Pathway</text>
<text x="382.45" y="413.55" font-size="6.4" fill="#2b2b2b" textLength="45.00" lengthAdjust="spacingAndGlyphs" >BioPlanet 2019</text>
<text x="464.65" y="413.55" font-size="6.4" fill="#2b2b2b" textLength="25.70" lengthAdjust="spacingAndGlyphs" >7.24E-03</text>
<text x="252.65" y="425.85" font-size="6.4" fill="#2b2b2b" textLength="108.60" lengthAdjust="spacingAndGlyphs" >Interleukin-2 receptor beta chain in T</text>
<text x="286.90" y="433.55" font-size="6.4" fill="#2b2b2b" textLength="40.10" lengthAdjust="spacingAndGlyphs" >cell activation</text>
<text x="382.45" y="429.70" font-size="6.4" fill="#2b2b2b" textLength="45.00" lengthAdjust="spacingAndGlyphs" >BioPlanet 2020</text>
<text x="464.65" y="429.70" font-size="6.4" fill="#2b2b2b" textLength="25.70" lengthAdjust="spacingAndGlyphs" >1.48E-02</text>
<text x="270.90" y="446.10" font-size="6.4" fill="#2b2b2b" textLength="72.10" lengthAdjust="spacingAndGlyphs" >signalling by interleukins</text>
<text x="382.45" y="446.10" font-size="6.4" fill="#2b2b2b" textLength="45.00" lengthAdjust="spacingAndGlyphs" >BioPlanet 2021</text>
<text x="464.65" y="446.10" font-size="6.4" fill="#2b2b2b" textLength="25.70" lengthAdjust="spacingAndGlyphs" >1.91E-02</text>
<text x="269.70" y="458.10" font-size="6.4" fill="#2b2b2b" textLength="74.50" lengthAdjust="spacingAndGlyphs" >chronic myeloid leukemia</text>
<text x="382.45" y="458.10" font-size="6.4" fill="#2b2b2b" textLength="45.00" lengthAdjust="spacingAndGlyphs" >BioPlanet 2022</text>
<text x="464.65" y="458.10" font-size="6.4" fill="#2b2b2b" textLength="25.70" lengthAdjust="spacingAndGlyphs" >4.35E-02</text>
<text x="269.70" y="469.85" font-size="6.4" fill="#2b2b2b" textLength="74.50" lengthAdjust="spacingAndGlyphs" >chronic myeloid leukemia</text>
<text x="377.45" y="469.85" font-size="6.4" fill="#2b2b2b" textLength="55.00" lengthAdjust="spacingAndGlyphs" >KEGG 2019 Human</text>
<text x="464.65" y="469.85" font-size="6.4" fill="#2b2b2b" textLength="25.70" lengthAdjust="spacingAndGlyphs" >2.64E-02</text>
<text x="278.65" y="481.35" font-size="6.4" fill="#2b2b2b" textLength="56.60" lengthAdjust="spacingAndGlyphs" >cellular senescence</text>
<text x="377.45" y="481.35" font-size="6.4" fill="#2b2b2b" textLength="55.00" lengthAdjust="spacingAndGlyphs" >KEGG 2019 Human</text>
<text x="464.65" y="481.35" font-size="6.4" fill="#2b2b2b" textLength="25.70" lengthAdjust="spacingAndGlyphs" >4.46E-02</text>
<text x="323.75" y="325.75" font-size="9.4" fill="#231f20" stroke="#231f20" stroke-width="0.14" textLength="47.00" lengthAdjust="spacingAndGlyphs" >GO Terms:</text>
<text x="373.00" y="325.75" font-size="9.4" fill="#d0243a" stroke="#d0243a" stroke-width="0.14" textLength="70.75" lengthAdjust="spacingAndGlyphs" >Gain H3K27me3</text>
<rect x="41.30" y="502.70" width="12.91" height="3.56" fill="#eaf7e5" />
<rect x="54.15" y="502.70" width="12.91" height="3.56" fill="#eaf7e5" />
<rect x="67.00" y="502.70" width="12.91" height="3.56" fill="#eef8de" />
<rect x="79.85" y="502.70" width="12.91" height="3.56" fill="#ecf8e2" />
<rect x="92.70" y="502.70" width="12.91" height="3.56" fill="#fff8b5" />
<rect x="105.55" y="502.70" width="12.91" height="3.56" fill="#f7fccd" />
<rect x="118.40" y="502.70" width="12.91" height="3.56" fill="#e34933" />
<rect x="131.25" y="502.70" width="12.91" height="3.56" fill="#fdbc6e" />
<rect x="41.30" y="506.20" width="12.91" height="2.56" fill="#e6f5ee" />
<rect x="54.15" y="506.20" width="12.91" height="2.56" fill="#e7f6eb" />
<rect x="67.00" y="506.20" width="12.91" height="2.56" fill="#e9f7e7" />
<rect x="79.85" y="506.20" width="12.91" height="2.56" fill="#eef8de" />
<rect x="92.70" y="506.20" width="12.91" height="2.56" fill="#fffab7" />
<rect x="105.55" y="506.20" width="12.91" height="2.56" fill="#f6fccf" />
<rect x="118.40" y="506.20" width="12.91" height="2.56" fill="#e0422f" />
<rect x="131.25" y="506.20" width="12.91" height="2.56" fill="#fca65d" />
<rect x="41.30" y="508.70" width="12.91" height="2.56" fill="#e9f6e8" />
<rect x="54.15" y="508.70" width="12.91" height="2.56" fill="#eaf7e5" />
<rect x="67.00" y="508.70" width="12.91" height="2.56" fill="#e9f7e7" />
<rect x="79.85" y="508.70" width="12.91" height="2.56" fill="#e9f6e8" />
<rect x="92.70" y="508.70" width="12.91" height="2.56" fill="#fff8b5" />
<rect x="105.55" y="508.70" width="12.91" height="2.56" fill="#fbfec6" />
<rect x="118.40" y="508.70" width="12.91" height="2.56" fill="#e34a33" />
<rect x="131.25" y="508.70" width="12.91" height="2.56" fill="#fdc274" />
<rect x="41.30" y="511.20" width="12.91" height="2.56" fill="#e8f6e9" />
<rect x="54.15" y="511.20" width="12.91" height="2.56" fill="#e9f6e8" />
<rect x="67.00" y="511.20" width="12.91" height="2.56" fill="#ecf8e2" />
<rect x="79.85" y="511.20" width="12.91" height="2.56" fill="#edf8e0" />
<rect x="92.70" y="511.20" width="12.91" height="2.56" fill="#fffbba" />
<rect x="105.55" y="511.20" width="12.91" height="2.56" fill="#f8fccb" />
<rect x="118.40" y="511.20" width="12.91" height="2.56" fill="#df422f" />
<rect x="131.25" y="511.20" width="12.91" height="2.56" fill="#fca55d" />
<rect x="41.30" y="513.70" width="12.91" height="2.06" fill="#e9f7e7" />
<rect x="54.15" y="513.70" width="12.91" height="2.06" fill="#e7f6eb" />
<rect x="67.00" y="513.70" width="12.91" height="2.06" fill="#eaf7e5" />
<rect x="79.85" y="513.70" width="12.91" height="2.06" fill="#ebf7e4" />
<rect x="92.70" y="513.70" width="12.91" height="2.06" fill="#fffebe" />
<rect x="105.55" y="513.70" width="12.91" height="2.06" fill="#fdfec3" />
<rect x="118.40" y="513.70" width="12.91" height="2.06" fill="#ea593a" />
<rect x="131.25" y="513.70" width="12.91" height="2.06" fill="#fdac60" />
<rect x="41.30" y="515.70" width="12.91" height="3.56" fill="#e5f5ee" />
<rect x="54.15" y="515.70" width="12.91" height="3.56" fill="#e5f5ef" />
<rect x="67.00" y="515.70" width="12.91" height="3.56" fill="#edf8df" />
<rect x="79.85" y="515.70" width="12.91" height="3.56" fill="#eaf7e5" />
<rect x="92.70" y="515.70" width="12.91" height="3.56" fill="#fff8b4" />
<rect x="105.55" y="515.70" width="12.91" height="3.56" fill="#f6fccf" />
<rect x="118.40" y="515.70" width="12.91" height="3.56" fill="#eb5a3a" />
<rect x="131.25" y="515.70" width="12.91" height="3.56" fill="#fdb265" />
<rect x="41.30" y="519.20" width="12.91" height="3.56" fill="#e5f5ee" />
<rect x="54.15" y="519.20" width="12.91" height="3.56" fill="#e9f6e8" />
<rect x="67.00" y="519.20" width="12.91" height="3.56" fill="#eef8de" />
<rect x="79.85" y="519.20" width="12.91" height="3.56" fill="#ebf7e5" />
<rect x="92.70" y="519.20" width="12.91" height="3.56" fill="#fffebe" />
<rect x="105.55" y="519.20" width="12.91" height="3.56" fill="#f9fdca" />
<rect x="118.40" y="519.20" width="12.91" height="3.56" fill="#e04330" />
<rect x="131.25" y="519.20" width="12.91" height="3.56" fill="#fdb063" />
<rect x="41.30" y="522.70" width="12.91" height="2.06" fill="#e6f5ed" />
<rect x="54.15" y="522.70" width="12.91" height="2.06" fill="#e9f7e7" />
<rect x="67.00" y="522.70" width="12.91" height="2.06" fill="#e9f6e8" />
<rect x="79.85" y="522.70" width="12.91" height="2.06" fill="#ecf8e2" />
<rect x="92.70" y="522.70" width="12.91" height="2.06" fill="#fffbb9" />
<rect x="105.55" y="522.70" width="12.91" height="2.06" fill="#fcfec4" />
<rect x="118.40" y="522.70" width="12.91" height="2.06" fill="#ee613e" />
<rect x="131.25" y="522.70" width="12.91" height="2.06" fill="#fdba6c" />
<rect x="41.30" y="524.70" width="12.91" height="1.36" fill="#e8f6ea" />
<rect x="54.15" y="524.70" width="12.91" height="1.36" fill="#e7f6eb" />
<rect x="67.00" y="524.70" width="12.91" height="1.36" fill="#ebf7e3" />
<rect x="79.85" y="524.70" width="12.91" height="1.36" fill="#eff9dc" />
<rect x="92.70" y="524.70" width="12.91" height="1.36" fill="#ffffbf" />
<rect x="105.55" y="524.70" width="12.91" height="1.36" fill="#feffc1" />
<rect x="118.40" y="524.70" width="12.91" height="1.36" fill="#e0422f" />
<rect x="131.25" y="524.70" width="12.91" height="1.36" fill="#fdb769" />
<rect x="41.30" y="526.00" width="12.91" height="2.06" fill="#e2f4f5" />
<rect x="54.15" y="526.00" width="12.91" height="2.06" fill="#e3f4f3" />
<rect x="67.00" y="526.00" width="12.91" height="2.06" fill="#e6f5ec" />
<rect x="79.85" y="526.00" width="12.91" height="2.06" fill="#e5f5ef" />
<rect x="92.70" y="526.00" width="12.91" height="2.06" fill="#fffebd" />
<rect x="105.55" y="526.00" width="12.91" height="2.06" fill="#ffffbf" />
<rect x="118.40" y="526.00" width="12.91" height="2.06" fill="#fed484" />
<rect x="131.25" y="526.00" width="12.91" height="2.06" fill="#f36a42" />
<rect x="41.30" y="528.00" width="12.91" height="3.06" fill="#e6f5ed" />
<rect x="54.15" y="528.00" width="12.91" height="3.06" fill="#e3f4f3" />
<rect x="67.00" y="528.00" width="12.91" height="3.06" fill="#e1f3f7" />
<rect x="79.85" y="528.00" width="12.91" height="3.06" fill="#e2f4f5" />
<rect x="92.70" y="528.00" width="12.91" height="3.06" fill="#fff8b5" />
<rect x="105.55" y="528.00" width="12.91" height="3.06" fill="#f6fbd0" />
<rect x="118.40" y="528.00" width="12.91" height="3.06" fill="#feca7c" />
<rect x="131.25" y="528.00" width="12.91" height="3.06" fill="#eb5b3b" />
<rect x="41.30" y="531.00" width="12.91" height="2.56" fill="#e7f6eb" />
<rect x="54.15" y="531.00" width="12.91" height="2.56" fill="#e4f4f1" />
<rect x="67.00" y="531.00" width="12.91" height="2.56" fill="#e4f5f0" />
<rect x="79.85" y="531.00" width="12.91" height="2.56" fill="#e6f5ec" />
<rect x="92.70" y="531.00" width="12.91" height="2.56" fill="#fffdbc" />
<rect x="105.55" y="531.00" width="12.91" height="2.56" fill="#f7fccd" />
<rect x="118.40" y="531.00" width="12.91" height="2.56" fill="#fdab5f" />
<rect x="131.25" y="531.00" width="12.91" height="2.56" fill="#e75237" />
<rect x="41.30" y="533.50" width="12.91" height="2.56" fill="#e5f5ee" />
<rect x="54.15" y="533.50" width="12.91" height="2.56" fill="#e1f3f6" />
<rect x="67.00" y="533.50" width="12.91" height="2.56" fill="#e5f5ef" />
<rect x="79.85" y="533.50" width="12.91" height="2.56" fill="#e4f5f0" />
<rect x="92.70" y="533.50" width="12.91" height="2.56" fill="#fff8b4" />
<rect x="105.55" y="533.50" width="12.91" height="2.56" fill="#f9fdc9" />
<rect x="118.40" y="533.50" width="12.91" height="2.56" fill="#fdc476" />
<rect x="131.25" y="533.50" width="12.91" height="2.56" fill="#f57346" />
<rect x="41.30" y="536.00" width="12.91" height="2.06" fill="#e1f3f7" />
<rect x="54.15" y="536.00" width="12.91" height="2.06" fill="#e0f3f7" />
<rect x="67.00" y="536.00" width="12.91" height="2.06" fill="#e7f6eb" />
<rect x="79.85" y="536.00" width="12.91" height="2.06" fill="#e2f4f5" />
<rect x="92.70" y="536.00" width="12.91" height="2.06" fill="#fff8b4" />
<rect x="105.55" y="536.00" width="12.91" height="2.06" fill="#f8fccc" />
<rect x="118.40" y="536.00" width="12.91" height="2.06" fill="#fdb063" />
<rect x="131.25" y="536.00" width="12.91" height="2.06" fill="#ec5c3b" />
<rect x="41.30" y="538.00" width="12.91" height="3.06" fill="#e4f4f1" />
<rect x="54.15" y="538.00" width="12.91" height="3.06" fill="#e7f6eb" />
<rect x="67.00" y="538.00" width="12.91" height="3.06" fill="#e7f6eb" />
<rect x="79.85" y="538.00" width="12.91" height="3.06" fill="#e1f3f6" />
<rect x="92.70" y="538.00" width="12.91" height="3.06" fill="#fffab7" />
<rect x="105.55" y="538.00" width="12.91" height="3.06" fill="#fcfec5" />
<rect x="118.40" y="538.00" width="12.91" height="3.06" fill="#fdbc6e" />
<rect x="131.25" y="538.00" width="12.91" height="3.06" fill="#f57346" />
<rect x="41.30" y="541.00" width="12.91" height="2.56" fill="#e7f6eb" />
<rect x="54.15" y="541.00" width="12.91" height="2.56" fill="#e2f4f5" />
<rect x="67.00" y="541.00" width="12.91" height="2.56" fill="#e0f3f8" />
<rect x="79.85" y="541.00" width="12.91" height="2.56" fill="#e2f4f4" />
<rect x="92.70" y="541.00" width="12.91" height="2.56" fill="#fff4af" />
<rect x="105.55" y="541.00" width="12.91" height="2.56" fill="#f6fccf" />
<rect x="118.40" y="541.00" width="12.91" height="2.56" fill="#fdb86b" />
<rect x="131.25" y="541.00" width="12.91" height="2.56" fill="#f7804c" />
<rect x="41.30" y="543.50" width="12.91" height="2.56" fill="#e1f3f7" />
<rect x="54.15" y="543.50" width="12.91" height="2.56" fill="#e1f3f6" />
<rect x="67.00" y="543.50" width="12.91" height="2.56" fill="#e3f4f2" />
<rect x="79.85" y="543.50" width="12.91" height="2.56" fill="#e2f4f3" />
<rect x="92.70" y="543.50" width="12.91" height="2.56" fill="#feefa7" />
<rect x="105.55" y="543.50" width="12.91" height="2.56" fill="#fcfec4" />
<rect x="118.40" y="543.50" width="12.91" height="2.56" fill="#f57245" />
<rect x="131.25" y="543.50" width="12.91" height="2.56" fill="#f47044" />
<rect x="41.30" y="546.00" width="12.91" height="2.06" fill="#e4f4f2" />
<rect x="54.15" y="546.00" width="12.91" height="2.06" fill="#e3f4f3" />
<rect x="67.00" y="546.00" width="12.91" height="2.06" fill="#e2f4f4" />
<rect x="79.85" y="546.00" width="12.91" height="2.06" fill="#e0f3f8" />
<rect x="92.70" y="546.00" width="12.91" height="2.06" fill="#fff2ab" />
<rect x="105.55" y="546.00" width="12.91" height="2.06" fill="#f7fcce" />
<rect x="118.40" y="546.00" width="12.91" height="2.06" fill="#fdc173" />
<rect x="131.25" y="546.00" width="12.91" height="2.06" fill="#f7844e" />
<rect x="41.30" y="548.00" width="12.91" height="2.56" fill="#e7f6ea" />
<rect x="54.15" y="548.00" width="12.91" height="2.56" fill="#e1f3f7" />
<rect x="67.00" y="548.00" width="12.91" height="2.56" fill="#e4f5f1" />
<rect x="79.85" y="548.00" width="12.91" height="2.56" fill="#e5f5ee" />
<rect x="92.70" y="548.00" width="12.91" height="2.56" fill="#feeca2" />
<rect x="105.55" y="548.00" width="12.91" height="2.56" fill="#ffffbf" />
<rect x="118.40" y="548.00" width="12.91" height="2.56" fill="#f88950" />
<rect x="131.25" y="548.00" width="12.91" height="2.56" fill="#ee613e" />
<rect x="41.30" y="550.50" width="12.91" height="3.06" fill="#e3f4f3" />
<rect x="54.15" y="550.50" width="12.91" height="3.06" fill="#e5f5ef" />
<rect x="67.00" y="550.50" width="12.91" height="3.06" fill="#e7f6ec" />
<rect x="79.85" y="550.50" width="12.91" height="3.06" fill="#e6f6ec" />
<rect x="92.70" y="550.50" width="12.91" height="3.06" fill="#fff5b0" />
<rect x="105.55" y="550.50" width="12.91" height="3.06" fill="#ffffbe" />
<rect x="118.40" y="550.50" width="12.91" height="3.06" fill="#f67a49" />
<rect x="131.25" y="550.50" width="12.91" height="3.06" fill="#f57145" />
<rect x="41.30" y="553.50" width="12.91" height="3.56" fill="#e3f4f3" />
<rect x="54.15" y="553.50" width="12.91" height="3.56" fill="#e0f3f8" />
<rect x="67.00" y="553.50" width="12.91" height="3.56" fill="#e1f3f7" />
<rect x="79.85" y="553.50" width="12.91" height="3.56" fill="#e1f3f7" />
<rect x="92.70" y="553.50" width="12.91" height="3.56" fill="#fffab8" />
<rect x="105.55" y="553.50" width="12.91" height="3.56" fill="#f9fdca" />
<rect x="118.40" y="553.50" width="12.91" height="3.56" fill="#fca35c" />
<rect x="131.25" y="553.50" width="12.91" height="3.56" fill="#f7834d" />
<rect x="41.30" y="557.00" width="12.91" height="3.56" fill="#e3f4f2" />
<rect x="54.15" y="557.00" width="12.91" height="3.56" fill="#e6f5ed" />
<rect x="67.00" y="557.00" width="12.91" height="3.56" fill="#e1f3f7" />
<rect x="79.85" y="557.00" width="12.91" height="3.56" fill="#e6f5ee" />
<rect x="92.70" y="557.00" width="12.91" height="3.56" fill="#fffcba" />
<rect x="105.55" y="557.00" width="12.91" height="3.56" fill="#fdfec2" />
<rect x="118.40" y="557.00" width="12.91" height="3.56" fill="#fb9d59" />
<rect x="131.25" y="557.00" width="12.91" height="3.56" fill="#f88a51" />
<rect x="41.30" y="560.50" width="12.91" height="2.06" fill="#e4f4f1" />
<rect x="54.15" y="560.50" width="12.91" height="2.06" fill="#e5f5f0" />
<rect x="67.00" y="560.50" width="12.91" height="2.06" fill="#e7f6eb" />
<rect x="79.85" y="560.50" width="12.91" height="2.06" fill="#e2f4f5" />
<rect x="92.70" y="560.50" width="12.91" height="2.06" fill="#fffcbb" />
<rect x="105.55" y="560.50" width="12.91" height="2.06" fill="#f9fdc9" />
<rect x="118.40" y="560.50" width="12.91" height="2.06" fill="#f88b51" />
<rect x="131.25" y="560.50" width="12.91" height="2.06" fill="#f88c51" />
<rect x="41.30" y="562.50" width="12.91" height="2.56" fill="#e6f5ee" />
<rect x="54.15" y="562.50" width="12.91" height="2.56" fill="#e3f4f3" />
<rect x="67.00" y="562.50" width="12.91" height="2.56" fill="#e7f6eb" />
<rect x="79.85" y="562.50" width="12.91" height="2.56" fill="#e4f4f1" />
<rect x="92.70" y="562.50" width="12.91" height="2.56" fill="#fff8b4" />
<rect x="105.55" y="562.50" width="12.91" height="2.56" fill="#fbfdc7" />
<rect x="118.40" y="562.50" width="12.91" height="2.56" fill="#fdb265" />
<rect x="131.25" y="562.50" width="12.91" height="2.56" fill="#f46c43" />
<rect x="41.30" y="565.00" width="12.91" height="2.56" fill="#e7f6ec" />
<rect x="54.15" y="565.00" width="12.91" height="2.56" fill="#e3f4f3" />
<rect x="67.00" y="565.00" width="12.91" height="2.56" fill="#e4f5f0" />
<rect x="79.85" y="565.00" width="12.91" height="2.56" fill="#e2f4f4" />
<rect x="92.70" y="565.00" width="12.91" height="2.56" fill="#fffab7" />
<rect x="105.55" y="565.00" width="12.91" height="2.56" fill="#fcfec5" />
<rect x="118.40" y="565.00" width="12.91" height="2.56" fill="#f67c4a" />
<rect x="131.25" y="565.00" width="12.91" height="2.56" fill="#ed5d3c" />
<rect x="41.30" y="567.50" width="12.91" height="2.06" fill="#e7f6eb" />
<rect x="54.15" y="567.50" width="12.91" height="2.06" fill="#e2f4f4" />
<rect x="67.00" y="567.50" width="12.91" height="2.06" fill="#e1f3f6" />
<rect x="79.85" y="567.50" width="12.91" height="2.06" fill="#e3f4f2" />
<rect x="92.70" y="567.50" width="12.91" height="2.06" fill="#fff7b4" />
<rect x="105.55" y="567.50" width="12.91" height="2.06" fill="#f8fccb" />
<rect x="118.40" y="567.50" width="12.91" height="2.06" fill="#fca35c" />
<rect x="131.25" y="567.50" width="12.91" height="2.06" fill="#f46d43" />
<rect x="41.30" y="569.50" width="12.91" height="3.56" fill="#e5f5ef" />
<rect x="54.15" y="569.50" width="12.91" height="3.56" fill="#e5f5ee" />
<rect x="67.00" y="569.50" width="12.91" height="3.56" fill="#e6f5ec" />
<rect x="79.85" y="569.50" width="12.91" height="3.56" fill="#e5f5ef" />
<rect x="92.70" y="569.50" width="12.91" height="3.56" fill="#fff7b2" />
<rect x="105.55" y="569.50" width="12.91" height="3.56" fill="#fffebe" />
<rect x="118.40" y="569.50" width="12.91" height="3.56" fill="#fdb063" />
<rect x="131.25" y="569.50" width="12.91" height="3.56" fill="#f46e44" />
<rect x="41.30" y="573.00" width="12.91" height="3.06" fill="#e4f5f0" />
<rect x="54.15" y="573.00" width="12.91" height="3.06" fill="#e2f4f4" />
<rect x="67.00" y="573.00" width="12.91" height="3.06" fill="#e6f5ed" />
<rect x="79.85" y="573.00" width="12.91" height="3.06" fill="#e0f3f8" />
<rect x="92.70" y="573.00" width="12.91" height="3.06" fill="#fffab7" />
<rect x="105.55" y="573.00" width="12.91" height="3.06" fill="#fbfec6" />
<rect x="118.40" y="573.00" width="12.91" height="3.06" fill="#fdc577" />
<rect x="131.25" y="573.00" width="12.91" height="3.06" fill="#ed5f3c" />
<rect x="41.30" y="576.00" width="12.91" height="3.46" fill="#e6f5ed" />
<rect x="54.15" y="576.00" width="12.91" height="3.46" fill="#e6f5ed" />
<rect x="67.00" y="576.00" width="12.91" height="3.46" fill="#e7f6eb" />
<rect x="79.85" y="576.00" width="12.91" height="3.46" fill="#e1f3f6" />
<rect x="92.70" y="576.00" width="12.91" height="3.46" fill="#fffab8" />
<rect x="105.55" y="576.00" width="12.91" height="3.46" fill="#fcfec4" />
<rect x="118.40" y="576.00" width="12.91" height="3.46" fill="#f98e52" />
<rect x="131.25" y="576.00" width="12.91" height="3.46" fill="#f7804c" />
<rect x="41.30" y="579.40" width="12.91" height="2.46" fill="#fff1aa" />
<rect x="54.15" y="579.40" width="12.91" height="2.46" fill="#fff4ae" />
<rect x="67.00" y="579.40" width="12.91" height="2.46" fill="#f7804c" />
<rect x="79.85" y="579.40" width="12.91" height="2.46" fill="#f98f53" />
<rect x="92.70" y="579.40" width="12.91" height="2.46" fill="#e3f4f2" />
<rect x="105.55" y="579.40" width="12.91" height="2.46" fill="#e5f5f0" />
<rect x="118.40" y="579.40" width="12.91" height="2.46" fill="#fedc8d" />
<rect x="131.25" y="579.40" width="12.91" height="2.46" fill="#fee395" />
<rect x="41.30" y="581.80" width="12.91" height="3.06" fill="#e95638" />
<rect x="54.15" y="581.80" width="12.91" height="3.06" fill="#fdb96b" />
<rect x="67.00" y="581.80" width="12.91" height="3.06" fill="#feeea5" />
<rect x="79.85" y="581.80" width="12.91" height="3.06" fill="#fff9b5" />
<rect x="92.70" y="581.80" width="12.91" height="3.06" fill="#e0f3f8" />
<rect x="105.55" y="581.80" width="12.91" height="3.06" fill="#d3ecf4" />
<rect x="118.40" y="581.80" width="12.91" height="3.06" fill="#def2f7" />
<rect x="131.25" y="581.80" width="12.91" height="3.06" fill="#dbf1f7" />
<rect x="41.30" y="584.80" width="12.91" height="2.56" fill="#f67b49" />
<rect x="54.15" y="584.80" width="12.91" height="2.56" fill="#fca85e" />
<rect x="67.00" y="584.80" width="12.91" height="2.56" fill="#fff1a9" />
<rect x="79.85" y="584.80" width="12.91" height="2.56" fill="#fffdbc" />
<rect x="92.70" y="584.80" width="12.91" height="2.56" fill="#d7eff6" />
<rect x="105.55" y="584.80" width="12.91" height="2.56" fill="#daf0f6" />
<rect x="118.40" y="584.80" width="12.91" height="2.56" fill="#dff2f8" />
<rect x="131.25" y="584.80" width="12.91" height="2.56" fill="#d6eef5" />
<rect x="41.30" y="587.30" width="12.91" height="3.06" fill="#f16640" />
<rect x="54.15" y="587.30" width="12.91" height="3.06" fill="#fdb467" />
<rect x="67.00" y="587.30" width="12.91" height="3.06" fill="#fff7b3" />
<rect x="79.85" y="587.30" width="12.91" height="3.06" fill="#fff6b1" />
<rect x="92.70" y="587.30" width="12.91" height="3.06" fill="#ddf2f7" />
<rect x="105.55" y="587.30" width="12.91" height="3.06" fill="#daf0f6" />
<rect x="118.40" y="587.30" width="12.91" height="3.06" fill="#dcf1f7" />
<rect x="131.25" y="587.30" width="12.91" height="3.06" fill="#d3edf4" />
<rect x="41.30" y="590.30" width="12.91" height="3.56" fill="#e44b33" />
<rect x="54.15" y="590.30" width="12.91" height="3.56" fill="#fca65d" />
<rect x="67.00" y="590.30" width="12.91" height="3.56" fill="#fff3ad" />
<rect x="79.85" y="590.30" width="12.91" height="3.56" fill="#fff5b0" />
<rect x="92.70" y="590.30" width="12.91" height="3.56" fill="#d5eef5" />
<rect x="105.55" y="590.30" width="12.91" height="3.56" fill="#dff2f8" />
<rect x="118.40" y="590.30" width="12.91" height="3.56" fill="#def2f7" />
<rect x="131.25" y="590.30" width="12.91" height="3.56" fill="#d6eef5" />
<rect x="41.30" y="593.80" width="12.91" height="2.06" fill="#f67e4b" />
<rect x="54.15" y="593.80" width="12.91" height="2.06" fill="#fdc173" />
<rect x="67.00" y="593.80" width="12.91" height="2.06" fill="#fff4af" />
<rect x="79.85" y="593.80" width="12.91" height="2.06" fill="#fffbba" />
<rect x="92.70" y="593.80" width="12.91" height="2.06" fill="#dff2f8" />
<rect x="105.55" y="593.80" width="12.91" height="2.06" fill="#d4edf4" />
<rect x="118.40" y="593.80" width="12.91" height="2.06" fill="#def2f7" />
<rect x="131.25" y="593.80" width="12.91" height="2.06" fill="#d7eff5" />
<rect x="41.30" y="595.80" width="12.91" height="2.06" fill="#f57647" />
<rect x="54.15" y="595.80" width="12.91" height="2.06" fill="#fdc173" />
<rect x="67.00" y="595.80" width="12.91" height="2.06" fill="#fff0a8" />
<rect x="79.85" y="595.80" width="12.91" height="2.06" fill="#fffdbc" />
<rect x="92.70" y="595.80" width="12.91" height="2.06" fill="#d2ecf4" />
<rect x="105.55" y="595.80" width="12.91" height="2.06" fill="#d8eff6" />
<rect x="118.40" y="595.80" width="12.91" height="2.06" fill="#dcf1f7" />
<rect x="131.25" y="595.80" width="12.91" height="2.06" fill="#ddf2f7" />
<rect x="41.30" y="597.80" width="12.91" height="2.26" fill="#e54d34" />
<rect x="54.15" y="597.80" width="12.91" height="2.26" fill="#fdbb6d" />
<rect x="67.00" y="597.80" width="12.91" height="2.26" fill="#feeea5" />
<rect x="79.85" y="597.80" width="12.91" height="2.26" fill="#fffebd" />
<rect x="92.70" y="597.80" width="12.91" height="2.26" fill="#d4edf4" />
<rect x="105.55" y="597.80" width="12.91" height="2.26" fill="#d8eff6" />
<rect x="118.40" y="597.80" width="12.91" height="2.26" fill="#d5edf5" />
<rect x="131.25" y="597.80" width="12.91" height="2.26" fill="#dcf1f7" />
<rect x="41.30" y="600.00" width="12.91" height="2.56" fill="#f67e4b" />
<rect x="54.15" y="600.00" width="12.91" height="2.56" fill="#f57647" />
<rect x="67.00" y="600.00" width="12.91" height="2.56" fill="#fff1aa" />
<rect x="79.85" y="600.00" width="12.91" height="2.56" fill="#fffab8" />
<rect x="92.70" y="600.00" width="12.91" height="2.56" fill="#d6eef5" />
<rect x="105.55" y="600.00" width="12.91" height="2.56" fill="#def2f7" />
<rect x="118.40" y="600.00" width="12.91" height="2.56" fill="#def2f8" />
<rect x="131.25" y="600.00" width="12.91" height="2.56" fill="#d3edf4" />
<rect x="41.30" y="602.50" width="12.91" height="2.56" fill="#ed5e3c" />
<rect x="54.15" y="602.50" width="12.91" height="2.56" fill="#f8884f" />
<rect x="67.00" y="602.50" width="12.91" height="2.56" fill="#fff1aa" />
<rect x="79.85" y="602.50" width="12.91" height="2.56" fill="#fffcba" />
<rect x="92.70" y="602.50" width="12.91" height="2.56" fill="#d9eff6" />
<rect x="105.55" y="602.50" width="12.91" height="2.56" fill="#d8eff6" />
<rect x="118.40" y="602.50" width="12.91" height="2.56" fill="#daf0f6" />
<rect x="131.25" y="602.50" width="12.91" height="2.56" fill="#d1ebf4" />
<rect x="41.30" y="605.00" width="12.91" height="2.06" fill="#f67e4b" />
<rect x="54.15" y="605.00" width="12.91" height="2.06" fill="#f98e52" />
<rect x="67.00" y="605.00" width="12.91" height="2.06" fill="#feeda4" />
<rect x="79.85" y="605.00" width="12.91" height="2.06" fill="#fff6b2" />
<rect x="92.70" y="605.00" width="12.91" height="2.06" fill="#d8eff6" />
<rect x="105.55" y="605.00" width="12.91" height="2.06" fill="#dbf1f7" />
<rect x="118.40" y="605.00" width="12.91" height="2.06" fill="#d1ecf4" />
<rect x="131.25" y="605.00" width="12.91" height="2.06" fill="#d9eff6" />
<rect x="41.30" y="607.00" width="12.91" height="3.56" fill="#ee613e" />
<rect x="54.15" y="607.00" width="12.91" height="3.56" fill="#f67848" />
<rect x="67.00" y="607.00" width="12.91" height="3.56" fill="#fff4ae" />
<rect x="79.85" y="607.00" width="12.91" height="3.56" fill="#fffbb9" />
<rect x="92.70" y="607.00" width="12.91" height="3.56" fill="#d8eff6" />
<rect x="105.55" y="607.00" width="12.91" height="3.56" fill="#d6eef5" />
<rect x="118.40" y="607.00" width="12.91" height="3.56" fill="#def2f8" />
<rect x="131.25" y="607.00" width="12.91" height="3.56" fill="#dff2f8" />
<rect x="41.30" y="610.50" width="12.91" height="3.56" fill="#f67e4b" />
<rect x="54.15" y="610.50" width="12.91" height="3.56" fill="#fb9f5a" />
<rect x="67.00" y="610.50" width="12.91" height="3.56" fill="#fff3ad" />
<rect x="79.85" y="610.50" width="12.91" height="3.56" fill="#ffffbe" />
<rect x="92.70" y="610.50" width="12.91" height="3.56" fill="#d4edf5" />
<rect x="105.55" y="610.50" width="12.91" height="3.56" fill="#dbf1f7" />
<rect x="118.40" y="610.50" width="12.91" height="3.56" fill="#e0f3f8" />
<rect x="131.25" y="610.50" width="12.91" height="3.56" fill="#d1ebf4" />
<rect x="41.30" y="614.00" width="12.91" height="2.56" fill="#f99455" />
<rect x="54.15" y="614.00" width="12.91" height="2.56" fill="#f67e4b" />
<rect x="67.00" y="614.00" width="12.91" height="2.56" fill="#fff5b0" />
<rect x="79.85" y="614.00" width="12.91" height="2.56" fill="#fff9b7" />
<rect x="92.70" y="614.00" width="12.91" height="2.56" fill="#daf0f6" />
<rect x="105.55" y="614.00" width="12.91" height="2.56" fill="#d2ecf4" />
<rect x="118.40" y="614.00" width="12.91" height="2.56" fill="#dcf1f7" />
<rect x="131.25" y="614.00" width="12.91" height="2.56" fill="#d2ecf4" />
<rect x="41.30" y="616.50" width="12.91" height="1.56" fill="#f46f44" />
<rect x="54.15" y="616.50" width="12.91" height="1.56" fill="#f67e4b" />
<rect x="67.00" y="616.50" width="12.91" height="1.56" fill="#feeca3" />
<rect x="79.85" y="616.50" width="12.91" height="1.56" fill="#ffffbe" />
<rect x="92.70" y="616.50" width="12.91" height="1.56" fill="#daf0f6" />
<rect x="105.55" y="616.50" width="12.91" height="1.56" fill="#ddf2f7" />
<rect x="118.40" y="616.50" width="12.91" height="1.56" fill="#daf0f6" />
<rect x="131.25" y="616.50" width="12.91" height="1.56" fill="#d9eff6" />
<rect x="41.30" y="618.00" width="12.91" height="2.56" fill="#fdb96b" />
<rect x="54.15" y="618.00" width="12.91" height="2.56" fill="#f46c43" />
<rect x="67.00" y="618.00" width="12.91" height="2.56" fill="#fed787" />
<rect x="79.85" y="618.00" width="12.91" height="2.56" fill="#fee89c" />
<rect x="92.70" y="618.00" width="12.91" height="2.56" fill="#d4edf5" />
<rect x="105.55" y="618.00" width="12.91" height="2.56" fill="#dcf1f7" />
<rect x="118.40" y="618.00" width="12.91" height="2.56" fill="#ddf2f7" />
<rect x="131.25" y="618.00" width="12.91" height="2.56" fill="#def2f8" />
<rect x="41.30" y="620.50" width="12.91" height="3.06" fill="#fdb467" />
<rect x="54.15" y="620.50" width="12.91" height="3.06" fill="#f36a42" />
<rect x="67.00" y="620.50" width="12.91" height="3.06" fill="#feeba0" />
<rect x="79.85" y="620.50" width="12.91" height="3.06" fill="#feea9f" />
<rect x="92.70" y="620.50" width="12.91" height="3.06" fill="#d3edf4" />
<rect x="105.55" y="620.50" width="12.91" height="3.06" fill="#d2ecf4" />
<rect x="118.40" y="620.50" width="12.91" height="3.06" fill="#def2f8" />
<rect x="131.25" y="620.50" width="12.91" height="3.06" fill="#d2ecf4" />
<rect x="41.30" y="623.50" width="12.91" height="2.06" fill="#fec97a" />
<rect x="54.15" y="623.50" width="12.91" height="2.06" fill="#fa9656" />
<rect x="67.00" y="623.50" width="12.91" height="2.06" fill="#fec97b" />
<rect x="79.85" y="623.50" width="12.91" height="2.06" fill="#fff1aa" />
<rect x="92.70" y="623.50" width="12.91" height="2.06" fill="#ddf1f7" />
<rect x="105.55" y="623.50" width="12.91" height="2.06" fill="#d2ecf4" />
<rect x="118.40" y="623.50" width="12.91" height="2.06" fill="#d7eef5" />
<rect x="131.25" y="623.50" width="12.91" height="2.06" fill="#dbf1f7" />
<rect x="41.30" y="625.50" width="12.91" height="2.06" fill="#fed283" />
<rect x="54.15" y="625.50" width="12.91" height="2.06" fill="#f67c4a" />
<rect x="67.00" y="625.50" width="12.91" height="2.06" fill="#fee496" />
<rect x="79.85" y="625.50" width="12.91" height="2.06" fill="#fee99d" />
<rect x="92.70" y="625.50" width="12.91" height="2.06" fill="#d6eef5" />
<rect x="105.55" y="625.50" width="12.91" height="2.06" fill="#dbf1f7" />
<rect x="118.40" y="625.50" width="12.91" height="2.06" fill="#daf0f6" />
<rect x="131.25" y="625.50" width="12.91" height="2.06" fill="#d6eef5" />
<rect x="41.30" y="627.50" width="12.91" height="2.56" fill="#fca85e" />
<rect x="54.15" y="627.50" width="12.91" height="2.56" fill="#f7814c" />
<rect x="67.00" y="627.50" width="12.91" height="2.56" fill="#fff1aa" />
<rect x="79.85" y="627.50" width="12.91" height="2.56" fill="#feea9f" />
<rect x="92.70" y="627.50" width="12.91" height="2.56" fill="#daf0f6" />
<rect x="105.55" y="627.50" width="12.91" height="2.56" fill="#def2f8" />
<rect x="118.40" y="627.50" width="12.91" height="2.56" fill="#d8eff6" />
<rect x="131.25" y="627.50" width="12.91" height="2.56" fill="#d3edf4" />
<rect x="41.30" y="630.00" width="12.91" height="2.06" fill="#fecc7d" />
<rect x="54.15" y="630.00" width="12.91" height="2.06" fill="#f46d43" />
<rect x="67.00" y="630.00" width="12.91" height="2.06" fill="#fdbf71" />
<rect x="79.85" y="630.00" width="12.91" height="2.06" fill="#fee79a" />
<rect x="92.70" y="630.00" width="12.91" height="2.06" fill="#d2ecf4" />
<rect x="105.55" y="630.00" width="12.91" height="2.06" fill="#d1ecf4" />
<rect x="118.40" y="630.00" width="12.91" height="2.06" fill="#dff3f8" />
<rect x="131.25" y="630.00" width="12.91" height="2.06" fill="#d7eff6" />
<rect x="41.30" y="632.00" width="12.91" height="2.06" fill="#fdc576" />
<rect x="54.15" y="632.00" width="12.91" height="2.06" fill="#f7814c" />
<rect x="67.00" y="632.00" width="12.91" height="2.06" fill="#fedd8d" />
<rect x="79.85" y="632.00" width="12.91" height="2.06" fill="#fff1aa" />
<rect x="92.70" y="632.00" width="12.91" height="2.06" fill="#daf0f6" />
<rect x="105.55" y="632.00" width="12.91" height="2.06" fill="#d0ebf4" />
<rect x="118.40" y="632.00" width="12.91" height="2.06" fill="#dbf1f7" />
<rect x="131.25" y="632.00" width="12.91" height="2.06" fill="#def2f7" />
<rect x="41.30" y="634.00" width="12.91" height="2.56" fill="#fdc072" />
<rect x="54.15" y="634.00" width="12.91" height="2.56" fill="#f8874f" />
<rect x="67.00" y="634.00" width="12.91" height="2.56" fill="#fee496" />
<rect x="79.85" y="634.00" width="12.91" height="2.56" fill="#fee79a" />
<rect x="92.70" y="634.00" width="12.91" height="2.56" fill="#daf0f6" />
<rect x="105.55" y="634.00" width="12.91" height="2.56" fill="#d2ecf4" />
<rect x="118.40" y="634.00" width="12.91" height="2.56" fill="#ddf1f7" />
<rect x="131.25" y="634.00" width="12.91" height="2.56" fill="#d5eef5" />
<rect x="41.30" y="636.50" width="12.91" height="2.06" fill="#fca85e" />
<rect x="54.15" y="636.50" width="12.91" height="2.06" fill="#f57446" />
<rect x="67.00" y="636.50" width="12.91" height="2.06" fill="#fec779" />
<rect x="79.85" y="636.50" width="12.91" height="2.06" fill="#feeda3" />
<rect x="92.70" y="636.50" width="12.91" height="2.06" fill="#d7eef5" />
<rect x="105.55" y="636.50" width="12.91" height="2.06" fill="#daf0f6" />
<rect x="118.40" y="636.50" width="12.91" height="2.06" fill="#d8eff6" />
<rect x="131.25" y="636.50" width="12.91" height="2.06" fill="#e0f3f8" />
<rect x="41.30" y="638.50" width="12.91" height="3.06" fill="#fec779" />
<rect x="54.15" y="638.50" width="12.91" height="3.06" fill="#fa9555" />
<rect x="67.00" y="638.50" width="12.91" height="3.06" fill="#fecf80" />
<rect x="79.85" y="638.50" width="12.91" height="3.06" fill="#fff7b2" />
<rect x="92.70" y="638.50" width="12.91" height="3.06" fill="#dff2f8" />
<rect x="105.55" y="638.50" width="12.91" height="3.06" fill="#d2ecf4" />
<rect x="118.40" y="638.50" width="12.91" height="3.06" fill="#d5eef5" />
<rect x="131.25" y="638.50" width="12.91" height="3.06" fill="#d9eff6" />
<rect x="41.30" y="641.50" width="12.91" height="3.56" fill="#fdab5f" />
<rect x="54.15" y="641.50" width="12.91" height="3.56" fill="#f57145" />
<rect x="67.00" y="641.50" width="12.91" height="3.56" fill="#fee294" />
<rect x="79.85" y="641.50" width="12.91" height="3.56" fill="#feeba1" />
<rect x="92.70" y="641.50" width="12.91" height="3.56" fill="#d1ecf4" />
<rect x="105.55" y="641.50" width="12.91" height="3.56" fill="#d6eef5" />
<rect x="118.40" y="641.50" width="12.91" height="3.56" fill="#d8eff6" />
<rect x="131.25" y="641.50" width="12.91" height="3.56" fill="#d0ebf4" />
<rect x="41.30" y="645.00" width="12.91" height="3.06" fill="#fdae61" />
<rect x="54.15" y="645.00" width="12.91" height="3.06" fill="#e54e35" />
<rect x="67.00" y="645.00" width="12.91" height="3.06" fill="#fcfec4" />
<rect x="79.85" y="645.00" width="12.91" height="3.06" fill="#fbfec6" />
<rect x="92.70" y="645.00" width="12.91" height="3.06" fill="#f1fad9" />
<rect x="105.55" y="645.00" width="12.91" height="3.06" fill="#ebf7e3" />
<rect x="118.40" y="645.00" width="12.91" height="3.06" fill="#ebf7e5" />
<rect x="131.25" y="645.00" width="12.91" height="3.06" fill="#ecf8e2" />
<rect x="41.30" y="648.00" width="12.91" height="2.56" fill="#fdbe70" />
<rect x="54.15" y="648.00" width="12.91" height="2.56" fill="#ee5f3d" />
<rect x="67.00" y="648.00" width="12.91" height="2.56" fill="#fffab7" />
<rect x="79.85" y="648.00" width="12.91" height="2.56" fill="#ffffbf" />
<rect x="92.70" y="648.00" width="12.91" height="2.56" fill="#eff9dd" />
<rect x="105.55" y="648.00" width="12.91" height="2.56" fill="#eff9dc" />
<rect x="118.40" y="648.00" width="12.91" height="2.56" fill="#f1fad8" />
<rect x="131.25" y="648.00" width="12.91" height="2.56" fill="#e9f6e8" />
<rect x="41.30" y="650.50" width="12.91" height="2.06" fill="#fdb769" />
<rect x="54.15" y="650.50" width="12.91" height="2.06" fill="#f0643f" />
<rect x="67.00" y="650.50" width="12.91" height="2.06" fill="#fffebe" />
<rect x="79.85" y="650.50" width="12.91" height="2.06" fill="#f9fdca" />
<rect x="92.70" y="650.50" width="12.91" height="2.06" fill="#eaf7e5" />
<rect x="105.55" y="650.50" width="12.91" height="2.06" fill="#ecf8e2" />
<rect x="118.40" y="650.50" width="12.91" height="2.06" fill="#eaf7e6" />
<rect x="131.25" y="650.50" width="12.91" height="2.06" fill="#ebf7e4" />
<rect x="41.30" y="652.50" width="12.91" height="3.06" fill="#fdbd6f" />
<rect x="54.15" y="652.50" width="12.91" height="3.06" fill="#ec5b3b" />
<rect x="67.00" y="652.50" width="12.91" height="3.06" fill="#fffab8" />
<rect x="79.85" y="652.50" width="12.91" height="3.06" fill="#feffc1" />
<rect x="92.70" y="652.50" width="12.91" height="3.06" fill="#f1fad8" />
<rect x="105.55" y="652.50" width="12.91" height="3.06" fill="#eef9de" />
<rect x="118.40" y="652.50" width="12.91" height="3.06" fill="#f0f9db" />
<rect x="131.25" y="652.50" width="12.91" height="3.06" fill="#e9f7e7" />
<rect x="41.30" y="655.50" width="12.91" height="2.06" fill="#fdc274" />
<rect x="54.15" y="655.50" width="12.91" height="2.06" fill="#e44c34" />
<rect x="67.00" y="655.50" width="12.91" height="2.06" fill="#ffffbe" />
<rect x="79.85" y="655.50" width="12.91" height="2.06" fill="#fffdbb" />
<rect x="92.70" y="655.50" width="12.91" height="2.06" fill="#f0f9da" />
<rect x="105.55" y="655.50" width="12.91" height="2.06" fill="#edf8df" />
<rect x="118.40" y="655.50" width="12.91" height="2.06" fill="#eef8df" />
<rect x="131.25" y="655.50" width="12.91" height="2.06" fill="#ecf8e1" />
<rect x="41.30" y="657.50" width="12.91" height="2.56" fill="#fdc173" />
<rect x="54.15" y="657.50" width="12.91" height="2.56" fill="#eb5b3b" />
<rect x="67.00" y="657.50" width="12.91" height="2.56" fill="#fffdbc" />
<rect x="79.85" y="657.50" width="12.91" height="2.56" fill="#fcfec4" />
<rect x="92.70" y="657.50" width="12.91" height="2.56" fill="#ebf7e3" />
<rect x="105.55" y="657.50" width="12.91" height="2.56" fill="#eef9de" />
<rect x="118.40" y="657.50" width="12.91" height="2.56" fill="#eef8df" />
<rect x="131.25" y="657.50" width="12.91" height="2.56" fill="#ebf7e4" />
<rect x="41.00" y="497.70" width="25.60" height="4.60" fill="#1f5a8c" />
<rect x="66.55" y="497.70" width="25.60" height="4.60" fill="#6a2c84" />
<rect x="92.10" y="497.70" width="25.60" height="4.60" fill="#3db24a" />
<rect x="117.65" y="497.70" width="25.60" height="4.60" fill="#c41e3a" />
<text x="33.00" y="493.80" font-size="9.0" fill="#231f20" stroke="#231f20" stroke-width="0.14" textLength="48.20" lengthAdjust="spacingAndGlyphs" >H3K36me3</text>
<text x="93.00" y="493.80" font-size="9.0" fill="#231f20" stroke="#231f20" stroke-width="0.14" textLength="48.20" lengthAdjust="spacingAndGlyphs" >H3K27me3</text>
<path d="M31.20,521.60L31.20,533.36M31.20,521.60L36.14,521.60M31.20,533.36L33.16,533.36M30.21,555.01L30.21,574.21M30.21,555.01L32.92,555.01M30.21,574.21L34.94,574.21M25.38,527.48L25.38,564.61M25.38,527.48L31.20,527.48M25.38,564.61L30.21,564.61M23.66,510.65L23.66,546.04M23.66,510.65L35.23,510.65M23.66,546.04L25.38,546.04M23.20,503.81L23.20,528.35M23.20,503.81L39.03,503.81M23.20,528.35L23.66,528.35M31.40,603.25L31.40,616.71M31.40,603.25L36.14,603.25M31.40,616.71L33.39,616.71M30.41,631.37L30.41,651.09M30.41,631.37L35.82,631.37M30.41,651.09L32.47,651.09M25.68,609.98L25.68,641.23M25.68,609.98L31.40,609.98M25.68,641.23L30.41,641.23M23.80,590.20L23.80,625.61M23.80,590.20L34.94,590.20M23.80,625.61L25.68,625.61M20.60,582.83L20.60,607.90M20.60,582.83L36.82,582.83M20.60,607.90L23.80,607.90M19.40,516.08L19.40,595.36M19.40,516.08L23.20,516.08M19.40,595.36L20.60,595.36" stroke="#2a2a2a" stroke-width="0.5" fill="none"/>
<path d="M39.03,503.33L39.03,504.29M39.03,503.33L41.00,503.33M39.03,504.29L41.00,504.29M39.03,506.02L39.03,506.94M39.03,506.02L41.00,506.02M39.03,506.94L41.00,506.94M38.49,505.18L38.49,506.48M38.49,505.18L41.00,505.18M38.49,506.48L39.03,506.48M39.03,508.16L39.03,509.03M39.03,508.16L41.00,508.16M39.03,509.03L41.00,509.03M39.03,509.81L39.03,510.67M39.03,509.81L41.00,509.81M39.03,510.67L41.00,510.67M38.49,508.59L38.49,510.24M38.49,508.59L39.03,508.59M38.49,510.24L39.03,510.24M37.19,505.83L37.19,509.42M37.19,505.83L38.49,505.83M37.19,509.42L38.49,509.42M39.03,512.43L39.03,513.46M39.03,512.43L41.00,512.43M39.03,513.46L41.00,513.46M38.49,511.42L38.49,512.95M38.49,511.42L41.00,511.42M38.49,512.95L39.03,512.95M39.03,515.55L39.03,516.30M39.03,515.55L41.00,515.55M39.03,516.30L41.00,516.30M38.49,514.45L38.49,515.93M38.49,514.45L41.00,514.45M38.49,515.93L39.03,515.93M37.59,512.19L37.59,515.19M37.59,512.19L38.49,512.19M37.59,515.19L38.49,515.19M35.23,507.62L35.23,513.69M35.23,507.62L37.19,507.62M35.23,513.69L37.59,513.69M39.03,518.58L39.03,519.63M39.03,518.58L41.00,518.58M39.03,519.63L41.00,519.63M38.01,517.27L38.01,519.11M38.01,517.27L41.00,517.27M38.01,519.11L39.03,519.11M39.03,520.41L39.03,521.26M39.03,520.41L41.00,520.41M39.03,521.26L41.00,521.26M37.59,518.19L37.59,520.83M37.59,518.19L38.01,518.19M37.59,520.83L39.03,520.83M39.03,522.67L39.03,523.42M39.03,522.67L41.00,522.67M39.03,523.42L41.00,523.42M39.03,522.10L39.03,523.04M39.03,522.10L41.00,522.10M39.03,523.04L39.03,523.04M39.03,524.31L39.03,525.29M39.03,524.31L41.00,524.31M39.03,525.29L41.00,525.29M38.01,522.57L38.01,524.80M38.01,522.57L39.03,522.57M38.01,524.80L39.03,524.80M36.14,519.51L36.14,523.68M36.14,519.51L37.59,519.51M36.14,523.68L38.01,523.68M39.03,526.34L39.03,527.19M39.03,526.34L41.00,526.34M39.03,527.19L41.00,527.19M38.49,526.76L38.49,528.03M38.49,526.76L39.03,526.76M38.49,528.03L41.00,528.03M39.03,528.93L39.03,529.68M39.03,528.93L41.00,528.93M39.03,529.68L41.00,529.68M39.03,529.31L39.03,530.47M39.03,529.31L39.03,529.31M39.03,530.47L41.00,530.47M37.59,527.40L37.59,529.89M37.59,527.40L38.49,527.40M37.59,529.89L39.03,529.89M39.03,532.20L39.03,533.00M39.03,532.20L41.00,532.20M39.03,533.00L41.00,533.00M38.49,531.46L38.49,532.60M38.49,531.46L41.00,531.46M38.49,532.60L39.03,532.60M39.03,534.17L39.03,535.13M39.03,534.17L41.00,534.17M39.03,535.13L41.00,535.13M38.49,534.65L38.49,535.84M38.49,534.65L39.03,534.65M38.49,535.84L41.00,535.84M38.01,535.24L38.01,536.69M38.01,535.24L38.49,535.24M38.01,536.69L41.00,536.69M37.19,532.03L37.19,535.97M37.19,532.03L38.49,532.03M37.19,535.97L38.01,535.97M39.03,537.65L39.03,538.45M39.03,537.65L41.00,537.65M39.03,538.45L41.00,538.45M38.49,538.05L38.49,539.42M38.49,538.05L39.03,538.05M38.49,539.42L41.00,539.42M39.03,541.74L39.03,542.66M39.03,541.74L41.00,541.74M39.03,542.66L41.00,542.66M38.49,540.72L38.49,542.20M38.49,540.72L41.00,540.72M38.49,542.20L39.03,542.20M37.19,538.74L37.19,541.46M37.19,538.74L38.49,538.74M37.19,541.46L38.49,541.46M39.03,543.66L39.03,544.76M39.03,543.66L41.00,543.66M39.03,544.76L41.00,544.76M36.47,540.10L36.47,544.21M36.47,540.10L37.19,540.10M36.47,544.21L39.03,544.21M34.67,534.00L34.67,542.15M34.67,534.00L37.19,534.00M34.67,542.15L36.47,542.15M33.16,528.64L33.16,538.08M33.16,528.64L37.59,528.64M33.16,538.08L34.67,538.08M39.03,545.65L39.03,546.43M39.03,545.65L41.00,545.65M39.03,546.43L41.00,546.43M39.03,547.64L39.03,548.58M39.03,547.64L41.00,547.64M39.03,548.58L41.00,548.58M38.49,546.04L38.49,548.11M38.49,546.04L39.03,546.04M38.49,548.11L39.03,548.11M39.03,550.47L39.03,551.34M39.03,550.47L41.00,550.47M39.03,551.34L41.00,551.34M38.49,549.55L38.49,550.90M38.49,549.55L41.00,549.55M38.49,550.90L39.03,550.90M39.03,552.27L39.03,553.15M39.03,552.27L41.00,552.27M39.03,553.15L41.00,553.15M37.59,550.23L37.59,552.71M37.59,550.23L38.49,550.23M37.59,552.71L39.03,552.71M36.47,547.07L36.47,551.47M36.47,547.07L38.49,547.07M36.47,551.47L37.59,551.47M39.03,554.22L39.03,555.07M39.03,554.22L41.00,554.22M39.03,555.07L41.00,555.07M39.03,555.94L39.03,556.81M39.03,555.94L41.00,555.94M39.03,556.81L41.00,556.81M38.49,556.37L38.49,557.74M38.49,556.37L39.03,556.37M38.49,557.74L41.00,557.74M37.59,554.64L37.59,557.06M37.59,554.64L39.03,554.64M37.59,557.06L38.49,557.06M39.03,559.87L39.03,560.69M39.03,559.87L41.00,559.87M39.03,560.69L41.00,560.69M39.03,560.28L39.03,561.43M39.03,560.28L39.03,560.28M39.03,561.43L41.00,561.43M38.49,558.90L38.49,560.85M38.49,558.90L41.00,558.90M38.49,560.85L39.03,560.85M36.47,555.85L36.47,559.88M36.47,555.85L37.59,555.85M36.47,559.88L38.49,559.88M39.03,563.70L39.03,564.57M39.03,563.70L41.00,563.70M39.03,564.57L41.00,564.57M39.03,565.13L39.03,566.05M39.03,565.13L41.00,565.13M39.03,566.05L41.00,566.05M38.01,564.13L38.01,565.59M38.01,564.13L39.03,564.13M38.01,565.59L39.03,565.59M37.59,562.41L37.59,564.86M37.59,562.41L41.00,562.41M37.59,564.86L38.01,564.86M34.94,557.86L34.94,563.64M34.94,557.86L36.47,557.86M34.94,563.64L37.59,563.64M32.92,549.27L32.92,560.75M32.92,549.27L36.47,549.27M32.92,560.75L34.94,560.75M39.03,568.37L39.03,569.47M39.03,568.37L41.00,568.37M39.03,569.47L41.00,569.47M38.49,568.92L38.49,570.60M38.49,568.92L39.03,568.92M38.49,570.60L41.00,570.60M38.01,567.34L38.01,569.76M38.01,567.34L41.00,567.34M38.01,569.76L38.49,569.76M39.03,571.26L39.03,572.16M39.03,571.26L41.00,571.26M39.03,572.16L41.00,572.16M39.03,574.54L39.03,575.37M39.03,574.54L41.00,574.54M39.03,575.37L41.00,575.37M38.49,573.37L38.49,574.95M38.49,573.37L41.00,573.37M38.49,574.95L39.03,574.95M37.59,571.71L37.59,574.16M37.59,571.71L39.03,571.71M37.59,574.16L38.49,574.16M36.14,568.55L36.14,572.94M36.14,568.55L38.01,568.55M36.14,572.94L37.59,572.94M39.03,576.29L39.03,577.30M39.03,576.29L41.00,576.29M39.03,577.30L41.00,577.30M39.03,578.11L39.03,579.02M39.03,578.11L41.00,578.11M39.03,579.02L41.00,579.02M38.01,576.79L38.01,578.56M38.01,576.79L39.03,576.79M38.01,578.56L39.03,578.56M34.94,570.74L34.94,577.68M34.94,570.74L36.14,570.74M34.94,577.68L38.01,577.68M39.03,579.93L39.03,580.69M39.03,579.93L41.00,579.93M39.03,580.69L41.00,580.69M38.49,580.31L38.49,581.64M38.49,580.31L39.03,580.31M38.49,581.64L41.00,581.64M39.03,583.96L39.03,584.86M39.03,583.96L41.00,583.96M39.03,584.86L41.00,584.86M38.49,582.85L38.49,584.41M38.49,582.85L41.00,582.85M38.49,584.41L39.03,584.41M38.01,583.63L38.01,585.73M38.01,583.63L38.49,583.63M38.01,585.73L41.00,585.73M36.82,580.97L36.82,584.68M36.82,580.97L38.49,580.97M36.82,584.68L38.01,584.68M39.03,588.12L39.03,589.35M39.03,588.12L41.00,588.12M39.03,589.35L41.00,589.35M38.01,588.74L38.01,590.57M38.01,588.74L39.03,588.74M38.01,590.57L41.00,590.57M39.03,592.65L39.03,593.40M39.03,592.65L41.00,592.65M39.03,593.40L41.00,593.40M39.03,591.66L39.03,593.03M39.03,591.66L41.00,591.66M39.03,593.03L39.03,593.03M37.19,589.65L37.19,592.34M37.19,589.65L38.01,589.65M37.19,592.34L39.03,592.34M39.03,594.25L39.03,595.30M39.03,594.25L41.00,594.25M39.03,595.30L41.00,595.30M39.03,595.96L39.03,596.77M39.03,595.96L41.00,595.96M39.03,596.77L41.00,596.77M39.03,597.62L39.03,598.42M39.03,597.62L41.00,597.62M39.03,598.42L41.00,598.42M38.49,596.37L38.49,598.02M38.49,596.37L39.03,596.37M38.49,598.02L39.03,598.02M37.59,594.77L37.59,597.19M37.59,594.77L39.03,594.77M37.59,597.19L38.49,597.19M35.52,591.00L35.52,595.98M35.52,591.00L37.19,591.00M35.52,595.98L37.59,595.98M34.94,586.91L34.94,593.49M34.94,586.91L41.00,586.91M34.94,593.49L35.52,593.49M39.03,600.41L39.03,601.46M39.03,600.41L41.00,600.41M39.03,601.46L41.00,601.46M38.49,599.33L38.49,600.94M38.49,599.33L41.00,599.33M38.49,600.94L39.03,600.94M39.03,602.08L39.03,602.88M39.03,602.08L41.00,602.08M39.03,602.88L41.00,602.88M37.59,600.13L37.59,602.48M37.59,600.13L38.49,600.13M37.59,602.48L39.03,602.48M39.03,606.55L39.03,607.54M39.03,606.55L41.00,606.55M39.03,607.54L41.00,607.54M38.49,605.53L38.49,607.04M38.49,605.53L41.00,605.53M38.49,607.04L39.03,607.04M37.59,604.12L37.59,606.28M37.59,604.12L41.00,604.12M37.59,606.28L38.49,606.28M36.14,601.31L36.14,605.20M36.14,601.31L37.59,601.31M36.14,605.20L37.59,605.20M39.03,608.56L39.03,609.40M39.03,608.56L41.00,608.56M39.03,609.40L41.00,609.40M38.49,608.98L38.49,610.55M38.49,608.98L39.03,608.98M38.49,610.55L41.00,610.55M39.03,611.78L39.03,613.03M39.03,611.78L41.00,611.78M39.03,613.03L41.00,613.03M39.03,614.18L39.03,614.95M39.03,614.18L41.00,614.18M39.03,614.95L41.00,614.95M39.03,615.97L39.03,617.01M39.03,615.97L41.00,615.97M39.03,617.01L41.00,617.01M38.01,614.57L38.01,616.49M38.01,614.57L39.03,614.57M38.01,616.49L39.03,616.49M37.19,612.40L37.19,615.53M37.19,612.40L39.03,612.40M37.19,615.53L38.01,615.53M36.14,609.77L36.14,613.97M36.14,609.77L38.49,609.77M36.14,613.97L37.19,613.97M38.49,618.02L38.49,619.34M38.49,618.02L41.00,618.02M38.49,619.34L41.00,619.34M39.03,621.78L39.03,622.81M39.03,621.78L41.00,621.78M39.03,622.81L41.00,622.81M38.49,620.56L38.49,622.29M38.49,620.56L41.00,620.56M38.49,622.29L39.03,622.29M39.03,623.66L39.03,624.70M39.03,623.66L41.00,623.66M39.03,624.70L41.00,624.70M37.59,621.43L37.59,624.18M37.59,621.43L38.49,621.43M37.59,624.18L39.03,624.18M39.03,625.56L39.03,626.49M39.03,625.56L41.00,625.56M39.03,626.49L41.00,626.49M36.82,622.80L36.82,626.03M36.82,622.80L37.59,622.80M36.82,626.03L39.03,626.03M35.82,618.68L35.82,624.42M35.82,618.68L38.49,618.68M35.82,624.42L36.82,624.42M33.39,611.87L33.39,621.55M33.39,611.87L36.14,611.87M33.39,621.55L35.82,621.55M39.03,627.69L39.03,628.91M39.03,627.69L41.00,627.69M39.03,628.91L41.00,628.91M38.49,628.30L38.49,630.02M38.49,628.30L39.03,628.30M38.49,630.02L41.00,630.02M39.03,630.95L39.03,631.88M39.03,630.95L41.00,630.95M39.03,631.88L41.00,631.88M38.49,631.42L38.49,633.05M38.49,631.42L39.03,631.42M38.49,633.05L41.00,633.05M39.03,635.15L39.03,636.19M39.03,635.15L41.00,635.15M39.03,636.19L41.00,636.19M38.49,634.18L38.49,635.67M38.49,634.18L41.00,634.18M38.49,635.67L39.03,635.67M37.19,632.23L37.19,634.93M37.19,632.23L38.49,632.23M37.19,634.93L38.49,634.93M35.82,629.16L35.82,633.58M35.82,629.16L38.49,629.16M35.82,633.58L37.19,633.58M39.03,636.90L39.03,637.71M39.03,636.90L41.00,636.90M39.03,637.71L41.00,637.71M38.49,637.30L38.49,638.81M38.49,637.30L39.03,637.30M38.49,638.81L41.00,638.81M39.03,640.29L39.03,641.12M39.03,640.29L41.00,640.29M39.03,641.12L41.00,641.12M39.03,639.63L39.03,640.71M39.03,639.63L41.00,639.63M39.03,640.71L39.03,640.71M38.01,640.17L38.01,642.23M38.01,640.17L39.03,640.17M38.01,642.23L41.00,642.23M37.19,638.06L37.19,641.20M37.19,638.06L38.49,638.06M37.19,641.20L38.01,641.20M39.03,644.73L39.03,645.56M39.03,644.73L41.00,644.73M39.03,645.56L41.00,645.56M39.03,645.14L39.03,646.35M39.03,645.14L39.03,645.14M39.03,646.35L41.00,646.35M38.01,643.63L38.01,645.75M38.01,643.63L41.00,643.63M38.01,645.75L39.03,645.75M35.82,639.63L35.82,644.69M35.82,639.63L37.19,639.63M35.82,644.69L38.01,644.69M39.03,647.20L39.03,647.98M39.03,647.20L41.00,647.20M39.03,647.98L41.00,647.98M39.03,647.59L39.03,648.60M39.03,647.59L39.03,647.59M39.03,648.60L41.00,648.60M38.49,650.84L38.49,652.10M38.49,650.84L41.00,650.84M38.49,652.10L41.00,652.10M38.01,649.60L38.01,651.47M38.01,649.60L41.00,649.60M38.01,651.47L38.49,651.47M37.19,648.10L37.19,650.54M37.19,648.10L39.03,648.10M37.19,650.54L38.01,650.54M34.14,642.16L34.14,649.32M34.14,642.16L35.82,642.16M34.14,649.32L37.19,649.32M39.03,652.97L39.03,653.84M39.03,652.97L41.00,652.97M39.03,653.84L41.00,653.84M39.03,656.11L39.03,657.12M39.03,656.11L41.00,656.11M39.03,657.12L41.00,657.12M38.49,654.93L38.49,656.62M38.49,654.93L41.00,654.93M38.49,656.62L39.03,656.62M37.59,653.40L37.59,655.77M37.59,653.40L39.03,653.40M37.59,655.77L38.49,655.77M39.03,658.40L39.03,659.32M39.03,658.40L41.00,658.40M39.03,659.32L41.00,659.32M38.49,657.76L38.49,658.86M38.49,657.76L41.00,657.76M38.49,658.86L39.03,658.86M36.82,654.59L36.82,658.31M36.82,654.59L37.59,654.59M36.82,658.31L38.49,658.31M32.47,645.74L32.47,656.45M32.47,645.74L34.14,645.74M32.47,656.45L36.82,656.45" stroke="#000" stroke-width="0.8" fill="none"/>
<defs><linearGradient id="cs" x1="0" y1="0" x2="0" y2="1"><stop offset="0" stop-color="#d73027"/><stop offset="0.15" stop-color="#f46d43"/><stop offset="0.3" stop-color="#fdae61"/><stop offset="0.43" stop-color="#fee090"/><stop offset="0.536" stop-color="#ffffbf"/><stop offset="0.64" stop-color="#e0f3f8"/><stop offset="0.77" stop-color="#abd9e9"/><stop offset="0.88" stop-color="#74add1"/><stop offset="1" stop-color="#4575b4"/></linearGradient></defs>
<rect x="146.90" y="502.70" width="3.90" height="72.90" fill="url(#cs)" />
<text x="151.00" y="516.00" font-size="7.4" fill="#231f20" stroke="#231f20" stroke-width="0.14" >2</text>
<text x="151.00" y="529.90" font-size="7.4" fill="#231f20" stroke="#231f20" stroke-width="0.14" >1</text>
<text x="151.00" y="544.50" font-size="7.4" fill="#231f20" stroke="#231f20" stroke-width="0.14" >0</text>
<text x="151.00" y="558.90" font-size="7.4" fill="#231f20" stroke="#231f20" stroke-width="0.14" >-1</text>
<text x="151.00" y="573.30" font-size="7.4" fill="#231f20" stroke="#231f20" stroke-width="0.14" >-2</text>
<rect x="156.90" y="503.70" width="6.20" height="6.70" fill="#3db24a" />
<text x="166.90" y="510.00" font-size="7.9" fill="#231f20" stroke="#231f20" stroke-width="0.14" textLength="49.10" lengthAdjust="spacingAndGlyphs" >H3K27me3 EB</text>
<rect x="156.90" y="512.60" width="6.20" height="6.70" fill="#c41e3a" />
<text x="166.90" y="518.90" font-size="7.9" fill="#231f20" stroke="#231f20" stroke-width="0.14" textLength="60.10" lengthAdjust="spacingAndGlyphs" >H3K27me3 Ortho</text>
<rect x="156.90" y="521.40" width="6.20" height="6.70" fill="#1f5a8c" />
<text x="166.90" y="527.70" font-size="7.9" fill="#231f20" stroke="#231f20" stroke-width="0.14" textLength="49.10" lengthAdjust="spacingAndGlyphs" >H3K36me3 EB</text>
<rect x="156.90" y="530.20" width="6.20" height="6.70" fill="#6a2c84" />
<text x="166.90" y="536.50" font-size="7.9" fill="#231f20" stroke="#231f20" stroke-width="0.14" textLength="60.10" lengthAdjust="spacingAndGlyphs" >H3K36me3 Ortho</text>
<circle cx="49.3" cy="668" r="8.2" fill="#1f5a8c"/>
<circle cx="49.3" cy="668" r="5.4" fill="#6a2c84"/>
<line x1="60.00" y1="668.00" x2="66.80" y2="668.00" stroke="#1f5a8c" stroke-width="1" />
<path d="M66.20,666.30 L68.80,668.00 L66.20,669.70 Z" fill="#1f5a8c"/>
<circle cx="76.8" cy="668" r="6.8" fill="#c41e3a"/>
<circle cx="78.0" cy="669.5" r="2.9" fill="#1f5a8c"/>
<circle cx="103.5" cy="668" r="8.2" fill="#1f5a8c"/>
<circle cx="103.5" cy="668" r="5.4" fill="#6a2c84"/>
<line x1="114.30" y1="668.00" x2="121.40" y2="668.00" stroke="#1f5a8c" stroke-width="1" />
<path d="M120.80,666.30 L123.40,668.00 L120.80,669.70 Z" fill="#1f5a8c"/>
<circle cx="132.3" cy="668" r="6.8" fill="#c41e3a"/>
<circle cx="133.5" cy="669.5" r="2.9" fill="#1f5a8c"/></svg>
<div class="frame"></div>
</body></html>
